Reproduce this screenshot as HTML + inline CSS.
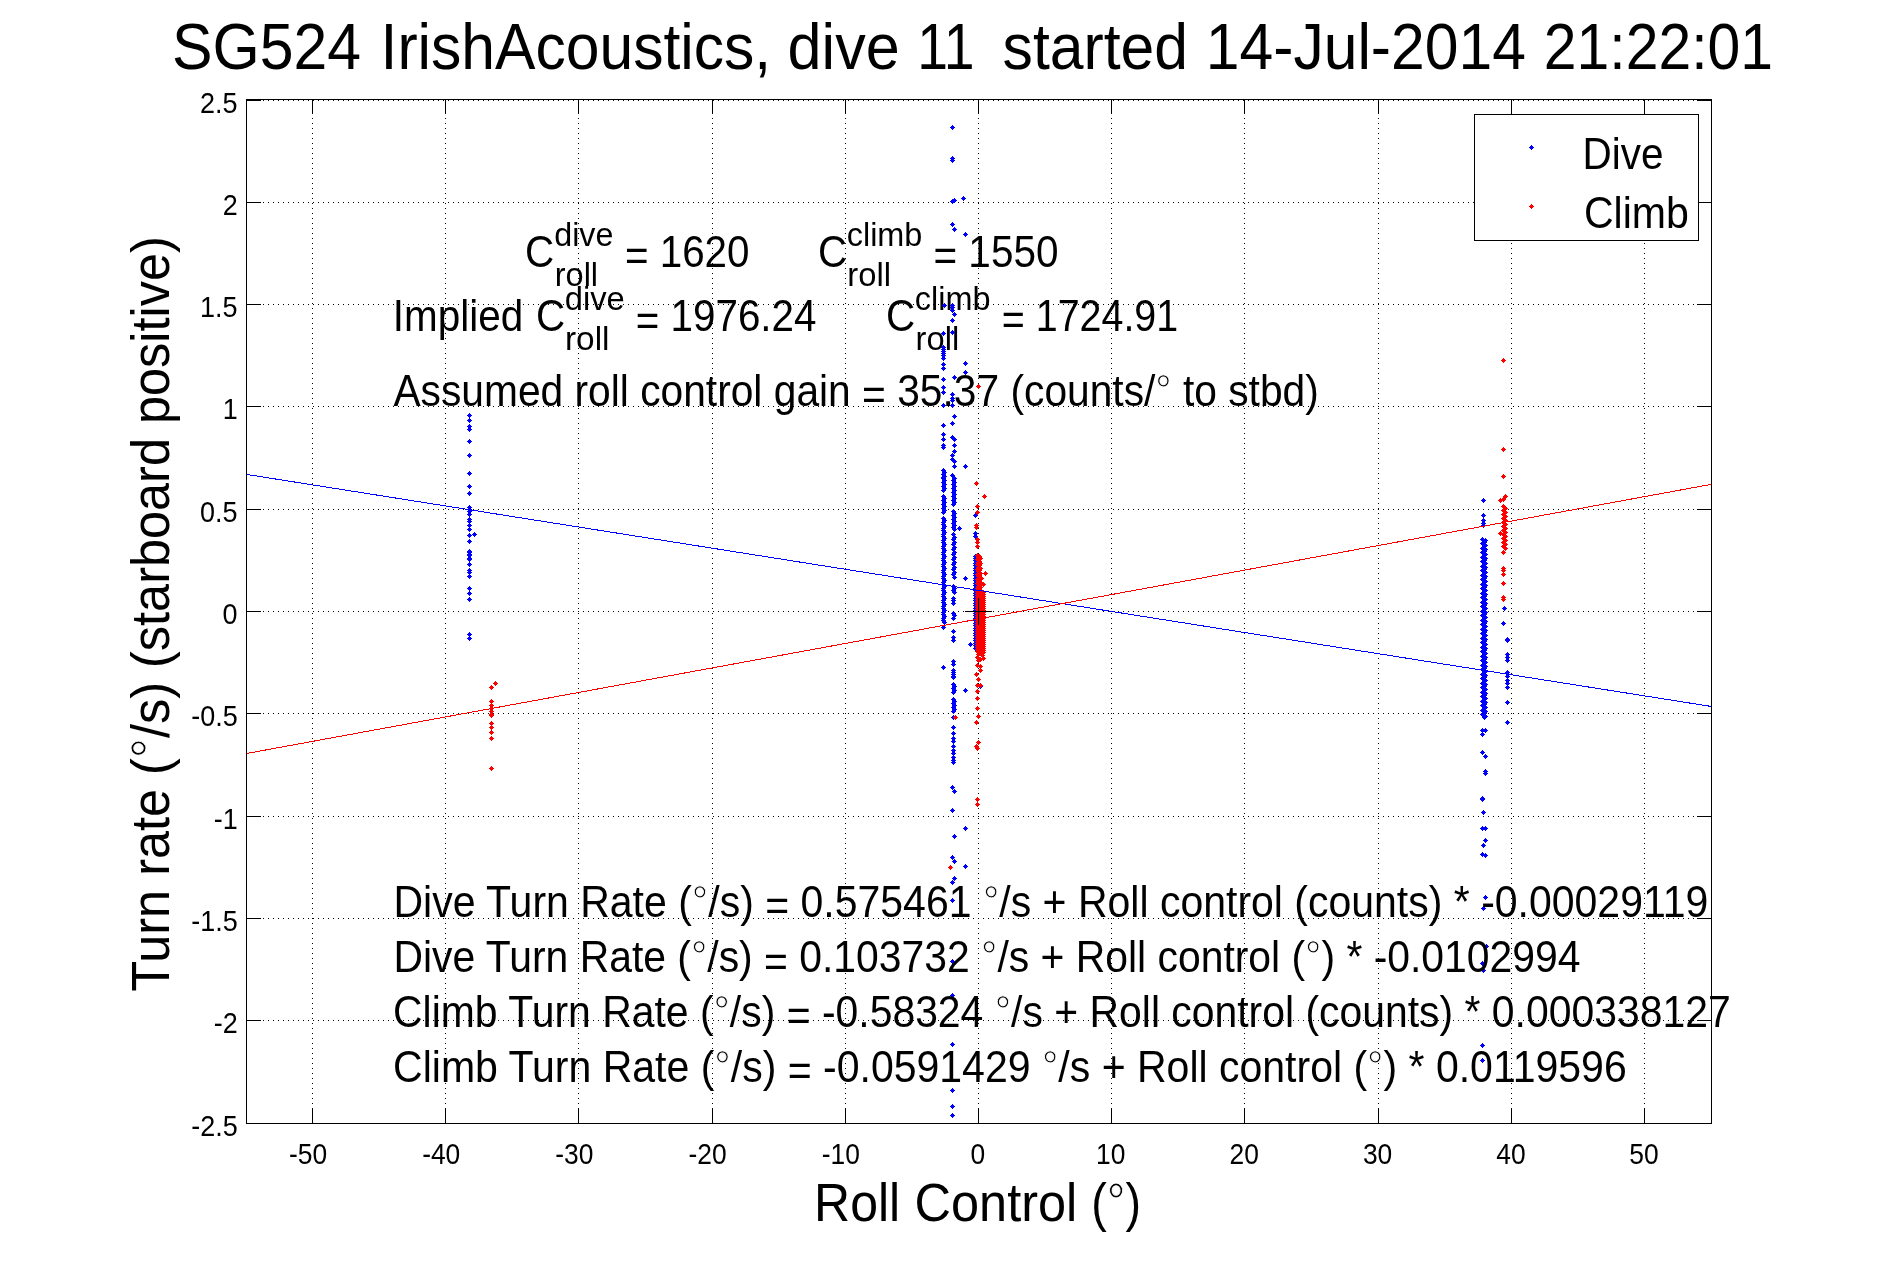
<!DOCTYPE html>
<html><head><meta charset="utf-8"><style>html,body{margin:0;padding:0;background:#fff;overflow:hidden}svg{display:block;will-change:transform}</style></head>
<body><svg width="1891" height="1262" viewBox="0 0 1891 1262">
<rect width="1891" height="1262" fill="#fff"/>
<path fill="#000" d="M312 103h1v1h-1zM312 108h1v1h-1zM312 113h1v1h-1zM312 118h1v1h-1zM312 123h1v1h-1zM312 128h1v1h-1zM312 133h1v1h-1zM312 138h1v1h-1zM312 143h1v1h-1zM312 148h1v1h-1zM312 153h1v1h-1zM312 158h1v1h-1zM312 163h1v1h-1zM312 168h1v1h-1zM312 173h1v1h-1zM312 178h1v1h-1zM312 183h1v1h-1zM312 188h1v1h-1zM312 193h1v1h-1zM312 198h1v1h-1zM312 203h1v1h-1zM312 208h1v1h-1zM312 213h1v1h-1zM312 218h1v1h-1zM312 223h1v1h-1zM312 228h1v1h-1zM312 233h1v1h-1zM312 238h1v1h-1zM312 243h1v1h-1zM312 248h1v1h-1zM312 253h1v1h-1zM312 258h1v1h-1zM312 263h1v1h-1zM312 268h1v1h-1zM312 273h1v1h-1zM312 278h1v1h-1zM312 283h1v1h-1zM312 288h1v1h-1zM312 293h1v1h-1zM312 298h1v1h-1zM312 303h1v1h-1zM312 308h1v1h-1zM312 313h1v1h-1zM312 318h1v1h-1zM312 323h1v1h-1zM312 328h1v1h-1zM312 333h1v1h-1zM312 338h1v1h-1zM312 343h1v1h-1zM312 348h1v1h-1zM312 353h1v1h-1zM312 358h1v1h-1zM312 363h1v1h-1zM312 368h1v1h-1zM312 373h1v1h-1zM312 378h1v1h-1zM312 383h1v1h-1zM312 388h1v1h-1zM312 393h1v1h-1zM312 398h1v1h-1zM312 403h1v1h-1zM312 408h1v1h-1zM312 413h1v1h-1zM312 418h1v1h-1zM312 423h1v1h-1zM312 428h1v1h-1zM312 433h1v1h-1zM312 438h1v1h-1zM312 443h1v1h-1zM312 448h1v1h-1zM312 453h1v1h-1zM312 458h1v1h-1zM312 463h1v1h-1zM312 468h1v1h-1zM312 473h1v1h-1zM312 478h1v1h-1zM312 483h1v1h-1zM312 488h1v1h-1zM312 493h1v1h-1zM312 498h1v1h-1zM312 503h1v1h-1zM312 508h1v1h-1zM312 513h1v1h-1zM312 518h1v1h-1zM312 523h1v1h-1zM312 528h1v1h-1zM312 533h1v1h-1zM312 538h1v1h-1zM312 543h1v1h-1zM312 548h1v1h-1zM312 553h1v1h-1zM312 558h1v1h-1zM312 563h1v1h-1zM312 568h1v1h-1zM312 573h1v1h-1zM312 578h1v1h-1zM312 583h1v1h-1zM312 588h1v1h-1zM312 593h1v1h-1zM312 598h1v1h-1zM312 603h1v1h-1zM312 608h1v1h-1zM312 613h1v1h-1zM312 618h1v1h-1zM312 623h1v1h-1zM312 628h1v1h-1zM312 633h1v1h-1zM312 638h1v1h-1zM312 643h1v1h-1zM312 648h1v1h-1zM312 653h1v1h-1zM312 658h1v1h-1zM312 663h1v1h-1zM312 668h1v1h-1zM312 673h1v1h-1zM312 678h1v1h-1zM312 683h1v1h-1zM312 688h1v1h-1zM312 693h1v1h-1zM312 698h1v1h-1zM312 703h1v1h-1zM312 708h1v1h-1zM312 713h1v1h-1zM312 718h1v1h-1zM312 723h1v1h-1zM312 728h1v1h-1zM312 733h1v1h-1zM312 738h1v1h-1zM312 743h1v1h-1zM312 748h1v1h-1zM312 753h1v1h-1zM312 758h1v1h-1zM312 763h1v1h-1zM312 768h1v1h-1zM312 773h1v1h-1zM312 778h1v1h-1zM312 783h1v1h-1zM312 788h1v1h-1zM312 793h1v1h-1zM312 798h1v1h-1zM312 803h1v1h-1zM312 808h1v1h-1zM312 813h1v1h-1zM312 818h1v1h-1zM312 823h1v1h-1zM312 828h1v1h-1zM312 833h1v1h-1zM312 838h1v1h-1zM312 843h1v1h-1zM312 848h1v1h-1zM312 853h1v1h-1zM312 858h1v1h-1zM312 863h1v1h-1zM312 868h1v1h-1zM312 873h1v1h-1zM312 878h1v1h-1zM312 883h1v1h-1zM312 888h1v1h-1zM312 893h1v1h-1zM312 898h1v1h-1zM312 903h1v1h-1zM312 908h1v1h-1zM312 913h1v1h-1zM312 918h1v1h-1zM312 923h1v1h-1zM312 928h1v1h-1zM312 933h1v1h-1zM312 938h1v1h-1zM312 943h1v1h-1zM312 948h1v1h-1zM312 953h1v1h-1zM312 958h1v1h-1zM312 963h1v1h-1zM312 968h1v1h-1zM312 973h1v1h-1zM312 978h1v1h-1zM312 983h1v1h-1zM312 988h1v1h-1zM312 993h1v1h-1zM312 998h1v1h-1zM312 1003h1v1h-1zM312 1008h1v1h-1zM312 1013h1v1h-1zM312 1018h1v1h-1zM312 1023h1v1h-1zM312 1028h1v1h-1zM312 1033h1v1h-1zM312 1038h1v1h-1zM312 1043h1v1h-1zM312 1048h1v1h-1zM312 1053h1v1h-1zM312 1058h1v1h-1zM312 1063h1v1h-1zM312 1068h1v1h-1zM312 1073h1v1h-1zM312 1078h1v1h-1zM312 1083h1v1h-1zM312 1088h1v1h-1zM312 1093h1v1h-1zM312 1098h1v1h-1zM312 1103h1v1h-1zM312 1108h1v1h-1zM312 1113h1v1h-1zM312 1118h1v1h-1zM445 103h1v1h-1zM445 108h1v1h-1zM445 113h1v1h-1zM445 118h1v1h-1zM445 123h1v1h-1zM445 128h1v1h-1zM445 133h1v1h-1zM445 138h1v1h-1zM445 143h1v1h-1zM445 148h1v1h-1zM445 153h1v1h-1zM445 158h1v1h-1zM445 163h1v1h-1zM445 168h1v1h-1zM445 173h1v1h-1zM445 178h1v1h-1zM445 183h1v1h-1zM445 188h1v1h-1zM445 193h1v1h-1zM445 198h1v1h-1zM445 203h1v1h-1zM445 208h1v1h-1zM445 213h1v1h-1zM445 218h1v1h-1zM445 223h1v1h-1zM445 228h1v1h-1zM445 233h1v1h-1zM445 238h1v1h-1zM445 243h1v1h-1zM445 248h1v1h-1zM445 253h1v1h-1zM445 258h1v1h-1zM445 263h1v1h-1zM445 268h1v1h-1zM445 273h1v1h-1zM445 278h1v1h-1zM445 283h1v1h-1zM445 288h1v1h-1zM445 293h1v1h-1zM445 298h1v1h-1zM445 303h1v1h-1zM445 308h1v1h-1zM445 313h1v1h-1zM445 318h1v1h-1zM445 323h1v1h-1zM445 328h1v1h-1zM445 333h1v1h-1zM445 338h1v1h-1zM445 343h1v1h-1zM445 348h1v1h-1zM445 353h1v1h-1zM445 358h1v1h-1zM445 363h1v1h-1zM445 368h1v1h-1zM445 373h1v1h-1zM445 378h1v1h-1zM445 383h1v1h-1zM445 388h1v1h-1zM445 393h1v1h-1zM445 398h1v1h-1zM445 403h1v1h-1zM445 408h1v1h-1zM445 413h1v1h-1zM445 418h1v1h-1zM445 423h1v1h-1zM445 428h1v1h-1zM445 433h1v1h-1zM445 438h1v1h-1zM445 443h1v1h-1zM445 448h1v1h-1zM445 453h1v1h-1zM445 458h1v1h-1zM445 463h1v1h-1zM445 468h1v1h-1zM445 473h1v1h-1zM445 478h1v1h-1zM445 483h1v1h-1zM445 488h1v1h-1zM445 493h1v1h-1zM445 498h1v1h-1zM445 503h1v1h-1zM445 508h1v1h-1zM445 513h1v1h-1zM445 518h1v1h-1zM445 523h1v1h-1zM445 528h1v1h-1zM445 533h1v1h-1zM445 538h1v1h-1zM445 543h1v1h-1zM445 548h1v1h-1zM445 553h1v1h-1zM445 558h1v1h-1zM445 563h1v1h-1zM445 568h1v1h-1zM445 573h1v1h-1zM445 578h1v1h-1zM445 583h1v1h-1zM445 588h1v1h-1zM445 593h1v1h-1zM445 598h1v1h-1zM445 603h1v1h-1zM445 608h1v1h-1zM445 613h1v1h-1zM445 618h1v1h-1zM445 623h1v1h-1zM445 628h1v1h-1zM445 633h1v1h-1zM445 638h1v1h-1zM445 643h1v1h-1zM445 648h1v1h-1zM445 653h1v1h-1zM445 658h1v1h-1zM445 663h1v1h-1zM445 668h1v1h-1zM445 673h1v1h-1zM445 678h1v1h-1zM445 683h1v1h-1zM445 688h1v1h-1zM445 693h1v1h-1zM445 698h1v1h-1zM445 703h1v1h-1zM445 708h1v1h-1zM445 713h1v1h-1zM445 718h1v1h-1zM445 723h1v1h-1zM445 728h1v1h-1zM445 733h1v1h-1zM445 738h1v1h-1zM445 743h1v1h-1zM445 748h1v1h-1zM445 753h1v1h-1zM445 758h1v1h-1zM445 763h1v1h-1zM445 768h1v1h-1zM445 773h1v1h-1zM445 778h1v1h-1zM445 783h1v1h-1zM445 788h1v1h-1zM445 793h1v1h-1zM445 798h1v1h-1zM445 803h1v1h-1zM445 808h1v1h-1zM445 813h1v1h-1zM445 818h1v1h-1zM445 823h1v1h-1zM445 828h1v1h-1zM445 833h1v1h-1zM445 838h1v1h-1zM445 843h1v1h-1zM445 848h1v1h-1zM445 853h1v1h-1zM445 858h1v1h-1zM445 863h1v1h-1zM445 868h1v1h-1zM445 873h1v1h-1zM445 878h1v1h-1zM445 883h1v1h-1zM445 888h1v1h-1zM445 893h1v1h-1zM445 898h1v1h-1zM445 903h1v1h-1zM445 908h1v1h-1zM445 913h1v1h-1zM445 918h1v1h-1zM445 923h1v1h-1zM445 928h1v1h-1zM445 933h1v1h-1zM445 938h1v1h-1zM445 943h1v1h-1zM445 948h1v1h-1zM445 953h1v1h-1zM445 958h1v1h-1zM445 963h1v1h-1zM445 968h1v1h-1zM445 973h1v1h-1zM445 978h1v1h-1zM445 983h1v1h-1zM445 988h1v1h-1zM445 993h1v1h-1zM445 998h1v1h-1zM445 1003h1v1h-1zM445 1008h1v1h-1zM445 1013h1v1h-1zM445 1018h1v1h-1zM445 1023h1v1h-1zM445 1028h1v1h-1zM445 1033h1v1h-1zM445 1038h1v1h-1zM445 1043h1v1h-1zM445 1048h1v1h-1zM445 1053h1v1h-1zM445 1058h1v1h-1zM445 1063h1v1h-1zM445 1068h1v1h-1zM445 1073h1v1h-1zM445 1078h1v1h-1zM445 1083h1v1h-1zM445 1088h1v1h-1zM445 1093h1v1h-1zM445 1098h1v1h-1zM445 1103h1v1h-1zM445 1108h1v1h-1zM445 1113h1v1h-1zM445 1118h1v1h-1zM578 103h1v1h-1zM578 108h1v1h-1zM578 113h1v1h-1zM578 118h1v1h-1zM578 123h1v1h-1zM578 128h1v1h-1zM578 133h1v1h-1zM578 138h1v1h-1zM578 143h1v1h-1zM578 148h1v1h-1zM578 153h1v1h-1zM578 158h1v1h-1zM578 163h1v1h-1zM578 168h1v1h-1zM578 173h1v1h-1zM578 178h1v1h-1zM578 183h1v1h-1zM578 188h1v1h-1zM578 193h1v1h-1zM578 198h1v1h-1zM578 203h1v1h-1zM578 208h1v1h-1zM578 213h1v1h-1zM578 218h1v1h-1zM578 223h1v1h-1zM578 228h1v1h-1zM578 233h1v1h-1zM578 238h1v1h-1zM578 243h1v1h-1zM578 248h1v1h-1zM578 253h1v1h-1zM578 258h1v1h-1zM578 263h1v1h-1zM578 268h1v1h-1zM578 273h1v1h-1zM578 278h1v1h-1zM578 283h1v1h-1zM578 288h1v1h-1zM578 293h1v1h-1zM578 298h1v1h-1zM578 303h1v1h-1zM578 308h1v1h-1zM578 313h1v1h-1zM578 318h1v1h-1zM578 323h1v1h-1zM578 328h1v1h-1zM578 333h1v1h-1zM578 338h1v1h-1zM578 343h1v1h-1zM578 348h1v1h-1zM578 353h1v1h-1zM578 358h1v1h-1zM578 363h1v1h-1zM578 368h1v1h-1zM578 373h1v1h-1zM578 378h1v1h-1zM578 383h1v1h-1zM578 388h1v1h-1zM578 393h1v1h-1zM578 398h1v1h-1zM578 403h1v1h-1zM578 408h1v1h-1zM578 413h1v1h-1zM578 418h1v1h-1zM578 423h1v1h-1zM578 428h1v1h-1zM578 433h1v1h-1zM578 438h1v1h-1zM578 443h1v1h-1zM578 448h1v1h-1zM578 453h1v1h-1zM578 458h1v1h-1zM578 463h1v1h-1zM578 468h1v1h-1zM578 473h1v1h-1zM578 478h1v1h-1zM578 483h1v1h-1zM578 488h1v1h-1zM578 493h1v1h-1zM578 498h1v1h-1zM578 503h1v1h-1zM578 508h1v1h-1zM578 513h1v1h-1zM578 518h1v1h-1zM578 523h1v1h-1zM578 528h1v1h-1zM578 533h1v1h-1zM578 538h1v1h-1zM578 543h1v1h-1zM578 548h1v1h-1zM578 553h1v1h-1zM578 558h1v1h-1zM578 563h1v1h-1zM578 568h1v1h-1zM578 573h1v1h-1zM578 578h1v1h-1zM578 583h1v1h-1zM578 588h1v1h-1zM578 593h1v1h-1zM578 598h1v1h-1zM578 603h1v1h-1zM578 608h1v1h-1zM578 613h1v1h-1zM578 618h1v1h-1zM578 623h1v1h-1zM578 628h1v1h-1zM578 633h1v1h-1zM578 638h1v1h-1zM578 643h1v1h-1zM578 648h1v1h-1zM578 653h1v1h-1zM578 658h1v1h-1zM578 663h1v1h-1zM578 668h1v1h-1zM578 673h1v1h-1zM578 678h1v1h-1zM578 683h1v1h-1zM578 688h1v1h-1zM578 693h1v1h-1zM578 698h1v1h-1zM578 703h1v1h-1zM578 708h1v1h-1zM578 713h1v1h-1zM578 718h1v1h-1zM578 723h1v1h-1zM578 728h1v1h-1zM578 733h1v1h-1zM578 738h1v1h-1zM578 743h1v1h-1zM578 748h1v1h-1zM578 753h1v1h-1zM578 758h1v1h-1zM578 763h1v1h-1zM578 768h1v1h-1zM578 773h1v1h-1zM578 778h1v1h-1zM578 783h1v1h-1zM578 788h1v1h-1zM578 793h1v1h-1zM578 798h1v1h-1zM578 803h1v1h-1zM578 808h1v1h-1zM578 813h1v1h-1zM578 818h1v1h-1zM578 823h1v1h-1zM578 828h1v1h-1zM578 833h1v1h-1zM578 838h1v1h-1zM578 843h1v1h-1zM578 848h1v1h-1zM578 853h1v1h-1zM578 858h1v1h-1zM578 863h1v1h-1zM578 868h1v1h-1zM578 873h1v1h-1zM578 878h1v1h-1zM578 883h1v1h-1zM578 888h1v1h-1zM578 893h1v1h-1zM578 898h1v1h-1zM578 903h1v1h-1zM578 908h1v1h-1zM578 913h1v1h-1zM578 918h1v1h-1zM578 923h1v1h-1zM578 928h1v1h-1zM578 933h1v1h-1zM578 938h1v1h-1zM578 943h1v1h-1zM578 948h1v1h-1zM578 953h1v1h-1zM578 958h1v1h-1zM578 963h1v1h-1zM578 968h1v1h-1zM578 973h1v1h-1zM578 978h1v1h-1zM578 983h1v1h-1zM578 988h1v1h-1zM578 993h1v1h-1zM578 998h1v1h-1zM578 1003h1v1h-1zM578 1008h1v1h-1zM578 1013h1v1h-1zM578 1018h1v1h-1zM578 1023h1v1h-1zM578 1028h1v1h-1zM578 1033h1v1h-1zM578 1038h1v1h-1zM578 1043h1v1h-1zM578 1048h1v1h-1zM578 1053h1v1h-1zM578 1058h1v1h-1zM578 1063h1v1h-1zM578 1068h1v1h-1zM578 1073h1v1h-1zM578 1078h1v1h-1zM578 1083h1v1h-1zM578 1088h1v1h-1zM578 1093h1v1h-1zM578 1098h1v1h-1zM578 1103h1v1h-1zM578 1108h1v1h-1zM578 1113h1v1h-1zM578 1118h1v1h-1zM712 103h1v1h-1zM712 108h1v1h-1zM712 113h1v1h-1zM712 118h1v1h-1zM712 123h1v1h-1zM712 128h1v1h-1zM712 133h1v1h-1zM712 138h1v1h-1zM712 143h1v1h-1zM712 148h1v1h-1zM712 153h1v1h-1zM712 158h1v1h-1zM712 163h1v1h-1zM712 168h1v1h-1zM712 173h1v1h-1zM712 178h1v1h-1zM712 183h1v1h-1zM712 188h1v1h-1zM712 193h1v1h-1zM712 198h1v1h-1zM712 203h1v1h-1zM712 208h1v1h-1zM712 213h1v1h-1zM712 218h1v1h-1zM712 223h1v1h-1zM712 228h1v1h-1zM712 233h1v1h-1zM712 238h1v1h-1zM712 243h1v1h-1zM712 248h1v1h-1zM712 253h1v1h-1zM712 258h1v1h-1zM712 263h1v1h-1zM712 268h1v1h-1zM712 273h1v1h-1zM712 278h1v1h-1zM712 283h1v1h-1zM712 288h1v1h-1zM712 293h1v1h-1zM712 298h1v1h-1zM712 303h1v1h-1zM712 308h1v1h-1zM712 313h1v1h-1zM712 318h1v1h-1zM712 323h1v1h-1zM712 328h1v1h-1zM712 333h1v1h-1zM712 338h1v1h-1zM712 343h1v1h-1zM712 348h1v1h-1zM712 353h1v1h-1zM712 358h1v1h-1zM712 363h1v1h-1zM712 368h1v1h-1zM712 373h1v1h-1zM712 378h1v1h-1zM712 383h1v1h-1zM712 388h1v1h-1zM712 393h1v1h-1zM712 398h1v1h-1zM712 403h1v1h-1zM712 408h1v1h-1zM712 413h1v1h-1zM712 418h1v1h-1zM712 423h1v1h-1zM712 428h1v1h-1zM712 433h1v1h-1zM712 438h1v1h-1zM712 443h1v1h-1zM712 448h1v1h-1zM712 453h1v1h-1zM712 458h1v1h-1zM712 463h1v1h-1zM712 468h1v1h-1zM712 473h1v1h-1zM712 478h1v1h-1zM712 483h1v1h-1zM712 488h1v1h-1zM712 493h1v1h-1zM712 498h1v1h-1zM712 503h1v1h-1zM712 508h1v1h-1zM712 513h1v1h-1zM712 518h1v1h-1zM712 523h1v1h-1zM712 528h1v1h-1zM712 533h1v1h-1zM712 538h1v1h-1zM712 543h1v1h-1zM712 548h1v1h-1zM712 553h1v1h-1zM712 558h1v1h-1zM712 563h1v1h-1zM712 568h1v1h-1zM712 573h1v1h-1zM712 578h1v1h-1zM712 583h1v1h-1zM712 588h1v1h-1zM712 593h1v1h-1zM712 598h1v1h-1zM712 603h1v1h-1zM712 608h1v1h-1zM712 613h1v1h-1zM712 618h1v1h-1zM712 623h1v1h-1zM712 628h1v1h-1zM712 633h1v1h-1zM712 638h1v1h-1zM712 643h1v1h-1zM712 648h1v1h-1zM712 653h1v1h-1zM712 658h1v1h-1zM712 663h1v1h-1zM712 668h1v1h-1zM712 673h1v1h-1zM712 678h1v1h-1zM712 683h1v1h-1zM712 688h1v1h-1zM712 693h1v1h-1zM712 698h1v1h-1zM712 703h1v1h-1zM712 708h1v1h-1zM712 713h1v1h-1zM712 718h1v1h-1zM712 723h1v1h-1zM712 728h1v1h-1zM712 733h1v1h-1zM712 738h1v1h-1zM712 743h1v1h-1zM712 748h1v1h-1zM712 753h1v1h-1zM712 758h1v1h-1zM712 763h1v1h-1zM712 768h1v1h-1zM712 773h1v1h-1zM712 778h1v1h-1zM712 783h1v1h-1zM712 788h1v1h-1zM712 793h1v1h-1zM712 798h1v1h-1zM712 803h1v1h-1zM712 808h1v1h-1zM712 813h1v1h-1zM712 818h1v1h-1zM712 823h1v1h-1zM712 828h1v1h-1zM712 833h1v1h-1zM712 838h1v1h-1zM712 843h1v1h-1zM712 848h1v1h-1zM712 853h1v1h-1zM712 858h1v1h-1zM712 863h1v1h-1zM712 868h1v1h-1zM712 873h1v1h-1zM712 878h1v1h-1zM712 883h1v1h-1zM712 888h1v1h-1zM712 893h1v1h-1zM712 898h1v1h-1zM712 903h1v1h-1zM712 908h1v1h-1zM712 913h1v1h-1zM712 918h1v1h-1zM712 923h1v1h-1zM712 928h1v1h-1zM712 933h1v1h-1zM712 938h1v1h-1zM712 943h1v1h-1zM712 948h1v1h-1zM712 953h1v1h-1zM712 958h1v1h-1zM712 963h1v1h-1zM712 968h1v1h-1zM712 973h1v1h-1zM712 978h1v1h-1zM712 983h1v1h-1zM712 988h1v1h-1zM712 993h1v1h-1zM712 998h1v1h-1zM712 1003h1v1h-1zM712 1008h1v1h-1zM712 1013h1v1h-1zM712 1018h1v1h-1zM712 1023h1v1h-1zM712 1028h1v1h-1zM712 1033h1v1h-1zM712 1038h1v1h-1zM712 1043h1v1h-1zM712 1048h1v1h-1zM712 1053h1v1h-1zM712 1058h1v1h-1zM712 1063h1v1h-1zM712 1068h1v1h-1zM712 1073h1v1h-1zM712 1078h1v1h-1zM712 1083h1v1h-1zM712 1088h1v1h-1zM712 1093h1v1h-1zM712 1098h1v1h-1zM712 1103h1v1h-1zM712 1108h1v1h-1zM712 1113h1v1h-1zM712 1118h1v1h-1zM845 103h1v1h-1zM845 108h1v1h-1zM845 113h1v1h-1zM845 118h1v1h-1zM845 123h1v1h-1zM845 128h1v1h-1zM845 133h1v1h-1zM845 138h1v1h-1zM845 143h1v1h-1zM845 148h1v1h-1zM845 153h1v1h-1zM845 158h1v1h-1zM845 163h1v1h-1zM845 168h1v1h-1zM845 173h1v1h-1zM845 178h1v1h-1zM845 183h1v1h-1zM845 188h1v1h-1zM845 193h1v1h-1zM845 198h1v1h-1zM845 203h1v1h-1zM845 208h1v1h-1zM845 213h1v1h-1zM845 218h1v1h-1zM845 223h1v1h-1zM845 228h1v1h-1zM845 233h1v1h-1zM845 238h1v1h-1zM845 243h1v1h-1zM845 248h1v1h-1zM845 253h1v1h-1zM845 258h1v1h-1zM845 263h1v1h-1zM845 268h1v1h-1zM845 273h1v1h-1zM845 278h1v1h-1zM845 283h1v1h-1zM845 288h1v1h-1zM845 293h1v1h-1zM845 298h1v1h-1zM845 303h1v1h-1zM845 308h1v1h-1zM845 313h1v1h-1zM845 318h1v1h-1zM845 323h1v1h-1zM845 328h1v1h-1zM845 333h1v1h-1zM845 338h1v1h-1zM845 343h1v1h-1zM845 348h1v1h-1zM845 353h1v1h-1zM845 358h1v1h-1zM845 363h1v1h-1zM845 368h1v1h-1zM845 373h1v1h-1zM845 378h1v1h-1zM845 383h1v1h-1zM845 388h1v1h-1zM845 393h1v1h-1zM845 398h1v1h-1zM845 403h1v1h-1zM845 408h1v1h-1zM845 413h1v1h-1zM845 418h1v1h-1zM845 423h1v1h-1zM845 428h1v1h-1zM845 433h1v1h-1zM845 438h1v1h-1zM845 443h1v1h-1zM845 448h1v1h-1zM845 453h1v1h-1zM845 458h1v1h-1zM845 463h1v1h-1zM845 468h1v1h-1zM845 473h1v1h-1zM845 478h1v1h-1zM845 483h1v1h-1zM845 488h1v1h-1zM845 493h1v1h-1zM845 498h1v1h-1zM845 503h1v1h-1zM845 508h1v1h-1zM845 513h1v1h-1zM845 518h1v1h-1zM845 523h1v1h-1zM845 528h1v1h-1zM845 533h1v1h-1zM845 538h1v1h-1zM845 543h1v1h-1zM845 548h1v1h-1zM845 553h1v1h-1zM845 558h1v1h-1zM845 563h1v1h-1zM845 568h1v1h-1zM845 573h1v1h-1zM845 578h1v1h-1zM845 583h1v1h-1zM845 588h1v1h-1zM845 593h1v1h-1zM845 598h1v1h-1zM845 603h1v1h-1zM845 608h1v1h-1zM845 613h1v1h-1zM845 618h1v1h-1zM845 623h1v1h-1zM845 628h1v1h-1zM845 633h1v1h-1zM845 638h1v1h-1zM845 643h1v1h-1zM845 648h1v1h-1zM845 653h1v1h-1zM845 658h1v1h-1zM845 663h1v1h-1zM845 668h1v1h-1zM845 673h1v1h-1zM845 678h1v1h-1zM845 683h1v1h-1zM845 688h1v1h-1zM845 693h1v1h-1zM845 698h1v1h-1zM845 703h1v1h-1zM845 708h1v1h-1zM845 713h1v1h-1zM845 718h1v1h-1zM845 723h1v1h-1zM845 728h1v1h-1zM845 733h1v1h-1zM845 738h1v1h-1zM845 743h1v1h-1zM845 748h1v1h-1zM845 753h1v1h-1zM845 758h1v1h-1zM845 763h1v1h-1zM845 768h1v1h-1zM845 773h1v1h-1zM845 778h1v1h-1zM845 783h1v1h-1zM845 788h1v1h-1zM845 793h1v1h-1zM845 798h1v1h-1zM845 803h1v1h-1zM845 808h1v1h-1zM845 813h1v1h-1zM845 818h1v1h-1zM845 823h1v1h-1zM845 828h1v1h-1zM845 833h1v1h-1zM845 838h1v1h-1zM845 843h1v1h-1zM845 848h1v1h-1zM845 853h1v1h-1zM845 858h1v1h-1zM845 863h1v1h-1zM845 868h1v1h-1zM845 873h1v1h-1zM845 878h1v1h-1zM845 883h1v1h-1zM845 888h1v1h-1zM845 893h1v1h-1zM845 898h1v1h-1zM845 903h1v1h-1zM845 908h1v1h-1zM845 913h1v1h-1zM845 918h1v1h-1zM845 923h1v1h-1zM845 928h1v1h-1zM845 933h1v1h-1zM845 938h1v1h-1zM845 943h1v1h-1zM845 948h1v1h-1zM845 953h1v1h-1zM845 958h1v1h-1zM845 963h1v1h-1zM845 968h1v1h-1zM845 973h1v1h-1zM845 978h1v1h-1zM845 983h1v1h-1zM845 988h1v1h-1zM845 993h1v1h-1zM845 998h1v1h-1zM845 1003h1v1h-1zM845 1008h1v1h-1zM845 1013h1v1h-1zM845 1018h1v1h-1zM845 1023h1v1h-1zM845 1028h1v1h-1zM845 1033h1v1h-1zM845 1038h1v1h-1zM845 1043h1v1h-1zM845 1048h1v1h-1zM845 1053h1v1h-1zM845 1058h1v1h-1zM845 1063h1v1h-1zM845 1068h1v1h-1zM845 1073h1v1h-1zM845 1078h1v1h-1zM845 1083h1v1h-1zM845 1088h1v1h-1zM845 1093h1v1h-1zM845 1098h1v1h-1zM845 1103h1v1h-1zM845 1108h1v1h-1zM845 1113h1v1h-1zM845 1118h1v1h-1zM978 103h1v1h-1zM978 108h1v1h-1zM978 113h1v1h-1zM978 118h1v1h-1zM978 123h1v1h-1zM978 128h1v1h-1zM978 133h1v1h-1zM978 138h1v1h-1zM978 143h1v1h-1zM978 148h1v1h-1zM978 153h1v1h-1zM978 158h1v1h-1zM978 163h1v1h-1zM978 168h1v1h-1zM978 173h1v1h-1zM978 178h1v1h-1zM978 183h1v1h-1zM978 188h1v1h-1zM978 193h1v1h-1zM978 198h1v1h-1zM978 203h1v1h-1zM978 208h1v1h-1zM978 213h1v1h-1zM978 218h1v1h-1zM978 223h1v1h-1zM978 228h1v1h-1zM978 233h1v1h-1zM978 238h1v1h-1zM978 243h1v1h-1zM978 248h1v1h-1zM978 253h1v1h-1zM978 258h1v1h-1zM978 263h1v1h-1zM978 268h1v1h-1zM978 273h1v1h-1zM978 278h1v1h-1zM978 283h1v1h-1zM978 288h1v1h-1zM978 293h1v1h-1zM978 298h1v1h-1zM978 303h1v1h-1zM978 308h1v1h-1zM978 313h1v1h-1zM978 318h1v1h-1zM978 323h1v1h-1zM978 328h1v1h-1zM978 333h1v1h-1zM978 338h1v1h-1zM978 343h1v1h-1zM978 348h1v1h-1zM978 353h1v1h-1zM978 358h1v1h-1zM978 363h1v1h-1zM978 368h1v1h-1zM978 373h1v1h-1zM978 378h1v1h-1zM978 383h1v1h-1zM978 388h1v1h-1zM978 393h1v1h-1zM978 398h1v1h-1zM978 403h1v1h-1zM978 408h1v1h-1zM978 413h1v1h-1zM978 418h1v1h-1zM978 423h1v1h-1zM978 428h1v1h-1zM978 433h1v1h-1zM978 438h1v1h-1zM978 443h1v1h-1zM978 448h1v1h-1zM978 453h1v1h-1zM978 458h1v1h-1zM978 463h1v1h-1zM978 468h1v1h-1zM978 473h1v1h-1zM978 478h1v1h-1zM978 483h1v1h-1zM978 488h1v1h-1zM978 493h1v1h-1zM978 498h1v1h-1zM978 503h1v1h-1zM978 508h1v1h-1zM978 513h1v1h-1zM978 518h1v1h-1zM978 523h1v1h-1zM978 528h1v1h-1zM978 533h1v1h-1zM978 538h1v1h-1zM978 543h1v1h-1zM978 548h1v1h-1zM978 553h1v1h-1zM978 558h1v1h-1zM978 563h1v1h-1zM978 568h1v1h-1zM978 573h1v1h-1zM978 578h1v1h-1zM978 583h1v1h-1zM978 588h1v1h-1zM978 593h1v1h-1zM978 598h1v1h-1zM978 603h1v1h-1zM978 608h1v1h-1zM978 613h1v1h-1zM978 618h1v1h-1zM978 623h1v1h-1zM978 628h1v1h-1zM978 633h1v1h-1zM978 638h1v1h-1zM978 643h1v1h-1zM978 648h1v1h-1zM978 653h1v1h-1zM978 658h1v1h-1zM978 663h1v1h-1zM978 668h1v1h-1zM978 673h1v1h-1zM978 678h1v1h-1zM978 683h1v1h-1zM978 688h1v1h-1zM978 693h1v1h-1zM978 698h1v1h-1zM978 703h1v1h-1zM978 708h1v1h-1zM978 713h1v1h-1zM978 718h1v1h-1zM978 723h1v1h-1zM978 728h1v1h-1zM978 733h1v1h-1zM978 738h1v1h-1zM978 743h1v1h-1zM978 748h1v1h-1zM978 753h1v1h-1zM978 758h1v1h-1zM978 763h1v1h-1zM978 768h1v1h-1zM978 773h1v1h-1zM978 778h1v1h-1zM978 783h1v1h-1zM978 788h1v1h-1zM978 793h1v1h-1zM978 798h1v1h-1zM978 803h1v1h-1zM978 808h1v1h-1zM978 813h1v1h-1zM978 818h1v1h-1zM978 823h1v1h-1zM978 828h1v1h-1zM978 833h1v1h-1zM978 838h1v1h-1zM978 843h1v1h-1zM978 848h1v1h-1zM978 853h1v1h-1zM978 858h1v1h-1zM978 863h1v1h-1zM978 868h1v1h-1zM978 873h1v1h-1zM978 878h1v1h-1zM978 883h1v1h-1zM978 888h1v1h-1zM978 893h1v1h-1zM978 898h1v1h-1zM978 903h1v1h-1zM978 908h1v1h-1zM978 913h1v1h-1zM978 918h1v1h-1zM978 923h1v1h-1zM978 928h1v1h-1zM978 933h1v1h-1zM978 938h1v1h-1zM978 943h1v1h-1zM978 948h1v1h-1zM978 953h1v1h-1zM978 958h1v1h-1zM978 963h1v1h-1zM978 968h1v1h-1zM978 973h1v1h-1zM978 978h1v1h-1zM978 983h1v1h-1zM978 988h1v1h-1zM978 993h1v1h-1zM978 998h1v1h-1zM978 1003h1v1h-1zM978 1008h1v1h-1zM978 1013h1v1h-1zM978 1018h1v1h-1zM978 1023h1v1h-1zM978 1028h1v1h-1zM978 1033h1v1h-1zM978 1038h1v1h-1zM978 1043h1v1h-1zM978 1048h1v1h-1zM978 1053h1v1h-1zM978 1058h1v1h-1zM978 1063h1v1h-1zM978 1068h1v1h-1zM978 1073h1v1h-1zM978 1078h1v1h-1zM978 1083h1v1h-1zM978 1088h1v1h-1zM978 1093h1v1h-1zM978 1098h1v1h-1zM978 1103h1v1h-1zM978 1108h1v1h-1zM978 1113h1v1h-1zM978 1118h1v1h-1zM1111 103h1v1h-1zM1111 108h1v1h-1zM1111 113h1v1h-1zM1111 118h1v1h-1zM1111 123h1v1h-1zM1111 128h1v1h-1zM1111 133h1v1h-1zM1111 138h1v1h-1zM1111 143h1v1h-1zM1111 148h1v1h-1zM1111 153h1v1h-1zM1111 158h1v1h-1zM1111 163h1v1h-1zM1111 168h1v1h-1zM1111 173h1v1h-1zM1111 178h1v1h-1zM1111 183h1v1h-1zM1111 188h1v1h-1zM1111 193h1v1h-1zM1111 198h1v1h-1zM1111 203h1v1h-1zM1111 208h1v1h-1zM1111 213h1v1h-1zM1111 218h1v1h-1zM1111 223h1v1h-1zM1111 228h1v1h-1zM1111 233h1v1h-1zM1111 238h1v1h-1zM1111 243h1v1h-1zM1111 248h1v1h-1zM1111 253h1v1h-1zM1111 258h1v1h-1zM1111 263h1v1h-1zM1111 268h1v1h-1zM1111 273h1v1h-1zM1111 278h1v1h-1zM1111 283h1v1h-1zM1111 288h1v1h-1zM1111 293h1v1h-1zM1111 298h1v1h-1zM1111 303h1v1h-1zM1111 308h1v1h-1zM1111 313h1v1h-1zM1111 318h1v1h-1zM1111 323h1v1h-1zM1111 328h1v1h-1zM1111 333h1v1h-1zM1111 338h1v1h-1zM1111 343h1v1h-1zM1111 348h1v1h-1zM1111 353h1v1h-1zM1111 358h1v1h-1zM1111 363h1v1h-1zM1111 368h1v1h-1zM1111 373h1v1h-1zM1111 378h1v1h-1zM1111 383h1v1h-1zM1111 388h1v1h-1zM1111 393h1v1h-1zM1111 398h1v1h-1zM1111 403h1v1h-1zM1111 408h1v1h-1zM1111 413h1v1h-1zM1111 418h1v1h-1zM1111 423h1v1h-1zM1111 428h1v1h-1zM1111 433h1v1h-1zM1111 438h1v1h-1zM1111 443h1v1h-1zM1111 448h1v1h-1zM1111 453h1v1h-1zM1111 458h1v1h-1zM1111 463h1v1h-1zM1111 468h1v1h-1zM1111 473h1v1h-1zM1111 478h1v1h-1zM1111 483h1v1h-1zM1111 488h1v1h-1zM1111 493h1v1h-1zM1111 498h1v1h-1zM1111 503h1v1h-1zM1111 508h1v1h-1zM1111 513h1v1h-1zM1111 518h1v1h-1zM1111 523h1v1h-1zM1111 528h1v1h-1zM1111 533h1v1h-1zM1111 538h1v1h-1zM1111 543h1v1h-1zM1111 548h1v1h-1zM1111 553h1v1h-1zM1111 558h1v1h-1zM1111 563h1v1h-1zM1111 568h1v1h-1zM1111 573h1v1h-1zM1111 578h1v1h-1zM1111 583h1v1h-1zM1111 588h1v1h-1zM1111 593h1v1h-1zM1111 598h1v1h-1zM1111 603h1v1h-1zM1111 608h1v1h-1zM1111 613h1v1h-1zM1111 618h1v1h-1zM1111 623h1v1h-1zM1111 628h1v1h-1zM1111 633h1v1h-1zM1111 638h1v1h-1zM1111 643h1v1h-1zM1111 648h1v1h-1zM1111 653h1v1h-1zM1111 658h1v1h-1zM1111 663h1v1h-1zM1111 668h1v1h-1zM1111 673h1v1h-1zM1111 678h1v1h-1zM1111 683h1v1h-1zM1111 688h1v1h-1zM1111 693h1v1h-1zM1111 698h1v1h-1zM1111 703h1v1h-1zM1111 708h1v1h-1zM1111 713h1v1h-1zM1111 718h1v1h-1zM1111 723h1v1h-1zM1111 728h1v1h-1zM1111 733h1v1h-1zM1111 738h1v1h-1zM1111 743h1v1h-1zM1111 748h1v1h-1zM1111 753h1v1h-1zM1111 758h1v1h-1zM1111 763h1v1h-1zM1111 768h1v1h-1zM1111 773h1v1h-1zM1111 778h1v1h-1zM1111 783h1v1h-1zM1111 788h1v1h-1zM1111 793h1v1h-1zM1111 798h1v1h-1zM1111 803h1v1h-1zM1111 808h1v1h-1zM1111 813h1v1h-1zM1111 818h1v1h-1zM1111 823h1v1h-1zM1111 828h1v1h-1zM1111 833h1v1h-1zM1111 838h1v1h-1zM1111 843h1v1h-1zM1111 848h1v1h-1zM1111 853h1v1h-1zM1111 858h1v1h-1zM1111 863h1v1h-1zM1111 868h1v1h-1zM1111 873h1v1h-1zM1111 878h1v1h-1zM1111 883h1v1h-1zM1111 888h1v1h-1zM1111 893h1v1h-1zM1111 898h1v1h-1zM1111 903h1v1h-1zM1111 908h1v1h-1zM1111 913h1v1h-1zM1111 918h1v1h-1zM1111 923h1v1h-1zM1111 928h1v1h-1zM1111 933h1v1h-1zM1111 938h1v1h-1zM1111 943h1v1h-1zM1111 948h1v1h-1zM1111 953h1v1h-1zM1111 958h1v1h-1zM1111 963h1v1h-1zM1111 968h1v1h-1zM1111 973h1v1h-1zM1111 978h1v1h-1zM1111 983h1v1h-1zM1111 988h1v1h-1zM1111 993h1v1h-1zM1111 998h1v1h-1zM1111 1003h1v1h-1zM1111 1008h1v1h-1zM1111 1013h1v1h-1zM1111 1018h1v1h-1zM1111 1023h1v1h-1zM1111 1028h1v1h-1zM1111 1033h1v1h-1zM1111 1038h1v1h-1zM1111 1043h1v1h-1zM1111 1048h1v1h-1zM1111 1053h1v1h-1zM1111 1058h1v1h-1zM1111 1063h1v1h-1zM1111 1068h1v1h-1zM1111 1073h1v1h-1zM1111 1078h1v1h-1zM1111 1083h1v1h-1zM1111 1088h1v1h-1zM1111 1093h1v1h-1zM1111 1098h1v1h-1zM1111 1103h1v1h-1zM1111 1108h1v1h-1zM1111 1113h1v1h-1zM1111 1118h1v1h-1zM1244 103h1v1h-1zM1244 108h1v1h-1zM1244 113h1v1h-1zM1244 118h1v1h-1zM1244 123h1v1h-1zM1244 128h1v1h-1zM1244 133h1v1h-1zM1244 138h1v1h-1zM1244 143h1v1h-1zM1244 148h1v1h-1zM1244 153h1v1h-1zM1244 158h1v1h-1zM1244 163h1v1h-1zM1244 168h1v1h-1zM1244 173h1v1h-1zM1244 178h1v1h-1zM1244 183h1v1h-1zM1244 188h1v1h-1zM1244 193h1v1h-1zM1244 198h1v1h-1zM1244 203h1v1h-1zM1244 208h1v1h-1zM1244 213h1v1h-1zM1244 218h1v1h-1zM1244 223h1v1h-1zM1244 228h1v1h-1zM1244 233h1v1h-1zM1244 238h1v1h-1zM1244 243h1v1h-1zM1244 248h1v1h-1zM1244 253h1v1h-1zM1244 258h1v1h-1zM1244 263h1v1h-1zM1244 268h1v1h-1zM1244 273h1v1h-1zM1244 278h1v1h-1zM1244 283h1v1h-1zM1244 288h1v1h-1zM1244 293h1v1h-1zM1244 298h1v1h-1zM1244 303h1v1h-1zM1244 308h1v1h-1zM1244 313h1v1h-1zM1244 318h1v1h-1zM1244 323h1v1h-1zM1244 328h1v1h-1zM1244 333h1v1h-1zM1244 338h1v1h-1zM1244 343h1v1h-1zM1244 348h1v1h-1zM1244 353h1v1h-1zM1244 358h1v1h-1zM1244 363h1v1h-1zM1244 368h1v1h-1zM1244 373h1v1h-1zM1244 378h1v1h-1zM1244 383h1v1h-1zM1244 388h1v1h-1zM1244 393h1v1h-1zM1244 398h1v1h-1zM1244 403h1v1h-1zM1244 408h1v1h-1zM1244 413h1v1h-1zM1244 418h1v1h-1zM1244 423h1v1h-1zM1244 428h1v1h-1zM1244 433h1v1h-1zM1244 438h1v1h-1zM1244 443h1v1h-1zM1244 448h1v1h-1zM1244 453h1v1h-1zM1244 458h1v1h-1zM1244 463h1v1h-1zM1244 468h1v1h-1zM1244 473h1v1h-1zM1244 478h1v1h-1zM1244 483h1v1h-1zM1244 488h1v1h-1zM1244 493h1v1h-1zM1244 498h1v1h-1zM1244 503h1v1h-1zM1244 508h1v1h-1zM1244 513h1v1h-1zM1244 518h1v1h-1zM1244 523h1v1h-1zM1244 528h1v1h-1zM1244 533h1v1h-1zM1244 538h1v1h-1zM1244 543h1v1h-1zM1244 548h1v1h-1zM1244 553h1v1h-1zM1244 558h1v1h-1zM1244 563h1v1h-1zM1244 568h1v1h-1zM1244 573h1v1h-1zM1244 578h1v1h-1zM1244 583h1v1h-1zM1244 588h1v1h-1zM1244 593h1v1h-1zM1244 598h1v1h-1zM1244 603h1v1h-1zM1244 608h1v1h-1zM1244 613h1v1h-1zM1244 618h1v1h-1zM1244 623h1v1h-1zM1244 628h1v1h-1zM1244 633h1v1h-1zM1244 638h1v1h-1zM1244 643h1v1h-1zM1244 648h1v1h-1zM1244 653h1v1h-1zM1244 658h1v1h-1zM1244 663h1v1h-1zM1244 668h1v1h-1zM1244 673h1v1h-1zM1244 678h1v1h-1zM1244 683h1v1h-1zM1244 688h1v1h-1zM1244 693h1v1h-1zM1244 698h1v1h-1zM1244 703h1v1h-1zM1244 708h1v1h-1zM1244 713h1v1h-1zM1244 718h1v1h-1zM1244 723h1v1h-1zM1244 728h1v1h-1zM1244 733h1v1h-1zM1244 738h1v1h-1zM1244 743h1v1h-1zM1244 748h1v1h-1zM1244 753h1v1h-1zM1244 758h1v1h-1zM1244 763h1v1h-1zM1244 768h1v1h-1zM1244 773h1v1h-1zM1244 778h1v1h-1zM1244 783h1v1h-1zM1244 788h1v1h-1zM1244 793h1v1h-1zM1244 798h1v1h-1zM1244 803h1v1h-1zM1244 808h1v1h-1zM1244 813h1v1h-1zM1244 818h1v1h-1zM1244 823h1v1h-1zM1244 828h1v1h-1zM1244 833h1v1h-1zM1244 838h1v1h-1zM1244 843h1v1h-1zM1244 848h1v1h-1zM1244 853h1v1h-1zM1244 858h1v1h-1zM1244 863h1v1h-1zM1244 868h1v1h-1zM1244 873h1v1h-1zM1244 878h1v1h-1zM1244 883h1v1h-1zM1244 888h1v1h-1zM1244 893h1v1h-1zM1244 898h1v1h-1zM1244 903h1v1h-1zM1244 908h1v1h-1zM1244 913h1v1h-1zM1244 918h1v1h-1zM1244 923h1v1h-1zM1244 928h1v1h-1zM1244 933h1v1h-1zM1244 938h1v1h-1zM1244 943h1v1h-1zM1244 948h1v1h-1zM1244 953h1v1h-1zM1244 958h1v1h-1zM1244 963h1v1h-1zM1244 968h1v1h-1zM1244 973h1v1h-1zM1244 978h1v1h-1zM1244 983h1v1h-1zM1244 988h1v1h-1zM1244 993h1v1h-1zM1244 998h1v1h-1zM1244 1003h1v1h-1zM1244 1008h1v1h-1zM1244 1013h1v1h-1zM1244 1018h1v1h-1zM1244 1023h1v1h-1zM1244 1028h1v1h-1zM1244 1033h1v1h-1zM1244 1038h1v1h-1zM1244 1043h1v1h-1zM1244 1048h1v1h-1zM1244 1053h1v1h-1zM1244 1058h1v1h-1zM1244 1063h1v1h-1zM1244 1068h1v1h-1zM1244 1073h1v1h-1zM1244 1078h1v1h-1zM1244 1083h1v1h-1zM1244 1088h1v1h-1zM1244 1093h1v1h-1zM1244 1098h1v1h-1zM1244 1103h1v1h-1zM1244 1108h1v1h-1zM1244 1113h1v1h-1zM1244 1118h1v1h-1zM1378 103h1v1h-1zM1378 108h1v1h-1zM1378 113h1v1h-1zM1378 118h1v1h-1zM1378 123h1v1h-1zM1378 128h1v1h-1zM1378 133h1v1h-1zM1378 138h1v1h-1zM1378 143h1v1h-1zM1378 148h1v1h-1zM1378 153h1v1h-1zM1378 158h1v1h-1zM1378 163h1v1h-1zM1378 168h1v1h-1zM1378 173h1v1h-1zM1378 178h1v1h-1zM1378 183h1v1h-1zM1378 188h1v1h-1zM1378 193h1v1h-1zM1378 198h1v1h-1zM1378 203h1v1h-1zM1378 208h1v1h-1zM1378 213h1v1h-1zM1378 218h1v1h-1zM1378 223h1v1h-1zM1378 228h1v1h-1zM1378 233h1v1h-1zM1378 238h1v1h-1zM1378 243h1v1h-1zM1378 248h1v1h-1zM1378 253h1v1h-1zM1378 258h1v1h-1zM1378 263h1v1h-1zM1378 268h1v1h-1zM1378 273h1v1h-1zM1378 278h1v1h-1zM1378 283h1v1h-1zM1378 288h1v1h-1zM1378 293h1v1h-1zM1378 298h1v1h-1zM1378 303h1v1h-1zM1378 308h1v1h-1zM1378 313h1v1h-1zM1378 318h1v1h-1zM1378 323h1v1h-1zM1378 328h1v1h-1zM1378 333h1v1h-1zM1378 338h1v1h-1zM1378 343h1v1h-1zM1378 348h1v1h-1zM1378 353h1v1h-1zM1378 358h1v1h-1zM1378 363h1v1h-1zM1378 368h1v1h-1zM1378 373h1v1h-1zM1378 378h1v1h-1zM1378 383h1v1h-1zM1378 388h1v1h-1zM1378 393h1v1h-1zM1378 398h1v1h-1zM1378 403h1v1h-1zM1378 408h1v1h-1zM1378 413h1v1h-1zM1378 418h1v1h-1zM1378 423h1v1h-1zM1378 428h1v1h-1zM1378 433h1v1h-1zM1378 438h1v1h-1zM1378 443h1v1h-1zM1378 448h1v1h-1zM1378 453h1v1h-1zM1378 458h1v1h-1zM1378 463h1v1h-1zM1378 468h1v1h-1zM1378 473h1v1h-1zM1378 478h1v1h-1zM1378 483h1v1h-1zM1378 488h1v1h-1zM1378 493h1v1h-1zM1378 498h1v1h-1zM1378 503h1v1h-1zM1378 508h1v1h-1zM1378 513h1v1h-1zM1378 518h1v1h-1zM1378 523h1v1h-1zM1378 528h1v1h-1zM1378 533h1v1h-1zM1378 538h1v1h-1zM1378 543h1v1h-1zM1378 548h1v1h-1zM1378 553h1v1h-1zM1378 558h1v1h-1zM1378 563h1v1h-1zM1378 568h1v1h-1zM1378 573h1v1h-1zM1378 578h1v1h-1zM1378 583h1v1h-1zM1378 588h1v1h-1zM1378 593h1v1h-1zM1378 598h1v1h-1zM1378 603h1v1h-1zM1378 608h1v1h-1zM1378 613h1v1h-1zM1378 618h1v1h-1zM1378 623h1v1h-1zM1378 628h1v1h-1zM1378 633h1v1h-1zM1378 638h1v1h-1zM1378 643h1v1h-1zM1378 648h1v1h-1zM1378 653h1v1h-1zM1378 658h1v1h-1zM1378 663h1v1h-1zM1378 668h1v1h-1zM1378 673h1v1h-1zM1378 678h1v1h-1zM1378 683h1v1h-1zM1378 688h1v1h-1zM1378 693h1v1h-1zM1378 698h1v1h-1zM1378 703h1v1h-1zM1378 708h1v1h-1zM1378 713h1v1h-1zM1378 718h1v1h-1zM1378 723h1v1h-1zM1378 728h1v1h-1zM1378 733h1v1h-1zM1378 738h1v1h-1zM1378 743h1v1h-1zM1378 748h1v1h-1zM1378 753h1v1h-1zM1378 758h1v1h-1zM1378 763h1v1h-1zM1378 768h1v1h-1zM1378 773h1v1h-1zM1378 778h1v1h-1zM1378 783h1v1h-1zM1378 788h1v1h-1zM1378 793h1v1h-1zM1378 798h1v1h-1zM1378 803h1v1h-1zM1378 808h1v1h-1zM1378 813h1v1h-1zM1378 818h1v1h-1zM1378 823h1v1h-1zM1378 828h1v1h-1zM1378 833h1v1h-1zM1378 838h1v1h-1zM1378 843h1v1h-1zM1378 848h1v1h-1zM1378 853h1v1h-1zM1378 858h1v1h-1zM1378 863h1v1h-1zM1378 868h1v1h-1zM1378 873h1v1h-1zM1378 878h1v1h-1zM1378 883h1v1h-1zM1378 888h1v1h-1zM1378 893h1v1h-1zM1378 898h1v1h-1zM1378 903h1v1h-1zM1378 908h1v1h-1zM1378 913h1v1h-1zM1378 918h1v1h-1zM1378 923h1v1h-1zM1378 928h1v1h-1zM1378 933h1v1h-1zM1378 938h1v1h-1zM1378 943h1v1h-1zM1378 948h1v1h-1zM1378 953h1v1h-1zM1378 958h1v1h-1zM1378 963h1v1h-1zM1378 968h1v1h-1zM1378 973h1v1h-1zM1378 978h1v1h-1zM1378 983h1v1h-1zM1378 988h1v1h-1zM1378 993h1v1h-1zM1378 998h1v1h-1zM1378 1003h1v1h-1zM1378 1008h1v1h-1zM1378 1013h1v1h-1zM1378 1018h1v1h-1zM1378 1023h1v1h-1zM1378 1028h1v1h-1zM1378 1033h1v1h-1zM1378 1038h1v1h-1zM1378 1043h1v1h-1zM1378 1048h1v1h-1zM1378 1053h1v1h-1zM1378 1058h1v1h-1zM1378 1063h1v1h-1zM1378 1068h1v1h-1zM1378 1073h1v1h-1zM1378 1078h1v1h-1zM1378 1083h1v1h-1zM1378 1088h1v1h-1zM1378 1093h1v1h-1zM1378 1098h1v1h-1zM1378 1103h1v1h-1zM1378 1108h1v1h-1zM1378 1113h1v1h-1zM1378 1118h1v1h-1zM1511 103h1v1h-1zM1511 108h1v1h-1zM1511 113h1v1h-1zM1511 118h1v1h-1zM1511 123h1v1h-1zM1511 128h1v1h-1zM1511 133h1v1h-1zM1511 138h1v1h-1zM1511 143h1v1h-1zM1511 148h1v1h-1zM1511 153h1v1h-1zM1511 158h1v1h-1zM1511 163h1v1h-1zM1511 168h1v1h-1zM1511 173h1v1h-1zM1511 178h1v1h-1zM1511 183h1v1h-1zM1511 188h1v1h-1zM1511 193h1v1h-1zM1511 198h1v1h-1zM1511 203h1v1h-1zM1511 208h1v1h-1zM1511 213h1v1h-1zM1511 218h1v1h-1zM1511 223h1v1h-1zM1511 228h1v1h-1zM1511 233h1v1h-1zM1511 238h1v1h-1zM1511 243h1v1h-1zM1511 248h1v1h-1zM1511 253h1v1h-1zM1511 258h1v1h-1zM1511 263h1v1h-1zM1511 268h1v1h-1zM1511 273h1v1h-1zM1511 278h1v1h-1zM1511 283h1v1h-1zM1511 288h1v1h-1zM1511 293h1v1h-1zM1511 298h1v1h-1zM1511 303h1v1h-1zM1511 308h1v1h-1zM1511 313h1v1h-1zM1511 318h1v1h-1zM1511 323h1v1h-1zM1511 328h1v1h-1zM1511 333h1v1h-1zM1511 338h1v1h-1zM1511 343h1v1h-1zM1511 348h1v1h-1zM1511 353h1v1h-1zM1511 358h1v1h-1zM1511 363h1v1h-1zM1511 368h1v1h-1zM1511 373h1v1h-1zM1511 378h1v1h-1zM1511 383h1v1h-1zM1511 388h1v1h-1zM1511 393h1v1h-1zM1511 398h1v1h-1zM1511 403h1v1h-1zM1511 408h1v1h-1zM1511 413h1v1h-1zM1511 418h1v1h-1zM1511 423h1v1h-1zM1511 428h1v1h-1zM1511 433h1v1h-1zM1511 438h1v1h-1zM1511 443h1v1h-1zM1511 448h1v1h-1zM1511 453h1v1h-1zM1511 458h1v1h-1zM1511 463h1v1h-1zM1511 468h1v1h-1zM1511 473h1v1h-1zM1511 478h1v1h-1zM1511 483h1v1h-1zM1511 488h1v1h-1zM1511 493h1v1h-1zM1511 498h1v1h-1zM1511 503h1v1h-1zM1511 508h1v1h-1zM1511 513h1v1h-1zM1511 518h1v1h-1zM1511 523h1v1h-1zM1511 528h1v1h-1zM1511 533h1v1h-1zM1511 538h1v1h-1zM1511 543h1v1h-1zM1511 548h1v1h-1zM1511 553h1v1h-1zM1511 558h1v1h-1zM1511 563h1v1h-1zM1511 568h1v1h-1zM1511 573h1v1h-1zM1511 578h1v1h-1zM1511 583h1v1h-1zM1511 588h1v1h-1zM1511 593h1v1h-1zM1511 598h1v1h-1zM1511 603h1v1h-1zM1511 608h1v1h-1zM1511 613h1v1h-1zM1511 618h1v1h-1zM1511 623h1v1h-1zM1511 628h1v1h-1zM1511 633h1v1h-1zM1511 638h1v1h-1zM1511 643h1v1h-1zM1511 648h1v1h-1zM1511 653h1v1h-1zM1511 658h1v1h-1zM1511 663h1v1h-1zM1511 668h1v1h-1zM1511 673h1v1h-1zM1511 678h1v1h-1zM1511 683h1v1h-1zM1511 688h1v1h-1zM1511 693h1v1h-1zM1511 698h1v1h-1zM1511 703h1v1h-1zM1511 708h1v1h-1zM1511 713h1v1h-1zM1511 718h1v1h-1zM1511 723h1v1h-1zM1511 728h1v1h-1zM1511 733h1v1h-1zM1511 738h1v1h-1zM1511 743h1v1h-1zM1511 748h1v1h-1zM1511 753h1v1h-1zM1511 758h1v1h-1zM1511 763h1v1h-1zM1511 768h1v1h-1zM1511 773h1v1h-1zM1511 778h1v1h-1zM1511 783h1v1h-1zM1511 788h1v1h-1zM1511 793h1v1h-1zM1511 798h1v1h-1zM1511 803h1v1h-1zM1511 808h1v1h-1zM1511 813h1v1h-1zM1511 818h1v1h-1zM1511 823h1v1h-1zM1511 828h1v1h-1zM1511 833h1v1h-1zM1511 838h1v1h-1zM1511 843h1v1h-1zM1511 848h1v1h-1zM1511 853h1v1h-1zM1511 858h1v1h-1zM1511 863h1v1h-1zM1511 868h1v1h-1zM1511 873h1v1h-1zM1511 878h1v1h-1zM1511 883h1v1h-1zM1511 888h1v1h-1zM1511 893h1v1h-1zM1511 898h1v1h-1zM1511 903h1v1h-1zM1511 908h1v1h-1zM1511 913h1v1h-1zM1511 918h1v1h-1zM1511 923h1v1h-1zM1511 928h1v1h-1zM1511 933h1v1h-1zM1511 938h1v1h-1zM1511 943h1v1h-1zM1511 948h1v1h-1zM1511 953h1v1h-1zM1511 958h1v1h-1zM1511 963h1v1h-1zM1511 968h1v1h-1zM1511 973h1v1h-1zM1511 978h1v1h-1zM1511 983h1v1h-1zM1511 988h1v1h-1zM1511 993h1v1h-1zM1511 998h1v1h-1zM1511 1003h1v1h-1zM1511 1008h1v1h-1zM1511 1013h1v1h-1zM1511 1018h1v1h-1zM1511 1023h1v1h-1zM1511 1028h1v1h-1zM1511 1033h1v1h-1zM1511 1038h1v1h-1zM1511 1043h1v1h-1zM1511 1048h1v1h-1zM1511 1053h1v1h-1zM1511 1058h1v1h-1zM1511 1063h1v1h-1zM1511 1068h1v1h-1zM1511 1073h1v1h-1zM1511 1078h1v1h-1zM1511 1083h1v1h-1zM1511 1088h1v1h-1zM1511 1093h1v1h-1zM1511 1098h1v1h-1zM1511 1103h1v1h-1zM1511 1108h1v1h-1zM1511 1113h1v1h-1zM1511 1118h1v1h-1zM1644 103h1v1h-1zM1644 108h1v1h-1zM1644 113h1v1h-1zM1644 118h1v1h-1zM1644 123h1v1h-1zM1644 128h1v1h-1zM1644 133h1v1h-1zM1644 138h1v1h-1zM1644 143h1v1h-1zM1644 148h1v1h-1zM1644 153h1v1h-1zM1644 158h1v1h-1zM1644 163h1v1h-1zM1644 168h1v1h-1zM1644 173h1v1h-1zM1644 178h1v1h-1zM1644 183h1v1h-1zM1644 188h1v1h-1zM1644 193h1v1h-1zM1644 198h1v1h-1zM1644 203h1v1h-1zM1644 208h1v1h-1zM1644 213h1v1h-1zM1644 218h1v1h-1zM1644 223h1v1h-1zM1644 228h1v1h-1zM1644 233h1v1h-1zM1644 238h1v1h-1zM1644 243h1v1h-1zM1644 248h1v1h-1zM1644 253h1v1h-1zM1644 258h1v1h-1zM1644 263h1v1h-1zM1644 268h1v1h-1zM1644 273h1v1h-1zM1644 278h1v1h-1zM1644 283h1v1h-1zM1644 288h1v1h-1zM1644 293h1v1h-1zM1644 298h1v1h-1zM1644 303h1v1h-1zM1644 308h1v1h-1zM1644 313h1v1h-1zM1644 318h1v1h-1zM1644 323h1v1h-1zM1644 328h1v1h-1zM1644 333h1v1h-1zM1644 338h1v1h-1zM1644 343h1v1h-1zM1644 348h1v1h-1zM1644 353h1v1h-1zM1644 358h1v1h-1zM1644 363h1v1h-1zM1644 368h1v1h-1zM1644 373h1v1h-1zM1644 378h1v1h-1zM1644 383h1v1h-1zM1644 388h1v1h-1zM1644 393h1v1h-1zM1644 398h1v1h-1zM1644 403h1v1h-1zM1644 408h1v1h-1zM1644 413h1v1h-1zM1644 418h1v1h-1zM1644 423h1v1h-1zM1644 428h1v1h-1zM1644 433h1v1h-1zM1644 438h1v1h-1zM1644 443h1v1h-1zM1644 448h1v1h-1zM1644 453h1v1h-1zM1644 458h1v1h-1zM1644 463h1v1h-1zM1644 468h1v1h-1zM1644 473h1v1h-1zM1644 478h1v1h-1zM1644 483h1v1h-1zM1644 488h1v1h-1zM1644 493h1v1h-1zM1644 498h1v1h-1zM1644 503h1v1h-1zM1644 508h1v1h-1zM1644 513h1v1h-1zM1644 518h1v1h-1zM1644 523h1v1h-1zM1644 528h1v1h-1zM1644 533h1v1h-1zM1644 538h1v1h-1zM1644 543h1v1h-1zM1644 548h1v1h-1zM1644 553h1v1h-1zM1644 558h1v1h-1zM1644 563h1v1h-1zM1644 568h1v1h-1zM1644 573h1v1h-1zM1644 578h1v1h-1zM1644 583h1v1h-1zM1644 588h1v1h-1zM1644 593h1v1h-1zM1644 598h1v1h-1zM1644 603h1v1h-1zM1644 608h1v1h-1zM1644 613h1v1h-1zM1644 618h1v1h-1zM1644 623h1v1h-1zM1644 628h1v1h-1zM1644 633h1v1h-1zM1644 638h1v1h-1zM1644 643h1v1h-1zM1644 648h1v1h-1zM1644 653h1v1h-1zM1644 658h1v1h-1zM1644 663h1v1h-1zM1644 668h1v1h-1zM1644 673h1v1h-1zM1644 678h1v1h-1zM1644 683h1v1h-1zM1644 688h1v1h-1zM1644 693h1v1h-1zM1644 698h1v1h-1zM1644 703h1v1h-1zM1644 708h1v1h-1zM1644 713h1v1h-1zM1644 718h1v1h-1zM1644 723h1v1h-1zM1644 728h1v1h-1zM1644 733h1v1h-1zM1644 738h1v1h-1zM1644 743h1v1h-1zM1644 748h1v1h-1zM1644 753h1v1h-1zM1644 758h1v1h-1zM1644 763h1v1h-1zM1644 768h1v1h-1zM1644 773h1v1h-1zM1644 778h1v1h-1zM1644 783h1v1h-1zM1644 788h1v1h-1zM1644 793h1v1h-1zM1644 798h1v1h-1zM1644 803h1v1h-1zM1644 808h1v1h-1zM1644 813h1v1h-1zM1644 818h1v1h-1zM1644 823h1v1h-1zM1644 828h1v1h-1zM1644 833h1v1h-1zM1644 838h1v1h-1zM1644 843h1v1h-1zM1644 848h1v1h-1zM1644 853h1v1h-1zM1644 858h1v1h-1zM1644 863h1v1h-1zM1644 868h1v1h-1zM1644 873h1v1h-1zM1644 878h1v1h-1zM1644 883h1v1h-1zM1644 888h1v1h-1zM1644 893h1v1h-1zM1644 898h1v1h-1zM1644 903h1v1h-1zM1644 908h1v1h-1zM1644 913h1v1h-1zM1644 918h1v1h-1zM1644 923h1v1h-1zM1644 928h1v1h-1zM1644 933h1v1h-1zM1644 938h1v1h-1zM1644 943h1v1h-1zM1644 948h1v1h-1zM1644 953h1v1h-1zM1644 958h1v1h-1zM1644 963h1v1h-1zM1644 968h1v1h-1zM1644 973h1v1h-1zM1644 978h1v1h-1zM1644 983h1v1h-1zM1644 988h1v1h-1zM1644 993h1v1h-1zM1644 998h1v1h-1zM1644 1003h1v1h-1zM1644 1008h1v1h-1zM1644 1013h1v1h-1zM1644 1018h1v1h-1zM1644 1023h1v1h-1zM1644 1028h1v1h-1zM1644 1033h1v1h-1zM1644 1038h1v1h-1zM1644 1043h1v1h-1zM1644 1048h1v1h-1zM1644 1053h1v1h-1zM1644 1058h1v1h-1zM1644 1063h1v1h-1zM1644 1068h1v1h-1zM1644 1073h1v1h-1zM1644 1078h1v1h-1zM1644 1083h1v1h-1zM1644 1088h1v1h-1zM1644 1093h1v1h-1zM1644 1098h1v1h-1zM1644 1103h1v1h-1zM1644 1108h1v1h-1zM1644 1113h1v1h-1zM1644 1118h1v1h-1zM248 100h1v1h-1zM253 100h1v1h-1zM258 100h1v1h-1zM263 100h1v1h-1zM268 100h1v1h-1zM273 100h1v1h-1zM278 100h1v1h-1zM283 100h1v1h-1zM288 100h1v1h-1zM293 100h1v1h-1zM298 100h1v1h-1zM303 100h1v1h-1zM308 100h1v1h-1zM313 100h1v1h-1zM318 100h1v1h-1zM323 100h1v1h-1zM328 100h1v1h-1zM333 100h1v1h-1zM338 100h1v1h-1zM343 100h1v1h-1zM348 100h1v1h-1zM353 100h1v1h-1zM358 100h1v1h-1zM363 100h1v1h-1zM368 100h1v1h-1zM373 100h1v1h-1zM378 100h1v1h-1zM383 100h1v1h-1zM388 100h1v1h-1zM393 100h1v1h-1zM398 100h1v1h-1zM403 100h1v1h-1zM408 100h1v1h-1zM413 100h1v1h-1zM418 100h1v1h-1zM423 100h1v1h-1zM428 100h1v1h-1zM433 100h1v1h-1zM438 100h1v1h-1zM443 100h1v1h-1zM448 100h1v1h-1zM453 100h1v1h-1zM458 100h1v1h-1zM463 100h1v1h-1zM468 100h1v1h-1zM473 100h1v1h-1zM478 100h1v1h-1zM483 100h1v1h-1zM488 100h1v1h-1zM493 100h1v1h-1zM498 100h1v1h-1zM503 100h1v1h-1zM508 100h1v1h-1zM513 100h1v1h-1zM518 100h1v1h-1zM523 100h1v1h-1zM528 100h1v1h-1zM533 100h1v1h-1zM538 100h1v1h-1zM543 100h1v1h-1zM548 100h1v1h-1zM553 100h1v1h-1zM558 100h1v1h-1zM563 100h1v1h-1zM568 100h1v1h-1zM573 100h1v1h-1zM578 100h1v1h-1zM583 100h1v1h-1zM588 100h1v1h-1zM593 100h1v1h-1zM598 100h1v1h-1zM603 100h1v1h-1zM608 100h1v1h-1zM613 100h1v1h-1zM618 100h1v1h-1zM623 100h1v1h-1zM628 100h1v1h-1zM633 100h1v1h-1zM638 100h1v1h-1zM643 100h1v1h-1zM648 100h1v1h-1zM653 100h1v1h-1zM658 100h1v1h-1zM663 100h1v1h-1zM668 100h1v1h-1zM673 100h1v1h-1zM678 100h1v1h-1zM683 100h1v1h-1zM688 100h1v1h-1zM693 100h1v1h-1zM698 100h1v1h-1zM703 100h1v1h-1zM708 100h1v1h-1zM713 100h1v1h-1zM718 100h1v1h-1zM723 100h1v1h-1zM728 100h1v1h-1zM733 100h1v1h-1zM738 100h1v1h-1zM743 100h1v1h-1zM748 100h1v1h-1zM753 100h1v1h-1zM758 100h1v1h-1zM763 100h1v1h-1zM768 100h1v1h-1zM773 100h1v1h-1zM778 100h1v1h-1zM783 100h1v1h-1zM788 100h1v1h-1zM793 100h1v1h-1zM798 100h1v1h-1zM803 100h1v1h-1zM808 100h1v1h-1zM813 100h1v1h-1zM818 100h1v1h-1zM823 100h1v1h-1zM828 100h1v1h-1zM833 100h1v1h-1zM838 100h1v1h-1zM843 100h1v1h-1zM848 100h1v1h-1zM853 100h1v1h-1zM858 100h1v1h-1zM863 100h1v1h-1zM868 100h1v1h-1zM873 100h1v1h-1zM878 100h1v1h-1zM883 100h1v1h-1zM888 100h1v1h-1zM893 100h1v1h-1zM898 100h1v1h-1zM903 100h1v1h-1zM908 100h1v1h-1zM913 100h1v1h-1zM918 100h1v1h-1zM923 100h1v1h-1zM928 100h1v1h-1zM933 100h1v1h-1zM938 100h1v1h-1zM943 100h1v1h-1zM948 100h1v1h-1zM953 100h1v1h-1zM958 100h1v1h-1zM963 100h1v1h-1zM968 100h1v1h-1zM973 100h1v1h-1zM978 100h1v1h-1zM983 100h1v1h-1zM988 100h1v1h-1zM993 100h1v1h-1zM998 100h1v1h-1zM1003 100h1v1h-1zM1008 100h1v1h-1zM1013 100h1v1h-1zM1018 100h1v1h-1zM1023 100h1v1h-1zM1028 100h1v1h-1zM1033 100h1v1h-1zM1038 100h1v1h-1zM1043 100h1v1h-1zM1048 100h1v1h-1zM1053 100h1v1h-1zM1058 100h1v1h-1zM1063 100h1v1h-1zM1068 100h1v1h-1zM1073 100h1v1h-1zM1078 100h1v1h-1zM1083 100h1v1h-1zM1088 100h1v1h-1zM1093 100h1v1h-1zM1098 100h1v1h-1zM1103 100h1v1h-1zM1108 100h1v1h-1zM1113 100h1v1h-1zM1118 100h1v1h-1zM1123 100h1v1h-1zM1128 100h1v1h-1zM1133 100h1v1h-1zM1138 100h1v1h-1zM1143 100h1v1h-1zM1148 100h1v1h-1zM1153 100h1v1h-1zM1158 100h1v1h-1zM1163 100h1v1h-1zM1168 100h1v1h-1zM1173 100h1v1h-1zM1178 100h1v1h-1zM1183 100h1v1h-1zM1188 100h1v1h-1zM1193 100h1v1h-1zM1198 100h1v1h-1zM1203 100h1v1h-1zM1208 100h1v1h-1zM1213 100h1v1h-1zM1218 100h1v1h-1zM1223 100h1v1h-1zM1228 100h1v1h-1zM1233 100h1v1h-1zM1238 100h1v1h-1zM1243 100h1v1h-1zM1248 100h1v1h-1zM1253 100h1v1h-1zM1258 100h1v1h-1zM1263 100h1v1h-1zM1268 100h1v1h-1zM1273 100h1v1h-1zM1278 100h1v1h-1zM1283 100h1v1h-1zM1288 100h1v1h-1zM1293 100h1v1h-1zM1298 100h1v1h-1zM1303 100h1v1h-1zM1308 100h1v1h-1zM1313 100h1v1h-1zM1318 100h1v1h-1zM1323 100h1v1h-1zM1328 100h1v1h-1zM1333 100h1v1h-1zM1338 100h1v1h-1zM1343 100h1v1h-1zM1348 100h1v1h-1zM1353 100h1v1h-1zM1358 100h1v1h-1zM1363 100h1v1h-1zM1368 100h1v1h-1zM1373 100h1v1h-1zM1378 100h1v1h-1zM1383 100h1v1h-1zM1388 100h1v1h-1zM1393 100h1v1h-1zM1398 100h1v1h-1zM1403 100h1v1h-1zM1408 100h1v1h-1zM1413 100h1v1h-1zM1418 100h1v1h-1zM1423 100h1v1h-1zM1428 100h1v1h-1zM1433 100h1v1h-1zM1438 100h1v1h-1zM1443 100h1v1h-1zM1448 100h1v1h-1zM1453 100h1v1h-1zM1458 100h1v1h-1zM1463 100h1v1h-1zM1468 100h1v1h-1zM1473 100h1v1h-1zM1478 100h1v1h-1zM1483 100h1v1h-1zM1488 100h1v1h-1zM1493 100h1v1h-1zM1498 100h1v1h-1zM1503 100h1v1h-1zM1508 100h1v1h-1zM1513 100h1v1h-1zM1518 100h1v1h-1zM1523 100h1v1h-1zM1528 100h1v1h-1zM1533 100h1v1h-1zM1538 100h1v1h-1zM1543 100h1v1h-1zM1548 100h1v1h-1zM1553 100h1v1h-1zM1558 100h1v1h-1zM1563 100h1v1h-1zM1568 100h1v1h-1zM1573 100h1v1h-1zM1578 100h1v1h-1zM1583 100h1v1h-1zM1588 100h1v1h-1zM1593 100h1v1h-1zM1598 100h1v1h-1zM1603 100h1v1h-1zM1608 100h1v1h-1zM1613 100h1v1h-1zM1618 100h1v1h-1zM1623 100h1v1h-1zM1628 100h1v1h-1zM1633 100h1v1h-1zM1638 100h1v1h-1zM1643 100h1v1h-1zM1648 100h1v1h-1zM1653 100h1v1h-1zM1658 100h1v1h-1zM1663 100h1v1h-1zM1668 100h1v1h-1zM1673 100h1v1h-1zM1678 100h1v1h-1zM1683 100h1v1h-1zM1688 100h1v1h-1zM1693 100h1v1h-1zM1698 100h1v1h-1zM1703 100h1v1h-1zM1708 100h1v1h-1zM248 202h1v1h-1zM253 202h1v1h-1zM258 202h1v1h-1zM263 202h1v1h-1zM268 202h1v1h-1zM273 202h1v1h-1zM278 202h1v1h-1zM283 202h1v1h-1zM288 202h1v1h-1zM293 202h1v1h-1zM298 202h1v1h-1zM303 202h1v1h-1zM308 202h1v1h-1zM313 202h1v1h-1zM318 202h1v1h-1zM323 202h1v1h-1zM328 202h1v1h-1zM333 202h1v1h-1zM338 202h1v1h-1zM343 202h1v1h-1zM348 202h1v1h-1zM353 202h1v1h-1zM358 202h1v1h-1zM363 202h1v1h-1zM368 202h1v1h-1zM373 202h1v1h-1zM378 202h1v1h-1zM383 202h1v1h-1zM388 202h1v1h-1zM393 202h1v1h-1zM398 202h1v1h-1zM403 202h1v1h-1zM408 202h1v1h-1zM413 202h1v1h-1zM418 202h1v1h-1zM423 202h1v1h-1zM428 202h1v1h-1zM433 202h1v1h-1zM438 202h1v1h-1zM443 202h1v1h-1zM448 202h1v1h-1zM453 202h1v1h-1zM458 202h1v1h-1zM463 202h1v1h-1zM468 202h1v1h-1zM473 202h1v1h-1zM478 202h1v1h-1zM483 202h1v1h-1zM488 202h1v1h-1zM493 202h1v1h-1zM498 202h1v1h-1zM503 202h1v1h-1zM508 202h1v1h-1zM513 202h1v1h-1zM518 202h1v1h-1zM523 202h1v1h-1zM528 202h1v1h-1zM533 202h1v1h-1zM538 202h1v1h-1zM543 202h1v1h-1zM548 202h1v1h-1zM553 202h1v1h-1zM558 202h1v1h-1zM563 202h1v1h-1zM568 202h1v1h-1zM573 202h1v1h-1zM578 202h1v1h-1zM583 202h1v1h-1zM588 202h1v1h-1zM593 202h1v1h-1zM598 202h1v1h-1zM603 202h1v1h-1zM608 202h1v1h-1zM613 202h1v1h-1zM618 202h1v1h-1zM623 202h1v1h-1zM628 202h1v1h-1zM633 202h1v1h-1zM638 202h1v1h-1zM643 202h1v1h-1zM648 202h1v1h-1zM653 202h1v1h-1zM658 202h1v1h-1zM663 202h1v1h-1zM668 202h1v1h-1zM673 202h1v1h-1zM678 202h1v1h-1zM683 202h1v1h-1zM688 202h1v1h-1zM693 202h1v1h-1zM698 202h1v1h-1zM703 202h1v1h-1zM708 202h1v1h-1zM713 202h1v1h-1zM718 202h1v1h-1zM723 202h1v1h-1zM728 202h1v1h-1zM733 202h1v1h-1zM738 202h1v1h-1zM743 202h1v1h-1zM748 202h1v1h-1zM753 202h1v1h-1zM758 202h1v1h-1zM763 202h1v1h-1zM768 202h1v1h-1zM773 202h1v1h-1zM778 202h1v1h-1zM783 202h1v1h-1zM788 202h1v1h-1zM793 202h1v1h-1zM798 202h1v1h-1zM803 202h1v1h-1zM808 202h1v1h-1zM813 202h1v1h-1zM818 202h1v1h-1zM823 202h1v1h-1zM828 202h1v1h-1zM833 202h1v1h-1zM838 202h1v1h-1zM843 202h1v1h-1zM848 202h1v1h-1zM853 202h1v1h-1zM858 202h1v1h-1zM863 202h1v1h-1zM868 202h1v1h-1zM873 202h1v1h-1zM878 202h1v1h-1zM883 202h1v1h-1zM888 202h1v1h-1zM893 202h1v1h-1zM898 202h1v1h-1zM903 202h1v1h-1zM908 202h1v1h-1zM913 202h1v1h-1zM918 202h1v1h-1zM923 202h1v1h-1zM928 202h1v1h-1zM933 202h1v1h-1zM938 202h1v1h-1zM943 202h1v1h-1zM948 202h1v1h-1zM953 202h1v1h-1zM958 202h1v1h-1zM963 202h1v1h-1zM968 202h1v1h-1zM973 202h1v1h-1zM978 202h1v1h-1zM983 202h1v1h-1zM988 202h1v1h-1zM993 202h1v1h-1zM998 202h1v1h-1zM1003 202h1v1h-1zM1008 202h1v1h-1zM1013 202h1v1h-1zM1018 202h1v1h-1zM1023 202h1v1h-1zM1028 202h1v1h-1zM1033 202h1v1h-1zM1038 202h1v1h-1zM1043 202h1v1h-1zM1048 202h1v1h-1zM1053 202h1v1h-1zM1058 202h1v1h-1zM1063 202h1v1h-1zM1068 202h1v1h-1zM1073 202h1v1h-1zM1078 202h1v1h-1zM1083 202h1v1h-1zM1088 202h1v1h-1zM1093 202h1v1h-1zM1098 202h1v1h-1zM1103 202h1v1h-1zM1108 202h1v1h-1zM1113 202h1v1h-1zM1118 202h1v1h-1zM1123 202h1v1h-1zM1128 202h1v1h-1zM1133 202h1v1h-1zM1138 202h1v1h-1zM1143 202h1v1h-1zM1148 202h1v1h-1zM1153 202h1v1h-1zM1158 202h1v1h-1zM1163 202h1v1h-1zM1168 202h1v1h-1zM1173 202h1v1h-1zM1178 202h1v1h-1zM1183 202h1v1h-1zM1188 202h1v1h-1zM1193 202h1v1h-1zM1198 202h1v1h-1zM1203 202h1v1h-1zM1208 202h1v1h-1zM1213 202h1v1h-1zM1218 202h1v1h-1zM1223 202h1v1h-1zM1228 202h1v1h-1zM1233 202h1v1h-1zM1238 202h1v1h-1zM1243 202h1v1h-1zM1248 202h1v1h-1zM1253 202h1v1h-1zM1258 202h1v1h-1zM1263 202h1v1h-1zM1268 202h1v1h-1zM1273 202h1v1h-1zM1278 202h1v1h-1zM1283 202h1v1h-1zM1288 202h1v1h-1zM1293 202h1v1h-1zM1298 202h1v1h-1zM1303 202h1v1h-1zM1308 202h1v1h-1zM1313 202h1v1h-1zM1318 202h1v1h-1zM1323 202h1v1h-1zM1328 202h1v1h-1zM1333 202h1v1h-1zM1338 202h1v1h-1zM1343 202h1v1h-1zM1348 202h1v1h-1zM1353 202h1v1h-1zM1358 202h1v1h-1zM1363 202h1v1h-1zM1368 202h1v1h-1zM1373 202h1v1h-1zM1378 202h1v1h-1zM1383 202h1v1h-1zM1388 202h1v1h-1zM1393 202h1v1h-1zM1398 202h1v1h-1zM1403 202h1v1h-1zM1408 202h1v1h-1zM1413 202h1v1h-1zM1418 202h1v1h-1zM1423 202h1v1h-1zM1428 202h1v1h-1zM1433 202h1v1h-1zM1438 202h1v1h-1zM1443 202h1v1h-1zM1448 202h1v1h-1zM1453 202h1v1h-1zM1458 202h1v1h-1zM1463 202h1v1h-1zM1468 202h1v1h-1zM1473 202h1v1h-1zM1478 202h1v1h-1zM1483 202h1v1h-1zM1488 202h1v1h-1zM1493 202h1v1h-1zM1498 202h1v1h-1zM1503 202h1v1h-1zM1508 202h1v1h-1zM1513 202h1v1h-1zM1518 202h1v1h-1zM1523 202h1v1h-1zM1528 202h1v1h-1zM1533 202h1v1h-1zM1538 202h1v1h-1zM1543 202h1v1h-1zM1548 202h1v1h-1zM1553 202h1v1h-1zM1558 202h1v1h-1zM1563 202h1v1h-1zM1568 202h1v1h-1zM1573 202h1v1h-1zM1578 202h1v1h-1zM1583 202h1v1h-1zM1588 202h1v1h-1zM1593 202h1v1h-1zM1598 202h1v1h-1zM1603 202h1v1h-1zM1608 202h1v1h-1zM1613 202h1v1h-1zM1618 202h1v1h-1zM1623 202h1v1h-1zM1628 202h1v1h-1zM1633 202h1v1h-1zM1638 202h1v1h-1zM1643 202h1v1h-1zM1648 202h1v1h-1zM1653 202h1v1h-1zM1658 202h1v1h-1zM1663 202h1v1h-1zM1668 202h1v1h-1zM1673 202h1v1h-1zM1678 202h1v1h-1zM1683 202h1v1h-1zM1688 202h1v1h-1zM1693 202h1v1h-1zM1698 202h1v1h-1zM1703 202h1v1h-1zM1708 202h1v1h-1zM248 304h1v1h-1zM253 304h1v1h-1zM258 304h1v1h-1zM263 304h1v1h-1zM268 304h1v1h-1zM273 304h1v1h-1zM278 304h1v1h-1zM283 304h1v1h-1zM288 304h1v1h-1zM293 304h1v1h-1zM298 304h1v1h-1zM303 304h1v1h-1zM308 304h1v1h-1zM313 304h1v1h-1zM318 304h1v1h-1zM323 304h1v1h-1zM328 304h1v1h-1zM333 304h1v1h-1zM338 304h1v1h-1zM343 304h1v1h-1zM348 304h1v1h-1zM353 304h1v1h-1zM358 304h1v1h-1zM363 304h1v1h-1zM368 304h1v1h-1zM373 304h1v1h-1zM378 304h1v1h-1zM383 304h1v1h-1zM388 304h1v1h-1zM393 304h1v1h-1zM398 304h1v1h-1zM403 304h1v1h-1zM408 304h1v1h-1zM413 304h1v1h-1zM418 304h1v1h-1zM423 304h1v1h-1zM428 304h1v1h-1zM433 304h1v1h-1zM438 304h1v1h-1zM443 304h1v1h-1zM448 304h1v1h-1zM453 304h1v1h-1zM458 304h1v1h-1zM463 304h1v1h-1zM468 304h1v1h-1zM473 304h1v1h-1zM478 304h1v1h-1zM483 304h1v1h-1zM488 304h1v1h-1zM493 304h1v1h-1zM498 304h1v1h-1zM503 304h1v1h-1zM508 304h1v1h-1zM513 304h1v1h-1zM518 304h1v1h-1zM523 304h1v1h-1zM528 304h1v1h-1zM533 304h1v1h-1zM538 304h1v1h-1zM543 304h1v1h-1zM548 304h1v1h-1zM553 304h1v1h-1zM558 304h1v1h-1zM563 304h1v1h-1zM568 304h1v1h-1zM573 304h1v1h-1zM578 304h1v1h-1zM583 304h1v1h-1zM588 304h1v1h-1zM593 304h1v1h-1zM598 304h1v1h-1zM603 304h1v1h-1zM608 304h1v1h-1zM613 304h1v1h-1zM618 304h1v1h-1zM623 304h1v1h-1zM628 304h1v1h-1zM633 304h1v1h-1zM638 304h1v1h-1zM643 304h1v1h-1zM648 304h1v1h-1zM653 304h1v1h-1zM658 304h1v1h-1zM663 304h1v1h-1zM668 304h1v1h-1zM673 304h1v1h-1zM678 304h1v1h-1zM683 304h1v1h-1zM688 304h1v1h-1zM693 304h1v1h-1zM698 304h1v1h-1zM703 304h1v1h-1zM708 304h1v1h-1zM713 304h1v1h-1zM718 304h1v1h-1zM723 304h1v1h-1zM728 304h1v1h-1zM733 304h1v1h-1zM738 304h1v1h-1zM743 304h1v1h-1zM748 304h1v1h-1zM753 304h1v1h-1zM758 304h1v1h-1zM763 304h1v1h-1zM768 304h1v1h-1zM773 304h1v1h-1zM778 304h1v1h-1zM783 304h1v1h-1zM788 304h1v1h-1zM793 304h1v1h-1zM798 304h1v1h-1zM803 304h1v1h-1zM808 304h1v1h-1zM813 304h1v1h-1zM818 304h1v1h-1zM823 304h1v1h-1zM828 304h1v1h-1zM833 304h1v1h-1zM838 304h1v1h-1zM843 304h1v1h-1zM848 304h1v1h-1zM853 304h1v1h-1zM858 304h1v1h-1zM863 304h1v1h-1zM868 304h1v1h-1zM873 304h1v1h-1zM878 304h1v1h-1zM883 304h1v1h-1zM888 304h1v1h-1zM893 304h1v1h-1zM898 304h1v1h-1zM903 304h1v1h-1zM908 304h1v1h-1zM913 304h1v1h-1zM918 304h1v1h-1zM923 304h1v1h-1zM928 304h1v1h-1zM933 304h1v1h-1zM938 304h1v1h-1zM943 304h1v1h-1zM948 304h1v1h-1zM953 304h1v1h-1zM958 304h1v1h-1zM963 304h1v1h-1zM968 304h1v1h-1zM973 304h1v1h-1zM978 304h1v1h-1zM983 304h1v1h-1zM988 304h1v1h-1zM993 304h1v1h-1zM998 304h1v1h-1zM1003 304h1v1h-1zM1008 304h1v1h-1zM1013 304h1v1h-1zM1018 304h1v1h-1zM1023 304h1v1h-1zM1028 304h1v1h-1zM1033 304h1v1h-1zM1038 304h1v1h-1zM1043 304h1v1h-1zM1048 304h1v1h-1zM1053 304h1v1h-1zM1058 304h1v1h-1zM1063 304h1v1h-1zM1068 304h1v1h-1zM1073 304h1v1h-1zM1078 304h1v1h-1zM1083 304h1v1h-1zM1088 304h1v1h-1zM1093 304h1v1h-1zM1098 304h1v1h-1zM1103 304h1v1h-1zM1108 304h1v1h-1zM1113 304h1v1h-1zM1118 304h1v1h-1zM1123 304h1v1h-1zM1128 304h1v1h-1zM1133 304h1v1h-1zM1138 304h1v1h-1zM1143 304h1v1h-1zM1148 304h1v1h-1zM1153 304h1v1h-1zM1158 304h1v1h-1zM1163 304h1v1h-1zM1168 304h1v1h-1zM1173 304h1v1h-1zM1178 304h1v1h-1zM1183 304h1v1h-1zM1188 304h1v1h-1zM1193 304h1v1h-1zM1198 304h1v1h-1zM1203 304h1v1h-1zM1208 304h1v1h-1zM1213 304h1v1h-1zM1218 304h1v1h-1zM1223 304h1v1h-1zM1228 304h1v1h-1zM1233 304h1v1h-1zM1238 304h1v1h-1zM1243 304h1v1h-1zM1248 304h1v1h-1zM1253 304h1v1h-1zM1258 304h1v1h-1zM1263 304h1v1h-1zM1268 304h1v1h-1zM1273 304h1v1h-1zM1278 304h1v1h-1zM1283 304h1v1h-1zM1288 304h1v1h-1zM1293 304h1v1h-1zM1298 304h1v1h-1zM1303 304h1v1h-1zM1308 304h1v1h-1zM1313 304h1v1h-1zM1318 304h1v1h-1zM1323 304h1v1h-1zM1328 304h1v1h-1zM1333 304h1v1h-1zM1338 304h1v1h-1zM1343 304h1v1h-1zM1348 304h1v1h-1zM1353 304h1v1h-1zM1358 304h1v1h-1zM1363 304h1v1h-1zM1368 304h1v1h-1zM1373 304h1v1h-1zM1378 304h1v1h-1zM1383 304h1v1h-1zM1388 304h1v1h-1zM1393 304h1v1h-1zM1398 304h1v1h-1zM1403 304h1v1h-1zM1408 304h1v1h-1zM1413 304h1v1h-1zM1418 304h1v1h-1zM1423 304h1v1h-1zM1428 304h1v1h-1zM1433 304h1v1h-1zM1438 304h1v1h-1zM1443 304h1v1h-1zM1448 304h1v1h-1zM1453 304h1v1h-1zM1458 304h1v1h-1zM1463 304h1v1h-1zM1468 304h1v1h-1zM1473 304h1v1h-1zM1478 304h1v1h-1zM1483 304h1v1h-1zM1488 304h1v1h-1zM1493 304h1v1h-1zM1498 304h1v1h-1zM1503 304h1v1h-1zM1508 304h1v1h-1zM1513 304h1v1h-1zM1518 304h1v1h-1zM1523 304h1v1h-1zM1528 304h1v1h-1zM1533 304h1v1h-1zM1538 304h1v1h-1zM1543 304h1v1h-1zM1548 304h1v1h-1zM1553 304h1v1h-1zM1558 304h1v1h-1zM1563 304h1v1h-1zM1568 304h1v1h-1zM1573 304h1v1h-1zM1578 304h1v1h-1zM1583 304h1v1h-1zM1588 304h1v1h-1zM1593 304h1v1h-1zM1598 304h1v1h-1zM1603 304h1v1h-1zM1608 304h1v1h-1zM1613 304h1v1h-1zM1618 304h1v1h-1zM1623 304h1v1h-1zM1628 304h1v1h-1zM1633 304h1v1h-1zM1638 304h1v1h-1zM1643 304h1v1h-1zM1648 304h1v1h-1zM1653 304h1v1h-1zM1658 304h1v1h-1zM1663 304h1v1h-1zM1668 304h1v1h-1zM1673 304h1v1h-1zM1678 304h1v1h-1zM1683 304h1v1h-1zM1688 304h1v1h-1zM1693 304h1v1h-1zM1698 304h1v1h-1zM1703 304h1v1h-1zM1708 304h1v1h-1zM248 406h1v1h-1zM253 406h1v1h-1zM258 406h1v1h-1zM263 406h1v1h-1zM268 406h1v1h-1zM273 406h1v1h-1zM278 406h1v1h-1zM283 406h1v1h-1zM288 406h1v1h-1zM293 406h1v1h-1zM298 406h1v1h-1zM303 406h1v1h-1zM308 406h1v1h-1zM313 406h1v1h-1zM318 406h1v1h-1zM323 406h1v1h-1zM328 406h1v1h-1zM333 406h1v1h-1zM338 406h1v1h-1zM343 406h1v1h-1zM348 406h1v1h-1zM353 406h1v1h-1zM358 406h1v1h-1zM363 406h1v1h-1zM368 406h1v1h-1zM373 406h1v1h-1zM378 406h1v1h-1zM383 406h1v1h-1zM388 406h1v1h-1zM393 406h1v1h-1zM398 406h1v1h-1zM403 406h1v1h-1zM408 406h1v1h-1zM413 406h1v1h-1zM418 406h1v1h-1zM423 406h1v1h-1zM428 406h1v1h-1zM433 406h1v1h-1zM438 406h1v1h-1zM443 406h1v1h-1zM448 406h1v1h-1zM453 406h1v1h-1zM458 406h1v1h-1zM463 406h1v1h-1zM468 406h1v1h-1zM473 406h1v1h-1zM478 406h1v1h-1zM483 406h1v1h-1zM488 406h1v1h-1zM493 406h1v1h-1zM498 406h1v1h-1zM503 406h1v1h-1zM508 406h1v1h-1zM513 406h1v1h-1zM518 406h1v1h-1zM523 406h1v1h-1zM528 406h1v1h-1zM533 406h1v1h-1zM538 406h1v1h-1zM543 406h1v1h-1zM548 406h1v1h-1zM553 406h1v1h-1zM558 406h1v1h-1zM563 406h1v1h-1zM568 406h1v1h-1zM573 406h1v1h-1zM578 406h1v1h-1zM583 406h1v1h-1zM588 406h1v1h-1zM593 406h1v1h-1zM598 406h1v1h-1zM603 406h1v1h-1zM608 406h1v1h-1zM613 406h1v1h-1zM618 406h1v1h-1zM623 406h1v1h-1zM628 406h1v1h-1zM633 406h1v1h-1zM638 406h1v1h-1zM643 406h1v1h-1zM648 406h1v1h-1zM653 406h1v1h-1zM658 406h1v1h-1zM663 406h1v1h-1zM668 406h1v1h-1zM673 406h1v1h-1zM678 406h1v1h-1zM683 406h1v1h-1zM688 406h1v1h-1zM693 406h1v1h-1zM698 406h1v1h-1zM703 406h1v1h-1zM708 406h1v1h-1zM713 406h1v1h-1zM718 406h1v1h-1zM723 406h1v1h-1zM728 406h1v1h-1zM733 406h1v1h-1zM738 406h1v1h-1zM743 406h1v1h-1zM748 406h1v1h-1zM753 406h1v1h-1zM758 406h1v1h-1zM763 406h1v1h-1zM768 406h1v1h-1zM773 406h1v1h-1zM778 406h1v1h-1zM783 406h1v1h-1zM788 406h1v1h-1zM793 406h1v1h-1zM798 406h1v1h-1zM803 406h1v1h-1zM808 406h1v1h-1zM813 406h1v1h-1zM818 406h1v1h-1zM823 406h1v1h-1zM828 406h1v1h-1zM833 406h1v1h-1zM838 406h1v1h-1zM843 406h1v1h-1zM848 406h1v1h-1zM853 406h1v1h-1zM858 406h1v1h-1zM863 406h1v1h-1zM868 406h1v1h-1zM873 406h1v1h-1zM878 406h1v1h-1zM883 406h1v1h-1zM888 406h1v1h-1zM893 406h1v1h-1zM898 406h1v1h-1zM903 406h1v1h-1zM908 406h1v1h-1zM913 406h1v1h-1zM918 406h1v1h-1zM923 406h1v1h-1zM928 406h1v1h-1zM933 406h1v1h-1zM938 406h1v1h-1zM943 406h1v1h-1zM948 406h1v1h-1zM953 406h1v1h-1zM958 406h1v1h-1zM963 406h1v1h-1zM968 406h1v1h-1zM973 406h1v1h-1zM978 406h1v1h-1zM983 406h1v1h-1zM988 406h1v1h-1zM993 406h1v1h-1zM998 406h1v1h-1zM1003 406h1v1h-1zM1008 406h1v1h-1zM1013 406h1v1h-1zM1018 406h1v1h-1zM1023 406h1v1h-1zM1028 406h1v1h-1zM1033 406h1v1h-1zM1038 406h1v1h-1zM1043 406h1v1h-1zM1048 406h1v1h-1zM1053 406h1v1h-1zM1058 406h1v1h-1zM1063 406h1v1h-1zM1068 406h1v1h-1zM1073 406h1v1h-1zM1078 406h1v1h-1zM1083 406h1v1h-1zM1088 406h1v1h-1zM1093 406h1v1h-1zM1098 406h1v1h-1zM1103 406h1v1h-1zM1108 406h1v1h-1zM1113 406h1v1h-1zM1118 406h1v1h-1zM1123 406h1v1h-1zM1128 406h1v1h-1zM1133 406h1v1h-1zM1138 406h1v1h-1zM1143 406h1v1h-1zM1148 406h1v1h-1zM1153 406h1v1h-1zM1158 406h1v1h-1zM1163 406h1v1h-1zM1168 406h1v1h-1zM1173 406h1v1h-1zM1178 406h1v1h-1zM1183 406h1v1h-1zM1188 406h1v1h-1zM1193 406h1v1h-1zM1198 406h1v1h-1zM1203 406h1v1h-1zM1208 406h1v1h-1zM1213 406h1v1h-1zM1218 406h1v1h-1zM1223 406h1v1h-1zM1228 406h1v1h-1zM1233 406h1v1h-1zM1238 406h1v1h-1zM1243 406h1v1h-1zM1248 406h1v1h-1zM1253 406h1v1h-1zM1258 406h1v1h-1zM1263 406h1v1h-1zM1268 406h1v1h-1zM1273 406h1v1h-1zM1278 406h1v1h-1zM1283 406h1v1h-1zM1288 406h1v1h-1zM1293 406h1v1h-1zM1298 406h1v1h-1zM1303 406h1v1h-1zM1308 406h1v1h-1zM1313 406h1v1h-1zM1318 406h1v1h-1zM1323 406h1v1h-1zM1328 406h1v1h-1zM1333 406h1v1h-1zM1338 406h1v1h-1zM1343 406h1v1h-1zM1348 406h1v1h-1zM1353 406h1v1h-1zM1358 406h1v1h-1zM1363 406h1v1h-1zM1368 406h1v1h-1zM1373 406h1v1h-1zM1378 406h1v1h-1zM1383 406h1v1h-1zM1388 406h1v1h-1zM1393 406h1v1h-1zM1398 406h1v1h-1zM1403 406h1v1h-1zM1408 406h1v1h-1zM1413 406h1v1h-1zM1418 406h1v1h-1zM1423 406h1v1h-1zM1428 406h1v1h-1zM1433 406h1v1h-1zM1438 406h1v1h-1zM1443 406h1v1h-1zM1448 406h1v1h-1zM1453 406h1v1h-1zM1458 406h1v1h-1zM1463 406h1v1h-1zM1468 406h1v1h-1zM1473 406h1v1h-1zM1478 406h1v1h-1zM1483 406h1v1h-1zM1488 406h1v1h-1zM1493 406h1v1h-1zM1498 406h1v1h-1zM1503 406h1v1h-1zM1508 406h1v1h-1zM1513 406h1v1h-1zM1518 406h1v1h-1zM1523 406h1v1h-1zM1528 406h1v1h-1zM1533 406h1v1h-1zM1538 406h1v1h-1zM1543 406h1v1h-1zM1548 406h1v1h-1zM1553 406h1v1h-1zM1558 406h1v1h-1zM1563 406h1v1h-1zM1568 406h1v1h-1zM1573 406h1v1h-1zM1578 406h1v1h-1zM1583 406h1v1h-1zM1588 406h1v1h-1zM1593 406h1v1h-1zM1598 406h1v1h-1zM1603 406h1v1h-1zM1608 406h1v1h-1zM1613 406h1v1h-1zM1618 406h1v1h-1zM1623 406h1v1h-1zM1628 406h1v1h-1zM1633 406h1v1h-1zM1638 406h1v1h-1zM1643 406h1v1h-1zM1648 406h1v1h-1zM1653 406h1v1h-1zM1658 406h1v1h-1zM1663 406h1v1h-1zM1668 406h1v1h-1zM1673 406h1v1h-1zM1678 406h1v1h-1zM1683 406h1v1h-1zM1688 406h1v1h-1zM1693 406h1v1h-1zM1698 406h1v1h-1zM1703 406h1v1h-1zM1708 406h1v1h-1zM248 509h1v1h-1zM253 509h1v1h-1zM258 509h1v1h-1zM263 509h1v1h-1zM268 509h1v1h-1zM273 509h1v1h-1zM278 509h1v1h-1zM283 509h1v1h-1zM288 509h1v1h-1zM293 509h1v1h-1zM298 509h1v1h-1zM303 509h1v1h-1zM308 509h1v1h-1zM313 509h1v1h-1zM318 509h1v1h-1zM323 509h1v1h-1zM328 509h1v1h-1zM333 509h1v1h-1zM338 509h1v1h-1zM343 509h1v1h-1zM348 509h1v1h-1zM353 509h1v1h-1zM358 509h1v1h-1zM363 509h1v1h-1zM368 509h1v1h-1zM373 509h1v1h-1zM378 509h1v1h-1zM383 509h1v1h-1zM388 509h1v1h-1zM393 509h1v1h-1zM398 509h1v1h-1zM403 509h1v1h-1zM408 509h1v1h-1zM413 509h1v1h-1zM418 509h1v1h-1zM423 509h1v1h-1zM428 509h1v1h-1zM433 509h1v1h-1zM438 509h1v1h-1zM443 509h1v1h-1zM448 509h1v1h-1zM453 509h1v1h-1zM458 509h1v1h-1zM463 509h1v1h-1zM468 509h1v1h-1zM473 509h1v1h-1zM478 509h1v1h-1zM483 509h1v1h-1zM488 509h1v1h-1zM493 509h1v1h-1zM498 509h1v1h-1zM503 509h1v1h-1zM508 509h1v1h-1zM513 509h1v1h-1zM518 509h1v1h-1zM523 509h1v1h-1zM528 509h1v1h-1zM533 509h1v1h-1zM538 509h1v1h-1zM543 509h1v1h-1zM548 509h1v1h-1zM553 509h1v1h-1zM558 509h1v1h-1zM563 509h1v1h-1zM568 509h1v1h-1zM573 509h1v1h-1zM578 509h1v1h-1zM583 509h1v1h-1zM588 509h1v1h-1zM593 509h1v1h-1zM598 509h1v1h-1zM603 509h1v1h-1zM608 509h1v1h-1zM613 509h1v1h-1zM618 509h1v1h-1zM623 509h1v1h-1zM628 509h1v1h-1zM633 509h1v1h-1zM638 509h1v1h-1zM643 509h1v1h-1zM648 509h1v1h-1zM653 509h1v1h-1zM658 509h1v1h-1zM663 509h1v1h-1zM668 509h1v1h-1zM673 509h1v1h-1zM678 509h1v1h-1zM683 509h1v1h-1zM688 509h1v1h-1zM693 509h1v1h-1zM698 509h1v1h-1zM703 509h1v1h-1zM708 509h1v1h-1zM713 509h1v1h-1zM718 509h1v1h-1zM723 509h1v1h-1zM728 509h1v1h-1zM733 509h1v1h-1zM738 509h1v1h-1zM743 509h1v1h-1zM748 509h1v1h-1zM753 509h1v1h-1zM758 509h1v1h-1zM763 509h1v1h-1zM768 509h1v1h-1zM773 509h1v1h-1zM778 509h1v1h-1zM783 509h1v1h-1zM788 509h1v1h-1zM793 509h1v1h-1zM798 509h1v1h-1zM803 509h1v1h-1zM808 509h1v1h-1zM813 509h1v1h-1zM818 509h1v1h-1zM823 509h1v1h-1zM828 509h1v1h-1zM833 509h1v1h-1zM838 509h1v1h-1zM843 509h1v1h-1zM848 509h1v1h-1zM853 509h1v1h-1zM858 509h1v1h-1zM863 509h1v1h-1zM868 509h1v1h-1zM873 509h1v1h-1zM878 509h1v1h-1zM883 509h1v1h-1zM888 509h1v1h-1zM893 509h1v1h-1zM898 509h1v1h-1zM903 509h1v1h-1zM908 509h1v1h-1zM913 509h1v1h-1zM918 509h1v1h-1zM923 509h1v1h-1zM928 509h1v1h-1zM933 509h1v1h-1zM938 509h1v1h-1zM943 509h1v1h-1zM948 509h1v1h-1zM953 509h1v1h-1zM958 509h1v1h-1zM963 509h1v1h-1zM968 509h1v1h-1zM973 509h1v1h-1zM978 509h1v1h-1zM983 509h1v1h-1zM988 509h1v1h-1zM993 509h1v1h-1zM998 509h1v1h-1zM1003 509h1v1h-1zM1008 509h1v1h-1zM1013 509h1v1h-1zM1018 509h1v1h-1zM1023 509h1v1h-1zM1028 509h1v1h-1zM1033 509h1v1h-1zM1038 509h1v1h-1zM1043 509h1v1h-1zM1048 509h1v1h-1zM1053 509h1v1h-1zM1058 509h1v1h-1zM1063 509h1v1h-1zM1068 509h1v1h-1zM1073 509h1v1h-1zM1078 509h1v1h-1zM1083 509h1v1h-1zM1088 509h1v1h-1zM1093 509h1v1h-1zM1098 509h1v1h-1zM1103 509h1v1h-1zM1108 509h1v1h-1zM1113 509h1v1h-1zM1118 509h1v1h-1zM1123 509h1v1h-1zM1128 509h1v1h-1zM1133 509h1v1h-1zM1138 509h1v1h-1zM1143 509h1v1h-1zM1148 509h1v1h-1zM1153 509h1v1h-1zM1158 509h1v1h-1zM1163 509h1v1h-1zM1168 509h1v1h-1zM1173 509h1v1h-1zM1178 509h1v1h-1zM1183 509h1v1h-1zM1188 509h1v1h-1zM1193 509h1v1h-1zM1198 509h1v1h-1zM1203 509h1v1h-1zM1208 509h1v1h-1zM1213 509h1v1h-1zM1218 509h1v1h-1zM1223 509h1v1h-1zM1228 509h1v1h-1zM1233 509h1v1h-1zM1238 509h1v1h-1zM1243 509h1v1h-1zM1248 509h1v1h-1zM1253 509h1v1h-1zM1258 509h1v1h-1zM1263 509h1v1h-1zM1268 509h1v1h-1zM1273 509h1v1h-1zM1278 509h1v1h-1zM1283 509h1v1h-1zM1288 509h1v1h-1zM1293 509h1v1h-1zM1298 509h1v1h-1zM1303 509h1v1h-1zM1308 509h1v1h-1zM1313 509h1v1h-1zM1318 509h1v1h-1zM1323 509h1v1h-1zM1328 509h1v1h-1zM1333 509h1v1h-1zM1338 509h1v1h-1zM1343 509h1v1h-1zM1348 509h1v1h-1zM1353 509h1v1h-1zM1358 509h1v1h-1zM1363 509h1v1h-1zM1368 509h1v1h-1zM1373 509h1v1h-1zM1378 509h1v1h-1zM1383 509h1v1h-1zM1388 509h1v1h-1zM1393 509h1v1h-1zM1398 509h1v1h-1zM1403 509h1v1h-1zM1408 509h1v1h-1zM1413 509h1v1h-1zM1418 509h1v1h-1zM1423 509h1v1h-1zM1428 509h1v1h-1zM1433 509h1v1h-1zM1438 509h1v1h-1zM1443 509h1v1h-1zM1448 509h1v1h-1zM1453 509h1v1h-1zM1458 509h1v1h-1zM1463 509h1v1h-1zM1468 509h1v1h-1zM1473 509h1v1h-1zM1478 509h1v1h-1zM1483 509h1v1h-1zM1488 509h1v1h-1zM1493 509h1v1h-1zM1498 509h1v1h-1zM1503 509h1v1h-1zM1508 509h1v1h-1zM1513 509h1v1h-1zM1518 509h1v1h-1zM1523 509h1v1h-1zM1528 509h1v1h-1zM1533 509h1v1h-1zM1538 509h1v1h-1zM1543 509h1v1h-1zM1548 509h1v1h-1zM1553 509h1v1h-1zM1558 509h1v1h-1zM1563 509h1v1h-1zM1568 509h1v1h-1zM1573 509h1v1h-1zM1578 509h1v1h-1zM1583 509h1v1h-1zM1588 509h1v1h-1zM1593 509h1v1h-1zM1598 509h1v1h-1zM1603 509h1v1h-1zM1608 509h1v1h-1zM1613 509h1v1h-1zM1618 509h1v1h-1zM1623 509h1v1h-1zM1628 509h1v1h-1zM1633 509h1v1h-1zM1638 509h1v1h-1zM1643 509h1v1h-1zM1648 509h1v1h-1zM1653 509h1v1h-1zM1658 509h1v1h-1zM1663 509h1v1h-1zM1668 509h1v1h-1zM1673 509h1v1h-1zM1678 509h1v1h-1zM1683 509h1v1h-1zM1688 509h1v1h-1zM1693 509h1v1h-1zM1698 509h1v1h-1zM1703 509h1v1h-1zM1708 509h1v1h-1zM248 611h1v1h-1zM253 611h1v1h-1zM258 611h1v1h-1zM263 611h1v1h-1zM268 611h1v1h-1zM273 611h1v1h-1zM278 611h1v1h-1zM283 611h1v1h-1zM288 611h1v1h-1zM293 611h1v1h-1zM298 611h1v1h-1zM303 611h1v1h-1zM308 611h1v1h-1zM313 611h1v1h-1zM318 611h1v1h-1zM323 611h1v1h-1zM328 611h1v1h-1zM333 611h1v1h-1zM338 611h1v1h-1zM343 611h1v1h-1zM348 611h1v1h-1zM353 611h1v1h-1zM358 611h1v1h-1zM363 611h1v1h-1zM368 611h1v1h-1zM373 611h1v1h-1zM378 611h1v1h-1zM383 611h1v1h-1zM388 611h1v1h-1zM393 611h1v1h-1zM398 611h1v1h-1zM403 611h1v1h-1zM408 611h1v1h-1zM413 611h1v1h-1zM418 611h1v1h-1zM423 611h1v1h-1zM428 611h1v1h-1zM433 611h1v1h-1zM438 611h1v1h-1zM443 611h1v1h-1zM448 611h1v1h-1zM453 611h1v1h-1zM458 611h1v1h-1zM463 611h1v1h-1zM468 611h1v1h-1zM473 611h1v1h-1zM478 611h1v1h-1zM483 611h1v1h-1zM488 611h1v1h-1zM493 611h1v1h-1zM498 611h1v1h-1zM503 611h1v1h-1zM508 611h1v1h-1zM513 611h1v1h-1zM518 611h1v1h-1zM523 611h1v1h-1zM528 611h1v1h-1zM533 611h1v1h-1zM538 611h1v1h-1zM543 611h1v1h-1zM548 611h1v1h-1zM553 611h1v1h-1zM558 611h1v1h-1zM563 611h1v1h-1zM568 611h1v1h-1zM573 611h1v1h-1zM578 611h1v1h-1zM583 611h1v1h-1zM588 611h1v1h-1zM593 611h1v1h-1zM598 611h1v1h-1zM603 611h1v1h-1zM608 611h1v1h-1zM613 611h1v1h-1zM618 611h1v1h-1zM623 611h1v1h-1zM628 611h1v1h-1zM633 611h1v1h-1zM638 611h1v1h-1zM643 611h1v1h-1zM648 611h1v1h-1zM653 611h1v1h-1zM658 611h1v1h-1zM663 611h1v1h-1zM668 611h1v1h-1zM673 611h1v1h-1zM678 611h1v1h-1zM683 611h1v1h-1zM688 611h1v1h-1zM693 611h1v1h-1zM698 611h1v1h-1zM703 611h1v1h-1zM708 611h1v1h-1zM713 611h1v1h-1zM718 611h1v1h-1zM723 611h1v1h-1zM728 611h1v1h-1zM733 611h1v1h-1zM738 611h1v1h-1zM743 611h1v1h-1zM748 611h1v1h-1zM753 611h1v1h-1zM758 611h1v1h-1zM763 611h1v1h-1zM768 611h1v1h-1zM773 611h1v1h-1zM778 611h1v1h-1zM783 611h1v1h-1zM788 611h1v1h-1zM793 611h1v1h-1zM798 611h1v1h-1zM803 611h1v1h-1zM808 611h1v1h-1zM813 611h1v1h-1zM818 611h1v1h-1zM823 611h1v1h-1zM828 611h1v1h-1zM833 611h1v1h-1zM838 611h1v1h-1zM843 611h1v1h-1zM848 611h1v1h-1zM853 611h1v1h-1zM858 611h1v1h-1zM863 611h1v1h-1zM868 611h1v1h-1zM873 611h1v1h-1zM878 611h1v1h-1zM883 611h1v1h-1zM888 611h1v1h-1zM893 611h1v1h-1zM898 611h1v1h-1zM903 611h1v1h-1zM908 611h1v1h-1zM913 611h1v1h-1zM918 611h1v1h-1zM923 611h1v1h-1zM928 611h1v1h-1zM933 611h1v1h-1zM938 611h1v1h-1zM943 611h1v1h-1zM948 611h1v1h-1zM953 611h1v1h-1zM958 611h1v1h-1zM963 611h1v1h-1zM968 611h1v1h-1zM973 611h1v1h-1zM978 611h1v1h-1zM983 611h1v1h-1zM988 611h1v1h-1zM993 611h1v1h-1zM998 611h1v1h-1zM1003 611h1v1h-1zM1008 611h1v1h-1zM1013 611h1v1h-1zM1018 611h1v1h-1zM1023 611h1v1h-1zM1028 611h1v1h-1zM1033 611h1v1h-1zM1038 611h1v1h-1zM1043 611h1v1h-1zM1048 611h1v1h-1zM1053 611h1v1h-1zM1058 611h1v1h-1zM1063 611h1v1h-1zM1068 611h1v1h-1zM1073 611h1v1h-1zM1078 611h1v1h-1zM1083 611h1v1h-1zM1088 611h1v1h-1zM1093 611h1v1h-1zM1098 611h1v1h-1zM1103 611h1v1h-1zM1108 611h1v1h-1zM1113 611h1v1h-1zM1118 611h1v1h-1zM1123 611h1v1h-1zM1128 611h1v1h-1zM1133 611h1v1h-1zM1138 611h1v1h-1zM1143 611h1v1h-1zM1148 611h1v1h-1zM1153 611h1v1h-1zM1158 611h1v1h-1zM1163 611h1v1h-1zM1168 611h1v1h-1zM1173 611h1v1h-1zM1178 611h1v1h-1zM1183 611h1v1h-1zM1188 611h1v1h-1zM1193 611h1v1h-1zM1198 611h1v1h-1zM1203 611h1v1h-1zM1208 611h1v1h-1zM1213 611h1v1h-1zM1218 611h1v1h-1zM1223 611h1v1h-1zM1228 611h1v1h-1zM1233 611h1v1h-1zM1238 611h1v1h-1zM1243 611h1v1h-1zM1248 611h1v1h-1zM1253 611h1v1h-1zM1258 611h1v1h-1zM1263 611h1v1h-1zM1268 611h1v1h-1zM1273 611h1v1h-1zM1278 611h1v1h-1zM1283 611h1v1h-1zM1288 611h1v1h-1zM1293 611h1v1h-1zM1298 611h1v1h-1zM1303 611h1v1h-1zM1308 611h1v1h-1zM1313 611h1v1h-1zM1318 611h1v1h-1zM1323 611h1v1h-1zM1328 611h1v1h-1zM1333 611h1v1h-1zM1338 611h1v1h-1zM1343 611h1v1h-1zM1348 611h1v1h-1zM1353 611h1v1h-1zM1358 611h1v1h-1zM1363 611h1v1h-1zM1368 611h1v1h-1zM1373 611h1v1h-1zM1378 611h1v1h-1zM1383 611h1v1h-1zM1388 611h1v1h-1zM1393 611h1v1h-1zM1398 611h1v1h-1zM1403 611h1v1h-1zM1408 611h1v1h-1zM1413 611h1v1h-1zM1418 611h1v1h-1zM1423 611h1v1h-1zM1428 611h1v1h-1zM1433 611h1v1h-1zM1438 611h1v1h-1zM1443 611h1v1h-1zM1448 611h1v1h-1zM1453 611h1v1h-1zM1458 611h1v1h-1zM1463 611h1v1h-1zM1468 611h1v1h-1zM1473 611h1v1h-1zM1478 611h1v1h-1zM1483 611h1v1h-1zM1488 611h1v1h-1zM1493 611h1v1h-1zM1498 611h1v1h-1zM1503 611h1v1h-1zM1508 611h1v1h-1zM1513 611h1v1h-1zM1518 611h1v1h-1zM1523 611h1v1h-1zM1528 611h1v1h-1zM1533 611h1v1h-1zM1538 611h1v1h-1zM1543 611h1v1h-1zM1548 611h1v1h-1zM1553 611h1v1h-1zM1558 611h1v1h-1zM1563 611h1v1h-1zM1568 611h1v1h-1zM1573 611h1v1h-1zM1578 611h1v1h-1zM1583 611h1v1h-1zM1588 611h1v1h-1zM1593 611h1v1h-1zM1598 611h1v1h-1zM1603 611h1v1h-1zM1608 611h1v1h-1zM1613 611h1v1h-1zM1618 611h1v1h-1zM1623 611h1v1h-1zM1628 611h1v1h-1zM1633 611h1v1h-1zM1638 611h1v1h-1zM1643 611h1v1h-1zM1648 611h1v1h-1zM1653 611h1v1h-1zM1658 611h1v1h-1zM1663 611h1v1h-1zM1668 611h1v1h-1zM1673 611h1v1h-1zM1678 611h1v1h-1zM1683 611h1v1h-1zM1688 611h1v1h-1zM1693 611h1v1h-1zM1698 611h1v1h-1zM1703 611h1v1h-1zM1708 611h1v1h-1zM248 713h1v1h-1zM253 713h1v1h-1zM258 713h1v1h-1zM263 713h1v1h-1zM268 713h1v1h-1zM273 713h1v1h-1zM278 713h1v1h-1zM283 713h1v1h-1zM288 713h1v1h-1zM293 713h1v1h-1zM298 713h1v1h-1zM303 713h1v1h-1zM308 713h1v1h-1zM313 713h1v1h-1zM318 713h1v1h-1zM323 713h1v1h-1zM328 713h1v1h-1zM333 713h1v1h-1zM338 713h1v1h-1zM343 713h1v1h-1zM348 713h1v1h-1zM353 713h1v1h-1zM358 713h1v1h-1zM363 713h1v1h-1zM368 713h1v1h-1zM373 713h1v1h-1zM378 713h1v1h-1zM383 713h1v1h-1zM388 713h1v1h-1zM393 713h1v1h-1zM398 713h1v1h-1zM403 713h1v1h-1zM408 713h1v1h-1zM413 713h1v1h-1zM418 713h1v1h-1zM423 713h1v1h-1zM428 713h1v1h-1zM433 713h1v1h-1zM438 713h1v1h-1zM443 713h1v1h-1zM448 713h1v1h-1zM453 713h1v1h-1zM458 713h1v1h-1zM463 713h1v1h-1zM468 713h1v1h-1zM473 713h1v1h-1zM478 713h1v1h-1zM483 713h1v1h-1zM488 713h1v1h-1zM493 713h1v1h-1zM498 713h1v1h-1zM503 713h1v1h-1zM508 713h1v1h-1zM513 713h1v1h-1zM518 713h1v1h-1zM523 713h1v1h-1zM528 713h1v1h-1zM533 713h1v1h-1zM538 713h1v1h-1zM543 713h1v1h-1zM548 713h1v1h-1zM553 713h1v1h-1zM558 713h1v1h-1zM563 713h1v1h-1zM568 713h1v1h-1zM573 713h1v1h-1zM578 713h1v1h-1zM583 713h1v1h-1zM588 713h1v1h-1zM593 713h1v1h-1zM598 713h1v1h-1zM603 713h1v1h-1zM608 713h1v1h-1zM613 713h1v1h-1zM618 713h1v1h-1zM623 713h1v1h-1zM628 713h1v1h-1zM633 713h1v1h-1zM638 713h1v1h-1zM643 713h1v1h-1zM648 713h1v1h-1zM653 713h1v1h-1zM658 713h1v1h-1zM663 713h1v1h-1zM668 713h1v1h-1zM673 713h1v1h-1zM678 713h1v1h-1zM683 713h1v1h-1zM688 713h1v1h-1zM693 713h1v1h-1zM698 713h1v1h-1zM703 713h1v1h-1zM708 713h1v1h-1zM713 713h1v1h-1zM718 713h1v1h-1zM723 713h1v1h-1zM728 713h1v1h-1zM733 713h1v1h-1zM738 713h1v1h-1zM743 713h1v1h-1zM748 713h1v1h-1zM753 713h1v1h-1zM758 713h1v1h-1zM763 713h1v1h-1zM768 713h1v1h-1zM773 713h1v1h-1zM778 713h1v1h-1zM783 713h1v1h-1zM788 713h1v1h-1zM793 713h1v1h-1zM798 713h1v1h-1zM803 713h1v1h-1zM808 713h1v1h-1zM813 713h1v1h-1zM818 713h1v1h-1zM823 713h1v1h-1zM828 713h1v1h-1zM833 713h1v1h-1zM838 713h1v1h-1zM843 713h1v1h-1zM848 713h1v1h-1zM853 713h1v1h-1zM858 713h1v1h-1zM863 713h1v1h-1zM868 713h1v1h-1zM873 713h1v1h-1zM878 713h1v1h-1zM883 713h1v1h-1zM888 713h1v1h-1zM893 713h1v1h-1zM898 713h1v1h-1zM903 713h1v1h-1zM908 713h1v1h-1zM913 713h1v1h-1zM918 713h1v1h-1zM923 713h1v1h-1zM928 713h1v1h-1zM933 713h1v1h-1zM938 713h1v1h-1zM943 713h1v1h-1zM948 713h1v1h-1zM953 713h1v1h-1zM958 713h1v1h-1zM963 713h1v1h-1zM968 713h1v1h-1zM973 713h1v1h-1zM978 713h1v1h-1zM983 713h1v1h-1zM988 713h1v1h-1zM993 713h1v1h-1zM998 713h1v1h-1zM1003 713h1v1h-1zM1008 713h1v1h-1zM1013 713h1v1h-1zM1018 713h1v1h-1zM1023 713h1v1h-1zM1028 713h1v1h-1zM1033 713h1v1h-1zM1038 713h1v1h-1zM1043 713h1v1h-1zM1048 713h1v1h-1zM1053 713h1v1h-1zM1058 713h1v1h-1zM1063 713h1v1h-1zM1068 713h1v1h-1zM1073 713h1v1h-1zM1078 713h1v1h-1zM1083 713h1v1h-1zM1088 713h1v1h-1zM1093 713h1v1h-1zM1098 713h1v1h-1zM1103 713h1v1h-1zM1108 713h1v1h-1zM1113 713h1v1h-1zM1118 713h1v1h-1zM1123 713h1v1h-1zM1128 713h1v1h-1zM1133 713h1v1h-1zM1138 713h1v1h-1zM1143 713h1v1h-1zM1148 713h1v1h-1zM1153 713h1v1h-1zM1158 713h1v1h-1zM1163 713h1v1h-1zM1168 713h1v1h-1zM1173 713h1v1h-1zM1178 713h1v1h-1zM1183 713h1v1h-1zM1188 713h1v1h-1zM1193 713h1v1h-1zM1198 713h1v1h-1zM1203 713h1v1h-1zM1208 713h1v1h-1zM1213 713h1v1h-1zM1218 713h1v1h-1zM1223 713h1v1h-1zM1228 713h1v1h-1zM1233 713h1v1h-1zM1238 713h1v1h-1zM1243 713h1v1h-1zM1248 713h1v1h-1zM1253 713h1v1h-1zM1258 713h1v1h-1zM1263 713h1v1h-1zM1268 713h1v1h-1zM1273 713h1v1h-1zM1278 713h1v1h-1zM1283 713h1v1h-1zM1288 713h1v1h-1zM1293 713h1v1h-1zM1298 713h1v1h-1zM1303 713h1v1h-1zM1308 713h1v1h-1zM1313 713h1v1h-1zM1318 713h1v1h-1zM1323 713h1v1h-1zM1328 713h1v1h-1zM1333 713h1v1h-1zM1338 713h1v1h-1zM1343 713h1v1h-1zM1348 713h1v1h-1zM1353 713h1v1h-1zM1358 713h1v1h-1zM1363 713h1v1h-1zM1368 713h1v1h-1zM1373 713h1v1h-1zM1378 713h1v1h-1zM1383 713h1v1h-1zM1388 713h1v1h-1zM1393 713h1v1h-1zM1398 713h1v1h-1zM1403 713h1v1h-1zM1408 713h1v1h-1zM1413 713h1v1h-1zM1418 713h1v1h-1zM1423 713h1v1h-1zM1428 713h1v1h-1zM1433 713h1v1h-1zM1438 713h1v1h-1zM1443 713h1v1h-1zM1448 713h1v1h-1zM1453 713h1v1h-1zM1458 713h1v1h-1zM1463 713h1v1h-1zM1468 713h1v1h-1zM1473 713h1v1h-1zM1478 713h1v1h-1zM1483 713h1v1h-1zM1488 713h1v1h-1zM1493 713h1v1h-1zM1498 713h1v1h-1zM1503 713h1v1h-1zM1508 713h1v1h-1zM1513 713h1v1h-1zM1518 713h1v1h-1zM1523 713h1v1h-1zM1528 713h1v1h-1zM1533 713h1v1h-1zM1538 713h1v1h-1zM1543 713h1v1h-1zM1548 713h1v1h-1zM1553 713h1v1h-1zM1558 713h1v1h-1zM1563 713h1v1h-1zM1568 713h1v1h-1zM1573 713h1v1h-1zM1578 713h1v1h-1zM1583 713h1v1h-1zM1588 713h1v1h-1zM1593 713h1v1h-1zM1598 713h1v1h-1zM1603 713h1v1h-1zM1608 713h1v1h-1zM1613 713h1v1h-1zM1618 713h1v1h-1zM1623 713h1v1h-1zM1628 713h1v1h-1zM1633 713h1v1h-1zM1638 713h1v1h-1zM1643 713h1v1h-1zM1648 713h1v1h-1zM1653 713h1v1h-1zM1658 713h1v1h-1zM1663 713h1v1h-1zM1668 713h1v1h-1zM1673 713h1v1h-1zM1678 713h1v1h-1zM1683 713h1v1h-1zM1688 713h1v1h-1zM1693 713h1v1h-1zM1698 713h1v1h-1zM1703 713h1v1h-1zM1708 713h1v1h-1zM248 816h1v1h-1zM253 816h1v1h-1zM258 816h1v1h-1zM263 816h1v1h-1zM268 816h1v1h-1zM273 816h1v1h-1zM278 816h1v1h-1zM283 816h1v1h-1zM288 816h1v1h-1zM293 816h1v1h-1zM298 816h1v1h-1zM303 816h1v1h-1zM308 816h1v1h-1zM313 816h1v1h-1zM318 816h1v1h-1zM323 816h1v1h-1zM328 816h1v1h-1zM333 816h1v1h-1zM338 816h1v1h-1zM343 816h1v1h-1zM348 816h1v1h-1zM353 816h1v1h-1zM358 816h1v1h-1zM363 816h1v1h-1zM368 816h1v1h-1zM373 816h1v1h-1zM378 816h1v1h-1zM383 816h1v1h-1zM388 816h1v1h-1zM393 816h1v1h-1zM398 816h1v1h-1zM403 816h1v1h-1zM408 816h1v1h-1zM413 816h1v1h-1zM418 816h1v1h-1zM423 816h1v1h-1zM428 816h1v1h-1zM433 816h1v1h-1zM438 816h1v1h-1zM443 816h1v1h-1zM448 816h1v1h-1zM453 816h1v1h-1zM458 816h1v1h-1zM463 816h1v1h-1zM468 816h1v1h-1zM473 816h1v1h-1zM478 816h1v1h-1zM483 816h1v1h-1zM488 816h1v1h-1zM493 816h1v1h-1zM498 816h1v1h-1zM503 816h1v1h-1zM508 816h1v1h-1zM513 816h1v1h-1zM518 816h1v1h-1zM523 816h1v1h-1zM528 816h1v1h-1zM533 816h1v1h-1zM538 816h1v1h-1zM543 816h1v1h-1zM548 816h1v1h-1zM553 816h1v1h-1zM558 816h1v1h-1zM563 816h1v1h-1zM568 816h1v1h-1zM573 816h1v1h-1zM578 816h1v1h-1zM583 816h1v1h-1zM588 816h1v1h-1zM593 816h1v1h-1zM598 816h1v1h-1zM603 816h1v1h-1zM608 816h1v1h-1zM613 816h1v1h-1zM618 816h1v1h-1zM623 816h1v1h-1zM628 816h1v1h-1zM633 816h1v1h-1zM638 816h1v1h-1zM643 816h1v1h-1zM648 816h1v1h-1zM653 816h1v1h-1zM658 816h1v1h-1zM663 816h1v1h-1zM668 816h1v1h-1zM673 816h1v1h-1zM678 816h1v1h-1zM683 816h1v1h-1zM688 816h1v1h-1zM693 816h1v1h-1zM698 816h1v1h-1zM703 816h1v1h-1zM708 816h1v1h-1zM713 816h1v1h-1zM718 816h1v1h-1zM723 816h1v1h-1zM728 816h1v1h-1zM733 816h1v1h-1zM738 816h1v1h-1zM743 816h1v1h-1zM748 816h1v1h-1zM753 816h1v1h-1zM758 816h1v1h-1zM763 816h1v1h-1zM768 816h1v1h-1zM773 816h1v1h-1zM778 816h1v1h-1zM783 816h1v1h-1zM788 816h1v1h-1zM793 816h1v1h-1zM798 816h1v1h-1zM803 816h1v1h-1zM808 816h1v1h-1zM813 816h1v1h-1zM818 816h1v1h-1zM823 816h1v1h-1zM828 816h1v1h-1zM833 816h1v1h-1zM838 816h1v1h-1zM843 816h1v1h-1zM848 816h1v1h-1zM853 816h1v1h-1zM858 816h1v1h-1zM863 816h1v1h-1zM868 816h1v1h-1zM873 816h1v1h-1zM878 816h1v1h-1zM883 816h1v1h-1zM888 816h1v1h-1zM893 816h1v1h-1zM898 816h1v1h-1zM903 816h1v1h-1zM908 816h1v1h-1zM913 816h1v1h-1zM918 816h1v1h-1zM923 816h1v1h-1zM928 816h1v1h-1zM933 816h1v1h-1zM938 816h1v1h-1zM943 816h1v1h-1zM948 816h1v1h-1zM953 816h1v1h-1zM958 816h1v1h-1zM963 816h1v1h-1zM968 816h1v1h-1zM973 816h1v1h-1zM978 816h1v1h-1zM983 816h1v1h-1zM988 816h1v1h-1zM993 816h1v1h-1zM998 816h1v1h-1zM1003 816h1v1h-1zM1008 816h1v1h-1zM1013 816h1v1h-1zM1018 816h1v1h-1zM1023 816h1v1h-1zM1028 816h1v1h-1zM1033 816h1v1h-1zM1038 816h1v1h-1zM1043 816h1v1h-1zM1048 816h1v1h-1zM1053 816h1v1h-1zM1058 816h1v1h-1zM1063 816h1v1h-1zM1068 816h1v1h-1zM1073 816h1v1h-1zM1078 816h1v1h-1zM1083 816h1v1h-1zM1088 816h1v1h-1zM1093 816h1v1h-1zM1098 816h1v1h-1zM1103 816h1v1h-1zM1108 816h1v1h-1zM1113 816h1v1h-1zM1118 816h1v1h-1zM1123 816h1v1h-1zM1128 816h1v1h-1zM1133 816h1v1h-1zM1138 816h1v1h-1zM1143 816h1v1h-1zM1148 816h1v1h-1zM1153 816h1v1h-1zM1158 816h1v1h-1zM1163 816h1v1h-1zM1168 816h1v1h-1zM1173 816h1v1h-1zM1178 816h1v1h-1zM1183 816h1v1h-1zM1188 816h1v1h-1zM1193 816h1v1h-1zM1198 816h1v1h-1zM1203 816h1v1h-1zM1208 816h1v1h-1zM1213 816h1v1h-1zM1218 816h1v1h-1zM1223 816h1v1h-1zM1228 816h1v1h-1zM1233 816h1v1h-1zM1238 816h1v1h-1zM1243 816h1v1h-1zM1248 816h1v1h-1zM1253 816h1v1h-1zM1258 816h1v1h-1zM1263 816h1v1h-1zM1268 816h1v1h-1zM1273 816h1v1h-1zM1278 816h1v1h-1zM1283 816h1v1h-1zM1288 816h1v1h-1zM1293 816h1v1h-1zM1298 816h1v1h-1zM1303 816h1v1h-1zM1308 816h1v1h-1zM1313 816h1v1h-1zM1318 816h1v1h-1zM1323 816h1v1h-1zM1328 816h1v1h-1zM1333 816h1v1h-1zM1338 816h1v1h-1zM1343 816h1v1h-1zM1348 816h1v1h-1zM1353 816h1v1h-1zM1358 816h1v1h-1zM1363 816h1v1h-1zM1368 816h1v1h-1zM1373 816h1v1h-1zM1378 816h1v1h-1zM1383 816h1v1h-1zM1388 816h1v1h-1zM1393 816h1v1h-1zM1398 816h1v1h-1zM1403 816h1v1h-1zM1408 816h1v1h-1zM1413 816h1v1h-1zM1418 816h1v1h-1zM1423 816h1v1h-1zM1428 816h1v1h-1zM1433 816h1v1h-1zM1438 816h1v1h-1zM1443 816h1v1h-1zM1448 816h1v1h-1zM1453 816h1v1h-1zM1458 816h1v1h-1zM1463 816h1v1h-1zM1468 816h1v1h-1zM1473 816h1v1h-1zM1478 816h1v1h-1zM1483 816h1v1h-1zM1488 816h1v1h-1zM1493 816h1v1h-1zM1498 816h1v1h-1zM1503 816h1v1h-1zM1508 816h1v1h-1zM1513 816h1v1h-1zM1518 816h1v1h-1zM1523 816h1v1h-1zM1528 816h1v1h-1zM1533 816h1v1h-1zM1538 816h1v1h-1zM1543 816h1v1h-1zM1548 816h1v1h-1zM1553 816h1v1h-1zM1558 816h1v1h-1zM1563 816h1v1h-1zM1568 816h1v1h-1zM1573 816h1v1h-1zM1578 816h1v1h-1zM1583 816h1v1h-1zM1588 816h1v1h-1zM1593 816h1v1h-1zM1598 816h1v1h-1zM1603 816h1v1h-1zM1608 816h1v1h-1zM1613 816h1v1h-1zM1618 816h1v1h-1zM1623 816h1v1h-1zM1628 816h1v1h-1zM1633 816h1v1h-1zM1638 816h1v1h-1zM1643 816h1v1h-1zM1648 816h1v1h-1zM1653 816h1v1h-1zM1658 816h1v1h-1zM1663 816h1v1h-1zM1668 816h1v1h-1zM1673 816h1v1h-1zM1678 816h1v1h-1zM1683 816h1v1h-1zM1688 816h1v1h-1zM1693 816h1v1h-1zM1698 816h1v1h-1zM1703 816h1v1h-1zM1708 816h1v1h-1zM248 918h1v1h-1zM253 918h1v1h-1zM258 918h1v1h-1zM263 918h1v1h-1zM268 918h1v1h-1zM273 918h1v1h-1zM278 918h1v1h-1zM283 918h1v1h-1zM288 918h1v1h-1zM293 918h1v1h-1zM298 918h1v1h-1zM303 918h1v1h-1zM308 918h1v1h-1zM313 918h1v1h-1zM318 918h1v1h-1zM323 918h1v1h-1zM328 918h1v1h-1zM333 918h1v1h-1zM338 918h1v1h-1zM343 918h1v1h-1zM348 918h1v1h-1zM353 918h1v1h-1zM358 918h1v1h-1zM363 918h1v1h-1zM368 918h1v1h-1zM373 918h1v1h-1zM378 918h1v1h-1zM383 918h1v1h-1zM388 918h1v1h-1zM393 918h1v1h-1zM398 918h1v1h-1zM403 918h1v1h-1zM408 918h1v1h-1zM413 918h1v1h-1zM418 918h1v1h-1zM423 918h1v1h-1zM428 918h1v1h-1zM433 918h1v1h-1zM438 918h1v1h-1zM443 918h1v1h-1zM448 918h1v1h-1zM453 918h1v1h-1zM458 918h1v1h-1zM463 918h1v1h-1zM468 918h1v1h-1zM473 918h1v1h-1zM478 918h1v1h-1zM483 918h1v1h-1zM488 918h1v1h-1zM493 918h1v1h-1zM498 918h1v1h-1zM503 918h1v1h-1zM508 918h1v1h-1zM513 918h1v1h-1zM518 918h1v1h-1zM523 918h1v1h-1zM528 918h1v1h-1zM533 918h1v1h-1zM538 918h1v1h-1zM543 918h1v1h-1zM548 918h1v1h-1zM553 918h1v1h-1zM558 918h1v1h-1zM563 918h1v1h-1zM568 918h1v1h-1zM573 918h1v1h-1zM578 918h1v1h-1zM583 918h1v1h-1zM588 918h1v1h-1zM593 918h1v1h-1zM598 918h1v1h-1zM603 918h1v1h-1zM608 918h1v1h-1zM613 918h1v1h-1zM618 918h1v1h-1zM623 918h1v1h-1zM628 918h1v1h-1zM633 918h1v1h-1zM638 918h1v1h-1zM643 918h1v1h-1zM648 918h1v1h-1zM653 918h1v1h-1zM658 918h1v1h-1zM663 918h1v1h-1zM668 918h1v1h-1zM673 918h1v1h-1zM678 918h1v1h-1zM683 918h1v1h-1zM688 918h1v1h-1zM693 918h1v1h-1zM698 918h1v1h-1zM703 918h1v1h-1zM708 918h1v1h-1zM713 918h1v1h-1zM718 918h1v1h-1zM723 918h1v1h-1zM728 918h1v1h-1zM733 918h1v1h-1zM738 918h1v1h-1zM743 918h1v1h-1zM748 918h1v1h-1zM753 918h1v1h-1zM758 918h1v1h-1zM763 918h1v1h-1zM768 918h1v1h-1zM773 918h1v1h-1zM778 918h1v1h-1zM783 918h1v1h-1zM788 918h1v1h-1zM793 918h1v1h-1zM798 918h1v1h-1zM803 918h1v1h-1zM808 918h1v1h-1zM813 918h1v1h-1zM818 918h1v1h-1zM823 918h1v1h-1zM828 918h1v1h-1zM833 918h1v1h-1zM838 918h1v1h-1zM843 918h1v1h-1zM848 918h1v1h-1zM853 918h1v1h-1zM858 918h1v1h-1zM863 918h1v1h-1zM868 918h1v1h-1zM873 918h1v1h-1zM878 918h1v1h-1zM883 918h1v1h-1zM888 918h1v1h-1zM893 918h1v1h-1zM898 918h1v1h-1zM903 918h1v1h-1zM908 918h1v1h-1zM913 918h1v1h-1zM918 918h1v1h-1zM923 918h1v1h-1zM928 918h1v1h-1zM933 918h1v1h-1zM938 918h1v1h-1zM943 918h1v1h-1zM948 918h1v1h-1zM953 918h1v1h-1zM958 918h1v1h-1zM963 918h1v1h-1zM968 918h1v1h-1zM973 918h1v1h-1zM978 918h1v1h-1zM983 918h1v1h-1zM988 918h1v1h-1zM993 918h1v1h-1zM998 918h1v1h-1zM1003 918h1v1h-1zM1008 918h1v1h-1zM1013 918h1v1h-1zM1018 918h1v1h-1zM1023 918h1v1h-1zM1028 918h1v1h-1zM1033 918h1v1h-1zM1038 918h1v1h-1zM1043 918h1v1h-1zM1048 918h1v1h-1zM1053 918h1v1h-1zM1058 918h1v1h-1zM1063 918h1v1h-1zM1068 918h1v1h-1zM1073 918h1v1h-1zM1078 918h1v1h-1zM1083 918h1v1h-1zM1088 918h1v1h-1zM1093 918h1v1h-1zM1098 918h1v1h-1zM1103 918h1v1h-1zM1108 918h1v1h-1zM1113 918h1v1h-1zM1118 918h1v1h-1zM1123 918h1v1h-1zM1128 918h1v1h-1zM1133 918h1v1h-1zM1138 918h1v1h-1zM1143 918h1v1h-1zM1148 918h1v1h-1zM1153 918h1v1h-1zM1158 918h1v1h-1zM1163 918h1v1h-1zM1168 918h1v1h-1zM1173 918h1v1h-1zM1178 918h1v1h-1zM1183 918h1v1h-1zM1188 918h1v1h-1zM1193 918h1v1h-1zM1198 918h1v1h-1zM1203 918h1v1h-1zM1208 918h1v1h-1zM1213 918h1v1h-1zM1218 918h1v1h-1zM1223 918h1v1h-1zM1228 918h1v1h-1zM1233 918h1v1h-1zM1238 918h1v1h-1zM1243 918h1v1h-1zM1248 918h1v1h-1zM1253 918h1v1h-1zM1258 918h1v1h-1zM1263 918h1v1h-1zM1268 918h1v1h-1zM1273 918h1v1h-1zM1278 918h1v1h-1zM1283 918h1v1h-1zM1288 918h1v1h-1zM1293 918h1v1h-1zM1298 918h1v1h-1zM1303 918h1v1h-1zM1308 918h1v1h-1zM1313 918h1v1h-1zM1318 918h1v1h-1zM1323 918h1v1h-1zM1328 918h1v1h-1zM1333 918h1v1h-1zM1338 918h1v1h-1zM1343 918h1v1h-1zM1348 918h1v1h-1zM1353 918h1v1h-1zM1358 918h1v1h-1zM1363 918h1v1h-1zM1368 918h1v1h-1zM1373 918h1v1h-1zM1378 918h1v1h-1zM1383 918h1v1h-1zM1388 918h1v1h-1zM1393 918h1v1h-1zM1398 918h1v1h-1zM1403 918h1v1h-1zM1408 918h1v1h-1zM1413 918h1v1h-1zM1418 918h1v1h-1zM1423 918h1v1h-1zM1428 918h1v1h-1zM1433 918h1v1h-1zM1438 918h1v1h-1zM1443 918h1v1h-1zM1448 918h1v1h-1zM1453 918h1v1h-1zM1458 918h1v1h-1zM1463 918h1v1h-1zM1468 918h1v1h-1zM1473 918h1v1h-1zM1478 918h1v1h-1zM1483 918h1v1h-1zM1488 918h1v1h-1zM1493 918h1v1h-1zM1498 918h1v1h-1zM1503 918h1v1h-1zM1508 918h1v1h-1zM1513 918h1v1h-1zM1518 918h1v1h-1zM1523 918h1v1h-1zM1528 918h1v1h-1zM1533 918h1v1h-1zM1538 918h1v1h-1zM1543 918h1v1h-1zM1548 918h1v1h-1zM1553 918h1v1h-1zM1558 918h1v1h-1zM1563 918h1v1h-1zM1568 918h1v1h-1zM1573 918h1v1h-1zM1578 918h1v1h-1zM1583 918h1v1h-1zM1588 918h1v1h-1zM1593 918h1v1h-1zM1598 918h1v1h-1zM1603 918h1v1h-1zM1608 918h1v1h-1zM1613 918h1v1h-1zM1618 918h1v1h-1zM1623 918h1v1h-1zM1628 918h1v1h-1zM1633 918h1v1h-1zM1638 918h1v1h-1zM1643 918h1v1h-1zM1648 918h1v1h-1zM1653 918h1v1h-1zM1658 918h1v1h-1zM1663 918h1v1h-1zM1668 918h1v1h-1zM1673 918h1v1h-1zM1678 918h1v1h-1zM1683 918h1v1h-1zM1688 918h1v1h-1zM1693 918h1v1h-1zM1698 918h1v1h-1zM1703 918h1v1h-1zM1708 918h1v1h-1zM248 1020h1v1h-1zM253 1020h1v1h-1zM258 1020h1v1h-1zM263 1020h1v1h-1zM268 1020h1v1h-1zM273 1020h1v1h-1zM278 1020h1v1h-1zM283 1020h1v1h-1zM288 1020h1v1h-1zM293 1020h1v1h-1zM298 1020h1v1h-1zM303 1020h1v1h-1zM308 1020h1v1h-1zM313 1020h1v1h-1zM318 1020h1v1h-1zM323 1020h1v1h-1zM328 1020h1v1h-1zM333 1020h1v1h-1zM338 1020h1v1h-1zM343 1020h1v1h-1zM348 1020h1v1h-1zM353 1020h1v1h-1zM358 1020h1v1h-1zM363 1020h1v1h-1zM368 1020h1v1h-1zM373 1020h1v1h-1zM378 1020h1v1h-1zM383 1020h1v1h-1zM388 1020h1v1h-1zM393 1020h1v1h-1zM398 1020h1v1h-1zM403 1020h1v1h-1zM408 1020h1v1h-1zM413 1020h1v1h-1zM418 1020h1v1h-1zM423 1020h1v1h-1zM428 1020h1v1h-1zM433 1020h1v1h-1zM438 1020h1v1h-1zM443 1020h1v1h-1zM448 1020h1v1h-1zM453 1020h1v1h-1zM458 1020h1v1h-1zM463 1020h1v1h-1zM468 1020h1v1h-1zM473 1020h1v1h-1zM478 1020h1v1h-1zM483 1020h1v1h-1zM488 1020h1v1h-1zM493 1020h1v1h-1zM498 1020h1v1h-1zM503 1020h1v1h-1zM508 1020h1v1h-1zM513 1020h1v1h-1zM518 1020h1v1h-1zM523 1020h1v1h-1zM528 1020h1v1h-1zM533 1020h1v1h-1zM538 1020h1v1h-1zM543 1020h1v1h-1zM548 1020h1v1h-1zM553 1020h1v1h-1zM558 1020h1v1h-1zM563 1020h1v1h-1zM568 1020h1v1h-1zM573 1020h1v1h-1zM578 1020h1v1h-1zM583 1020h1v1h-1zM588 1020h1v1h-1zM593 1020h1v1h-1zM598 1020h1v1h-1zM603 1020h1v1h-1zM608 1020h1v1h-1zM613 1020h1v1h-1zM618 1020h1v1h-1zM623 1020h1v1h-1zM628 1020h1v1h-1zM633 1020h1v1h-1zM638 1020h1v1h-1zM643 1020h1v1h-1zM648 1020h1v1h-1zM653 1020h1v1h-1zM658 1020h1v1h-1zM663 1020h1v1h-1zM668 1020h1v1h-1zM673 1020h1v1h-1zM678 1020h1v1h-1zM683 1020h1v1h-1zM688 1020h1v1h-1zM693 1020h1v1h-1zM698 1020h1v1h-1zM703 1020h1v1h-1zM708 1020h1v1h-1zM713 1020h1v1h-1zM718 1020h1v1h-1zM723 1020h1v1h-1zM728 1020h1v1h-1zM733 1020h1v1h-1zM738 1020h1v1h-1zM743 1020h1v1h-1zM748 1020h1v1h-1zM753 1020h1v1h-1zM758 1020h1v1h-1zM763 1020h1v1h-1zM768 1020h1v1h-1zM773 1020h1v1h-1zM778 1020h1v1h-1zM783 1020h1v1h-1zM788 1020h1v1h-1zM793 1020h1v1h-1zM798 1020h1v1h-1zM803 1020h1v1h-1zM808 1020h1v1h-1zM813 1020h1v1h-1zM818 1020h1v1h-1zM823 1020h1v1h-1zM828 1020h1v1h-1zM833 1020h1v1h-1zM838 1020h1v1h-1zM843 1020h1v1h-1zM848 1020h1v1h-1zM853 1020h1v1h-1zM858 1020h1v1h-1zM863 1020h1v1h-1zM868 1020h1v1h-1zM873 1020h1v1h-1zM878 1020h1v1h-1zM883 1020h1v1h-1zM888 1020h1v1h-1zM893 1020h1v1h-1zM898 1020h1v1h-1zM903 1020h1v1h-1zM908 1020h1v1h-1zM913 1020h1v1h-1zM918 1020h1v1h-1zM923 1020h1v1h-1zM928 1020h1v1h-1zM933 1020h1v1h-1zM938 1020h1v1h-1zM943 1020h1v1h-1zM948 1020h1v1h-1zM953 1020h1v1h-1zM958 1020h1v1h-1zM963 1020h1v1h-1zM968 1020h1v1h-1zM973 1020h1v1h-1zM978 1020h1v1h-1zM983 1020h1v1h-1zM988 1020h1v1h-1zM993 1020h1v1h-1zM998 1020h1v1h-1zM1003 1020h1v1h-1zM1008 1020h1v1h-1zM1013 1020h1v1h-1zM1018 1020h1v1h-1zM1023 1020h1v1h-1zM1028 1020h1v1h-1zM1033 1020h1v1h-1zM1038 1020h1v1h-1zM1043 1020h1v1h-1zM1048 1020h1v1h-1zM1053 1020h1v1h-1zM1058 1020h1v1h-1zM1063 1020h1v1h-1zM1068 1020h1v1h-1zM1073 1020h1v1h-1zM1078 1020h1v1h-1zM1083 1020h1v1h-1zM1088 1020h1v1h-1zM1093 1020h1v1h-1zM1098 1020h1v1h-1zM1103 1020h1v1h-1zM1108 1020h1v1h-1zM1113 1020h1v1h-1zM1118 1020h1v1h-1zM1123 1020h1v1h-1zM1128 1020h1v1h-1zM1133 1020h1v1h-1zM1138 1020h1v1h-1zM1143 1020h1v1h-1zM1148 1020h1v1h-1zM1153 1020h1v1h-1zM1158 1020h1v1h-1zM1163 1020h1v1h-1zM1168 1020h1v1h-1zM1173 1020h1v1h-1zM1178 1020h1v1h-1zM1183 1020h1v1h-1zM1188 1020h1v1h-1zM1193 1020h1v1h-1zM1198 1020h1v1h-1zM1203 1020h1v1h-1zM1208 1020h1v1h-1zM1213 1020h1v1h-1zM1218 1020h1v1h-1zM1223 1020h1v1h-1zM1228 1020h1v1h-1zM1233 1020h1v1h-1zM1238 1020h1v1h-1zM1243 1020h1v1h-1zM1248 1020h1v1h-1zM1253 1020h1v1h-1zM1258 1020h1v1h-1zM1263 1020h1v1h-1zM1268 1020h1v1h-1zM1273 1020h1v1h-1zM1278 1020h1v1h-1zM1283 1020h1v1h-1zM1288 1020h1v1h-1zM1293 1020h1v1h-1zM1298 1020h1v1h-1zM1303 1020h1v1h-1zM1308 1020h1v1h-1zM1313 1020h1v1h-1zM1318 1020h1v1h-1zM1323 1020h1v1h-1zM1328 1020h1v1h-1zM1333 1020h1v1h-1zM1338 1020h1v1h-1zM1343 1020h1v1h-1zM1348 1020h1v1h-1zM1353 1020h1v1h-1zM1358 1020h1v1h-1zM1363 1020h1v1h-1zM1368 1020h1v1h-1zM1373 1020h1v1h-1zM1378 1020h1v1h-1zM1383 1020h1v1h-1zM1388 1020h1v1h-1zM1393 1020h1v1h-1zM1398 1020h1v1h-1zM1403 1020h1v1h-1zM1408 1020h1v1h-1zM1413 1020h1v1h-1zM1418 1020h1v1h-1zM1423 1020h1v1h-1zM1428 1020h1v1h-1zM1433 1020h1v1h-1zM1438 1020h1v1h-1zM1443 1020h1v1h-1zM1448 1020h1v1h-1zM1453 1020h1v1h-1zM1458 1020h1v1h-1zM1463 1020h1v1h-1zM1468 1020h1v1h-1zM1473 1020h1v1h-1zM1478 1020h1v1h-1zM1483 1020h1v1h-1zM1488 1020h1v1h-1zM1493 1020h1v1h-1zM1498 1020h1v1h-1zM1503 1020h1v1h-1zM1508 1020h1v1h-1zM1513 1020h1v1h-1zM1518 1020h1v1h-1zM1523 1020h1v1h-1zM1528 1020h1v1h-1zM1533 1020h1v1h-1zM1538 1020h1v1h-1zM1543 1020h1v1h-1zM1548 1020h1v1h-1zM1553 1020h1v1h-1zM1558 1020h1v1h-1zM1563 1020h1v1h-1zM1568 1020h1v1h-1zM1573 1020h1v1h-1zM1578 1020h1v1h-1zM1583 1020h1v1h-1zM1588 1020h1v1h-1zM1593 1020h1v1h-1zM1598 1020h1v1h-1zM1603 1020h1v1h-1zM1608 1020h1v1h-1zM1613 1020h1v1h-1zM1618 1020h1v1h-1zM1623 1020h1v1h-1zM1628 1020h1v1h-1zM1633 1020h1v1h-1zM1638 1020h1v1h-1zM1643 1020h1v1h-1zM1648 1020h1v1h-1zM1653 1020h1v1h-1zM1658 1020h1v1h-1zM1663 1020h1v1h-1zM1668 1020h1v1h-1zM1673 1020h1v1h-1zM1678 1020h1v1h-1zM1683 1020h1v1h-1zM1688 1020h1v1h-1zM1693 1020h1v1h-1zM1698 1020h1v1h-1zM1703 1020h1v1h-1zM1708 1020h1v1h-1zM248 1123h1v1h-1zM253 1123h1v1h-1zM258 1123h1v1h-1zM263 1123h1v1h-1zM268 1123h1v1h-1zM273 1123h1v1h-1zM278 1123h1v1h-1zM283 1123h1v1h-1zM288 1123h1v1h-1zM293 1123h1v1h-1zM298 1123h1v1h-1zM303 1123h1v1h-1zM308 1123h1v1h-1zM313 1123h1v1h-1zM318 1123h1v1h-1zM323 1123h1v1h-1zM328 1123h1v1h-1zM333 1123h1v1h-1zM338 1123h1v1h-1zM343 1123h1v1h-1zM348 1123h1v1h-1zM353 1123h1v1h-1zM358 1123h1v1h-1zM363 1123h1v1h-1zM368 1123h1v1h-1zM373 1123h1v1h-1zM378 1123h1v1h-1zM383 1123h1v1h-1zM388 1123h1v1h-1zM393 1123h1v1h-1zM398 1123h1v1h-1zM403 1123h1v1h-1zM408 1123h1v1h-1zM413 1123h1v1h-1zM418 1123h1v1h-1zM423 1123h1v1h-1zM428 1123h1v1h-1zM433 1123h1v1h-1zM438 1123h1v1h-1zM443 1123h1v1h-1zM448 1123h1v1h-1zM453 1123h1v1h-1zM458 1123h1v1h-1zM463 1123h1v1h-1zM468 1123h1v1h-1zM473 1123h1v1h-1zM478 1123h1v1h-1zM483 1123h1v1h-1zM488 1123h1v1h-1zM493 1123h1v1h-1zM498 1123h1v1h-1zM503 1123h1v1h-1zM508 1123h1v1h-1zM513 1123h1v1h-1zM518 1123h1v1h-1zM523 1123h1v1h-1zM528 1123h1v1h-1zM533 1123h1v1h-1zM538 1123h1v1h-1zM543 1123h1v1h-1zM548 1123h1v1h-1zM553 1123h1v1h-1zM558 1123h1v1h-1zM563 1123h1v1h-1zM568 1123h1v1h-1zM573 1123h1v1h-1zM578 1123h1v1h-1zM583 1123h1v1h-1zM588 1123h1v1h-1zM593 1123h1v1h-1zM598 1123h1v1h-1zM603 1123h1v1h-1zM608 1123h1v1h-1zM613 1123h1v1h-1zM618 1123h1v1h-1zM623 1123h1v1h-1zM628 1123h1v1h-1zM633 1123h1v1h-1zM638 1123h1v1h-1zM643 1123h1v1h-1zM648 1123h1v1h-1zM653 1123h1v1h-1zM658 1123h1v1h-1zM663 1123h1v1h-1zM668 1123h1v1h-1zM673 1123h1v1h-1zM678 1123h1v1h-1zM683 1123h1v1h-1zM688 1123h1v1h-1zM693 1123h1v1h-1zM698 1123h1v1h-1zM703 1123h1v1h-1zM708 1123h1v1h-1zM713 1123h1v1h-1zM718 1123h1v1h-1zM723 1123h1v1h-1zM728 1123h1v1h-1zM733 1123h1v1h-1zM738 1123h1v1h-1zM743 1123h1v1h-1zM748 1123h1v1h-1zM753 1123h1v1h-1zM758 1123h1v1h-1zM763 1123h1v1h-1zM768 1123h1v1h-1zM773 1123h1v1h-1zM778 1123h1v1h-1zM783 1123h1v1h-1zM788 1123h1v1h-1zM793 1123h1v1h-1zM798 1123h1v1h-1zM803 1123h1v1h-1zM808 1123h1v1h-1zM813 1123h1v1h-1zM818 1123h1v1h-1zM823 1123h1v1h-1zM828 1123h1v1h-1zM833 1123h1v1h-1zM838 1123h1v1h-1zM843 1123h1v1h-1zM848 1123h1v1h-1zM853 1123h1v1h-1zM858 1123h1v1h-1zM863 1123h1v1h-1zM868 1123h1v1h-1zM873 1123h1v1h-1zM878 1123h1v1h-1zM883 1123h1v1h-1zM888 1123h1v1h-1zM893 1123h1v1h-1zM898 1123h1v1h-1zM903 1123h1v1h-1zM908 1123h1v1h-1zM913 1123h1v1h-1zM918 1123h1v1h-1zM923 1123h1v1h-1zM928 1123h1v1h-1zM933 1123h1v1h-1zM938 1123h1v1h-1zM943 1123h1v1h-1zM948 1123h1v1h-1zM953 1123h1v1h-1zM958 1123h1v1h-1zM963 1123h1v1h-1zM968 1123h1v1h-1zM973 1123h1v1h-1zM978 1123h1v1h-1zM983 1123h1v1h-1zM988 1123h1v1h-1zM993 1123h1v1h-1zM998 1123h1v1h-1zM1003 1123h1v1h-1zM1008 1123h1v1h-1zM1013 1123h1v1h-1zM1018 1123h1v1h-1zM1023 1123h1v1h-1zM1028 1123h1v1h-1zM1033 1123h1v1h-1zM1038 1123h1v1h-1zM1043 1123h1v1h-1zM1048 1123h1v1h-1zM1053 1123h1v1h-1zM1058 1123h1v1h-1zM1063 1123h1v1h-1zM1068 1123h1v1h-1zM1073 1123h1v1h-1zM1078 1123h1v1h-1zM1083 1123h1v1h-1zM1088 1123h1v1h-1zM1093 1123h1v1h-1zM1098 1123h1v1h-1zM1103 1123h1v1h-1zM1108 1123h1v1h-1zM1113 1123h1v1h-1zM1118 1123h1v1h-1zM1123 1123h1v1h-1zM1128 1123h1v1h-1zM1133 1123h1v1h-1zM1138 1123h1v1h-1zM1143 1123h1v1h-1zM1148 1123h1v1h-1zM1153 1123h1v1h-1zM1158 1123h1v1h-1zM1163 1123h1v1h-1zM1168 1123h1v1h-1zM1173 1123h1v1h-1zM1178 1123h1v1h-1zM1183 1123h1v1h-1zM1188 1123h1v1h-1zM1193 1123h1v1h-1zM1198 1123h1v1h-1zM1203 1123h1v1h-1zM1208 1123h1v1h-1zM1213 1123h1v1h-1zM1218 1123h1v1h-1zM1223 1123h1v1h-1zM1228 1123h1v1h-1zM1233 1123h1v1h-1zM1238 1123h1v1h-1zM1243 1123h1v1h-1zM1248 1123h1v1h-1zM1253 1123h1v1h-1zM1258 1123h1v1h-1zM1263 1123h1v1h-1zM1268 1123h1v1h-1zM1273 1123h1v1h-1zM1278 1123h1v1h-1zM1283 1123h1v1h-1zM1288 1123h1v1h-1zM1293 1123h1v1h-1zM1298 1123h1v1h-1zM1303 1123h1v1h-1zM1308 1123h1v1h-1zM1313 1123h1v1h-1zM1318 1123h1v1h-1zM1323 1123h1v1h-1zM1328 1123h1v1h-1zM1333 1123h1v1h-1zM1338 1123h1v1h-1zM1343 1123h1v1h-1zM1348 1123h1v1h-1zM1353 1123h1v1h-1zM1358 1123h1v1h-1zM1363 1123h1v1h-1zM1368 1123h1v1h-1zM1373 1123h1v1h-1zM1378 1123h1v1h-1zM1383 1123h1v1h-1zM1388 1123h1v1h-1zM1393 1123h1v1h-1zM1398 1123h1v1h-1zM1403 1123h1v1h-1zM1408 1123h1v1h-1zM1413 1123h1v1h-1zM1418 1123h1v1h-1zM1423 1123h1v1h-1zM1428 1123h1v1h-1zM1433 1123h1v1h-1zM1438 1123h1v1h-1zM1443 1123h1v1h-1zM1448 1123h1v1h-1zM1453 1123h1v1h-1zM1458 1123h1v1h-1zM1463 1123h1v1h-1zM1468 1123h1v1h-1zM1473 1123h1v1h-1zM1478 1123h1v1h-1zM1483 1123h1v1h-1zM1488 1123h1v1h-1zM1493 1123h1v1h-1zM1498 1123h1v1h-1zM1503 1123h1v1h-1zM1508 1123h1v1h-1zM1513 1123h1v1h-1zM1518 1123h1v1h-1zM1523 1123h1v1h-1zM1528 1123h1v1h-1zM1533 1123h1v1h-1zM1538 1123h1v1h-1zM1543 1123h1v1h-1zM1548 1123h1v1h-1zM1553 1123h1v1h-1zM1558 1123h1v1h-1zM1563 1123h1v1h-1zM1568 1123h1v1h-1zM1573 1123h1v1h-1zM1578 1123h1v1h-1zM1583 1123h1v1h-1zM1588 1123h1v1h-1zM1593 1123h1v1h-1zM1598 1123h1v1h-1zM1603 1123h1v1h-1zM1608 1123h1v1h-1zM1613 1123h1v1h-1zM1618 1123h1v1h-1zM1623 1123h1v1h-1zM1628 1123h1v1h-1zM1633 1123h1v1h-1zM1638 1123h1v1h-1zM1643 1123h1v1h-1zM1648 1123h1v1h-1zM1653 1123h1v1h-1zM1658 1123h1v1h-1zM1663 1123h1v1h-1zM1668 1123h1v1h-1zM1673 1123h1v1h-1zM1678 1123h1v1h-1zM1683 1123h1v1h-1zM1688 1123h1v1h-1zM1693 1123h1v1h-1zM1698 1123h1v1h-1zM1703 1123h1v1h-1zM1708 1123h1v1h-1z"/><g font-family="Liberation Sans" fill="#000"><text transform="translate(171.96,69.00) scale(0.9342,1)" font-size="65" >SG524</text><text transform="translate(380.55,69.00) scale(0.9324,1)" font-size="65" >IrishAcoustics,</text><text transform="translate(787.55,69.00) scale(0.9407,1)" font-size="65" >dive</text><text transform="translate(917.17,69.00) scale(0.8521,1)" font-size="65" >11</text><text transform="translate(1002.58,69.00) scale(0.9335,1)" font-size="65" >started</text><text transform="translate(1205.85,69.00) scale(0.9323,1)" font-size="65" >14-Jul-2014</text><text transform="translate(1543.86,69.00) scale(0.9060,1)" font-size="65" >21:22:01</text><text transform="translate(288.97,1164.00) scale(0.9100,1)" font-size="29" >-50</text><text transform="translate(422.15,1164.00) scale(0.9100,1)" font-size="29" >-40</text><text transform="translate(555.33,1164.00) scale(0.9100,1)" font-size="29" >-30</text><text transform="translate(688.51,1164.00) scale(0.9100,1)" font-size="29" >-20</text><text transform="translate(821.69,1164.00) scale(0.9100,1)" font-size="29" >-10</text><text transform="translate(970.61,1164.00) scale(0.9100,1)" font-size="29" >0</text><text transform="translate(1096.01,1164.00) scale(0.9100,1)" font-size="29" >10</text><text transform="translate(1229.58,1164.00) scale(0.9100,1)" font-size="29" >20</text><text transform="translate(1362.89,1164.00) scale(0.9100,1)" font-size="29" >30</text><text transform="translate(1496.34,1164.00) scale(0.9100,1)" font-size="29" >40</text><text transform="translate(1629.25,1164.00) scale(0.9100,1)" font-size="29" >50</text><text transform="translate(200.09,113.00) scale(0.9300,1)" font-size="29" >2.5</text><text transform="translate(222.75,215.00) scale(0.9300,1)" font-size="29" >2</text><text transform="translate(200.09,317.00) scale(0.9300,1)" font-size="29" >1.5</text><text transform="translate(222.75,419.00) scale(0.9300,1)" font-size="29" >1</text><text transform="translate(200.09,522.00) scale(0.9300,1)" font-size="29" >0.5</text><text transform="translate(222.48,624.00) scale(0.9300,1)" font-size="29" >0</text><text transform="translate(191.19,726.00) scale(0.9300,1)" font-size="29" >-0.5</text><text transform="translate(213.85,829.00) scale(0.9300,1)" font-size="29" >-1</text><text transform="translate(191.19,931.00) scale(0.9300,1)" font-size="29" >-1.5</text><text transform="translate(213.85,1033.00) scale(0.9300,1)" font-size="29" >-2</text><text transform="translate(191.19,1136.00) scale(0.9300,1)" font-size="29" >-2.5</text><text transform="translate(814.10,1221.00) scale(0.9174,1)" font-size="54.5" >Roll</text><text transform="translate(914.58,1221.00) scale(0.9263,1)" font-size="54.5" >Control</text><text transform="translate(1091.30,1221.00) scale(0.8569,1)" font-size="54.5" >(<tspan stroke="#fff" stroke-width="0.9">°</tspan>)</text><text transform="translate(169,991.71) rotate(-90) scale(0.9257,1)" font-size="54.5">Turn rate (<tspan stroke="#fff" stroke-width="0.9">°</tspan>/s) (starboard positive)</text><text transform="translate(524.98,266.50) scale(0.9200,1)" font-size="44" >C</text><text transform="translate(554.21,245.50) scale(0.9784,1)" font-size="33" >dive</text><text transform="translate(554.73,285.50) scale(0.9848,1)" font-size="33" >roll</text><text transform="translate(624.98,267.00) scale(0.9167,1)" font-size="44" ><tspan dy="4">=</tspan><tspan dy="-4"> 1620</tspan></text><text transform="translate(817.98,266.50) scale(0.9200,1)" font-size="44" >C</text><text transform="translate(846.70,245.50) scale(0.9832,1)" font-size="33" >climb</text><text transform="translate(847.30,285.50) scale(0.9949,1)" font-size="33" >roll</text><text transform="translate(933.48,267.00) scale(0.9205,1)" font-size="44" ><tspan dy="4">=</tspan><tspan dy="-4"> 1550</tspan></text><text transform="translate(392.86,331.00) scale(0.9200,1)" font-size="44" >Implied</text><text transform="translate(535.98,331.00) scale(0.9200,1)" font-size="44" >C</text><text transform="translate(564.69,310.00) scale(0.9922,1)" font-size="33" >dive</text><text transform="translate(564.96,350.00) scale(1.0126,1)" font-size="33" >roll</text><text transform="translate(635.78,331.00) scale(0.9174,1)" font-size="44" ><tspan dy="4">=</tspan><tspan dy="-4"> 1976.24</tspan></text><text transform="translate(885.98,331.00) scale(0.9200,1)" font-size="44" >C</text><text transform="translate(914.80,310.00) scale(0.9832,1)" font-size="33" >climb</text><text transform="translate(915.61,350.00) scale(0.9899,1)" font-size="33" >roll</text><text transform="translate(1001.83,331.00) scale(0.8956,1)" font-size="44" ><tspan dy="4">=</tspan><tspan dy="-4"> 1724.91</tspan></text><text transform="translate(393.40,405.50) scale(0.9261,1)" font-size="44" >Assumed roll control gain <tspan dy="4">=</tspan><tspan dy="-4"> 35.37 (counts/<tspan stroke="#fff" stroke-width="0.9">°</tspan> to stbd)</tspan></text></g><path fill="#0000ff" d="M469 413h1v1h1v1h1v1h-1v1h-1v1h-1v-1h-1v-1h-1v-1h1v-1h1zM469 418h1v1h1v1h1v1h-1v1h-1v1h-1v-1h-1v-1h-1v-1h1v-1h1zM469 424h1v1h1v1h1v1h-1v1h-1v1h-1v-1h-1v-1h-1v-1h1v-1h1zM469 427h1v1h1v1h1v1h-1v1h-1v1h-1v-1h-1v-1h-1v-1h1v-1h1zM469 439h1v1h1v1h1v1h-1v1h-1v1h-1v-1h-1v-1h-1v-1h1v-1h1zM469 453h1v1h1v1h1v1h-1v1h-1v1h-1v-1h-1v-1h-1v-1h1v-1h1zM469 471h1v1h1v1h1v1h-1v1h-1v1h-1v-1h-1v-1h-1v-1h1v-1h1zM469 484h1v1h1v1h1v1h-1v1h-1v1h-1v-1h-1v-1h-1v-1h1v-1h1zM469 491h1v1h1v1h1v1h-1v1h-1v1h-1v-1h-1v-1h-1v-1h1v-1h1zM469 505h1v1h1v1h1v1h-1v1h-1v1h-1v-1h-1v-1h-1v-1h1v-1h1zM469 507h1v1h1v1h1v1h-1v1h-1v1h-1v-1h-1v-1h-1v-1h1v-1h1zM469 509h1v1h1v1h1v1h-1v1h-1v1h-1v-1h-1v-1h-1v-1h1v-1h1zM469 512h1v1h1v1h1v1h-1v1h-1v1h-1v-1h-1v-1h-1v-1h1v-1h1zM469 517h1v1h1v1h1v1h-1v1h-1v1h-1v-1h-1v-1h-1v-1h1v-1h1zM469 519h1v1h1v1h1v1h-1v1h-1v1h-1v-1h-1v-1h-1v-1h1v-1h1zM469 523h1v1h1v1h1v1h-1v1h-1v1h-1v-1h-1v-1h-1v-1h1v-1h1zM469 527h1v1h1v1h1v1h-1v1h-1v1h-1v-1h-1v-1h-1v-1h1v-1h1zM469 533h1v1h1v1h1v1h-1v1h-1v1h-1v-1h-1v-1h-1v-1h1v-1h1zM469 539h1v1h1v1h1v1h-1v1h-1v1h-1v-1h-1v-1h-1v-1h1v-1h1zM469 549h1v1h1v1h1v1h-1v1h-1v1h-1v-1h-1v-1h-1v-1h1v-1h1zM469 552h1v1h1v1h1v1h-1v1h-1v1h-1v-1h-1v-1h-1v-1h1v-1h1zM469 556h1v1h1v1h1v1h-1v1h-1v1h-1v-1h-1v-1h-1v-1h1v-1h1zM469 550h1v1h1v1h1v1h-1v1h-1v1h-1v-1h-1v-1h-1v-1h1v-1h1zM469 553h1v1h1v1h1v1h-1v1h-1v1h-1v-1h-1v-1h-1v-1h1v-1h1zM469 557h1v1h1v1h1v1h-1v1h-1v1h-1v-1h-1v-1h-1v-1h1v-1h1zM469 562h1v1h1v1h1v1h-1v1h-1v1h-1v-1h-1v-1h-1v-1h1v-1h1zM469 568h1v1h1v1h1v1h-1v1h-1v1h-1v-1h-1v-1h-1v-1h1v-1h1zM469 570h1v1h1v1h1v1h-1v1h-1v1h-1v-1h-1v-1h-1v-1h1v-1h1zM469 574h1v1h1v1h1v1h-1v1h-1v1h-1v-1h-1v-1h-1v-1h1v-1h1zM469 586h1v1h1v1h1v1h-1v1h-1v1h-1v-1h-1v-1h-1v-1h1v-1h1zM469 591h1v1h1v1h1v1h-1v1h-1v1h-1v-1h-1v-1h-1v-1h1v-1h1zM469 597h1v1h1v1h1v1h-1v1h-1v1h-1v-1h-1v-1h-1v-1h1v-1h1zM469 632h1v1h1v1h1v1h-1v1h-1v1h-1v-1h-1v-1h-1v-1h1v-1h1zM469 636h1v1h1v1h1v1h-1v1h-1v1h-1v-1h-1v-1h-1v-1h1v-1h1zM474 532h1v1h1v1h1v1h-1v1h-1v1h-1v-1h-1v-1h-1v-1h1v-1h1zM952 125h1v1h1v1h1v1h-1v1h-1v1h-1v-1h-1v-1h-1v-1h1v-1h1zM952 156h1v1h1v1h1v1h-1v1h-1v1h-1v-1h-1v-1h-1v-1h1v-1h1zM952 158h1v1h1v1h1v1h-1v1h-1v1h-1v-1h-1v-1h-1v-1h1v-1h1zM952 199h1v1h1v1h1v1h-1v1h-1v1h-1v-1h-1v-1h-1v-1h1v-1h1zM954 198h1v1h1v1h1v1h-1v1h-1v1h-1v-1h-1v-1h-1v-1h1v-1h1zM963 196h1v1h1v1h1v1h-1v1h-1v1h-1v-1h-1v-1h-1v-1h1v-1h1zM952 222h1v1h1v1h1v1h-1v1h-1v1h-1v-1h-1v-1h-1v-1h1v-1h1zM954 227h1v1h1v1h1v1h-1v1h-1v1h-1v-1h-1v-1h-1v-1h1v-1h1zM965 232h1v1h1v1h1v1h-1v1h-1v1h-1v-1h-1v-1h-1v-1h1v-1h1zM944 303h1v1h1v1h1v1h-1v1h-1v1h-1v-1h-1v-1h-1v-1h1v-1h1zM952 303h1v1h1v1h1v1h-1v1h-1v1h-1v-1h-1v-1h-1v-1h1v-1h1zM952 305h1v1h1v1h1v1h-1v1h-1v1h-1v-1h-1v-1h-1v-1h1v-1h1zM952 308h1v1h1v1h1v1h-1v1h-1v1h-1v-1h-1v-1h-1v-1h1v-1h1zM954 312h1v1h1v1h1v1h-1v1h-1v1h-1v-1h-1v-1h-1v-1h1v-1h1zM952 318h1v1h1v1h1v1h-1v1h-1v1h-1v-1h-1v-1h-1v-1h1v-1h1zM943 331h1v1h1v1h1v1h-1v1h-1v1h-1v-1h-1v-1h-1v-1h1v-1h1zM943 345h1v1h1v1h1v1h-1v1h-1v1h-1v-1h-1v-1h-1v-1h1v-1h1zM943 347h1v1h1v1h1v1h-1v1h-1v1h-1v-1h-1v-1h-1v-1h1v-1h1zM943 349h1v1h1v1h1v1h-1v1h-1v1h-1v-1h-1v-1h-1v-1h1v-1h1zM943 351h1v1h1v1h1v1h-1v1h-1v1h-1v-1h-1v-1h-1v-1h1v-1h1zM943 353h1v1h1v1h1v1h-1v1h-1v1h-1v-1h-1v-1h-1v-1h1v-1h1zM943 356h1v1h1v1h1v1h-1v1h-1v1h-1v-1h-1v-1h-1v-1h1v-1h1zM943 362h1v1h1v1h1v1h-1v1h-1v1h-1v-1h-1v-1h-1v-1h1v-1h1zM943 366h1v1h1v1h1v1h-1v1h-1v1h-1v-1h-1v-1h-1v-1h1v-1h1zM943 377h1v1h1v1h1v1h-1v1h-1v1h-1v-1h-1v-1h-1v-1h1v-1h1zM943 385h1v1h1v1h1v1h-1v1h-1v1h-1v-1h-1v-1h-1v-1h1v-1h1zM943 390h1v1h1v1h1v1h-1v1h-1v1h-1v-1h-1v-1h-1v-1h1v-1h1zM943 403h1v1h1v1h1v1h-1v1h-1v1h-1v-1h-1v-1h-1v-1h1v-1h1zM943 423h1v1h1v1h1v1h-1v1h-1v1h-1v-1h-1v-1h-1v-1h1v-1h1zM943 432h1v1h1v1h1v1h-1v1h-1v1h-1v-1h-1v-1h-1v-1h1v-1h1zM943 437h1v1h1v1h1v1h-1v1h-1v1h-1v-1h-1v-1h-1v-1h1v-1h1zM943 443h1v1h1v1h1v1h-1v1h-1v1h-1v-1h-1v-1h-1v-1h1v-1h1zM943 445h1v1h1v1h1v1h-1v1h-1v1h-1v-1h-1v-1h-1v-1h1v-1h1zM943 468h1v1h1v1h1v1h-1v1h-1v1h-1v-1h-1v-1h-1v-1h1v-1h1zM943 472h1v1h1v1h1v1h-1v1h-1v1h-1v-1h-1v-1h-1v-1h1v-1h1zM943 475h1v1h1v1h1v1h-1v1h-1v1h-1v-1h-1v-1h-1v-1h1v-1h1zM952 318h1v1h1v1h1v1h-1v1h-1v1h-1v-1h-1v-1h-1v-1h1v-1h1zM952 330h1v1h1v1h1v1h-1v1h-1v1h-1v-1h-1v-1h-1v-1h1v-1h1zM952 392h1v1h1v1h1v1h-1v1h-1v1h-1v-1h-1v-1h-1v-1h1v-1h1zM952 396h1v1h1v1h1v1h-1v1h-1v1h-1v-1h-1v-1h-1v-1h1v-1h1zM952 398h1v1h1v1h1v1h-1v1h-1v1h-1v-1h-1v-1h-1v-1h1v-1h1zM952 403h1v1h1v1h1v1h-1v1h-1v1h-1v-1h-1v-1h-1v-1h1v-1h1zM952 421h1v1h1v1h1v1h-1v1h-1v1h-1v-1h-1v-1h-1v-1h1v-1h1zM952 435h1v1h1v1h1v1h-1v1h-1v1h-1v-1h-1v-1h-1v-1h1v-1h1zM952 453h1v1h1v1h1v1h-1v1h-1v1h-1v-1h-1v-1h-1v-1h1v-1h1zM952 457h1v1h1v1h1v1h-1v1h-1v1h-1v-1h-1v-1h-1v-1h1v-1h1zM952 473h1v1h1v1h1v1h-1v1h-1v1h-1v-1h-1v-1h-1v-1h1v-1h1zM954 375h1v1h1v1h1v1h-1v1h-1v1h-1v-1h-1v-1h-1v-1h1v-1h1zM954 414h1v1h1v1h1v1h-1v1h-1v1h-1v-1h-1v-1h-1v-1h1v-1h1zM954 437h1v1h1v1h1v1h-1v1h-1v1h-1v-1h-1v-1h-1v-1h1v-1h1zM954 443h1v1h1v1h1v1h-1v1h-1v1h-1v-1h-1v-1h-1v-1h1v-1h1zM954 449h1v1h1v1h1v1h-1v1h-1v1h-1v-1h-1v-1h-1v-1h1v-1h1zM954 459h1v1h1v1h1v1h-1v1h-1v1h-1v-1h-1v-1h-1v-1h1v-1h1zM954 464h1v1h1v1h1v1h-1v1h-1v1h-1v-1h-1v-1h-1v-1h1v-1h1zM965 361h1v1h1v1h1v1h-1v1h-1v1h-1v-1h-1v-1h-1v-1h1v-1h1zM965 370h1v1h1v1h1v1h-1v1h-1v1h-1v-1h-1v-1h-1v-1h1v-1h1zM965 464h1v1h1v1h1v1h-1v1h-1v1h-1v-1h-1v-1h-1v-1h1v-1h1zM943 468h1v1h1v1h1v1h-1v1h-1v1h-1v-1h-1v-1h-1v-1h1v-1h1zM944 470h1v1h1v1h1v1h-1v1h-1v1h-1v-1h-1v-1h-1v-1h1v-1h1zM943 472h1v1h1v1h1v1h-1v1h-1v1h-1v-1h-1v-1h-1v-1h1v-1h1zM944 474h1v1h1v1h1v1h-1v1h-1v1h-1v-1h-1v-1h-1v-1h1v-1h1zM943 476h1v1h1v1h1v1h-1v1h-1v1h-1v-1h-1v-1h-1v-1h1v-1h1zM944 478h1v1h1v1h1v1h-1v1h-1v1h-1v-1h-1v-1h-1v-1h1v-1h1zM943 480h1v1h1v1h1v1h-1v1h-1v1h-1v-1h-1v-1h-1v-1h1v-1h1zM944 482h1v1h1v1h1v1h-1v1h-1v1h-1v-1h-1v-1h-1v-1h1v-1h1zM943 484h1v1h1v1h1v1h-1v1h-1v1h-1v-1h-1v-1h-1v-1h1v-1h1zM944 486h1v1h1v1h1v1h-1v1h-1v1h-1v-1h-1v-1h-1v-1h1v-1h1zM943 488h1v1h1v1h1v1h-1v1h-1v1h-1v-1h-1v-1h-1v-1h1v-1h1zM943 494h1v1h1v1h1v1h-1v1h-1v1h-1v-1h-1v-1h-1v-1h1v-1h1zM944 496h1v1h1v1h1v1h-1v1h-1v1h-1v-1h-1v-1h-1v-1h1v-1h1zM943 498h1v1h1v1h1v1h-1v1h-1v1h-1v-1h-1v-1h-1v-1h1v-1h1zM944 500h1v1h1v1h1v1h-1v1h-1v1h-1v-1h-1v-1h-1v-1h1v-1h1zM943 502h1v1h1v1h1v1h-1v1h-1v1h-1v-1h-1v-1h-1v-1h1v-1h1zM944 504h1v1h1v1h1v1h-1v1h-1v1h-1v-1h-1v-1h-1v-1h1v-1h1zM943 506h1v1h1v1h1v1h-1v1h-1v1h-1v-1h-1v-1h-1v-1h1v-1h1zM944 508h1v1h1v1h1v1h-1v1h-1v1h-1v-1h-1v-1h-1v-1h1v-1h1zM943 510h1v1h1v1h1v1h-1v1h-1v1h-1v-1h-1v-1h-1v-1h1v-1h1zM943 516h1v1h1v1h1v1h-1v1h-1v1h-1v-1h-1v-1h-1v-1h1v-1h1zM944 518h1v1h1v1h1v1h-1v1h-1v1h-1v-1h-1v-1h-1v-1h1v-1h1zM943 520h1v1h1v1h1v1h-1v1h-1v1h-1v-1h-1v-1h-1v-1h1v-1h1zM943 522h1v1h1v1h1v1h-1v1h-1v1h-1v-1h-1v-1h-1v-1h1v-1h1zM944 524h1v1h1v1h1v1h-1v1h-1v1h-1v-1h-1v-1h-1v-1h1v-1h1zM943 526h1v1h1v1h1v1h-1v1h-1v1h-1v-1h-1v-1h-1v-1h1v-1h1zM943 528h1v1h1v1h1v1h-1v1h-1v1h-1v-1h-1v-1h-1v-1h1v-1h1zM944 530h1v1h1v1h1v1h-1v1h-1v1h-1v-1h-1v-1h-1v-1h1v-1h1zM943 532h1v1h1v1h1v1h-1v1h-1v1h-1v-1h-1v-1h-1v-1h1v-1h1zM943 534h1v1h1v1h1v1h-1v1h-1v1h-1v-1h-1v-1h-1v-1h1v-1h1zM944 536h1v1h1v1h1v1h-1v1h-1v1h-1v-1h-1v-1h-1v-1h1v-1h1zM943 538h1v1h1v1h1v1h-1v1h-1v1h-1v-1h-1v-1h-1v-1h1v-1h1zM943 540h1v1h1v1h1v1h-1v1h-1v1h-1v-1h-1v-1h-1v-1h1v-1h1zM944 542h1v1h1v1h1v1h-1v1h-1v1h-1v-1h-1v-1h-1v-1h1v-1h1zM943 544h1v1h1v1h1v1h-1v1h-1v1h-1v-1h-1v-1h-1v-1h1v-1h1zM943 546h1v1h1v1h1v1h-1v1h-1v1h-1v-1h-1v-1h-1v-1h1v-1h1zM944 548h1v1h1v1h1v1h-1v1h-1v1h-1v-1h-1v-1h-1v-1h1v-1h1zM943 550h1v1h1v1h1v1h-1v1h-1v1h-1v-1h-1v-1h-1v-1h1v-1h1zM943 552h1v1h1v1h1v1h-1v1h-1v1h-1v-1h-1v-1h-1v-1h1v-1h1zM944 554h1v1h1v1h1v1h-1v1h-1v1h-1v-1h-1v-1h-1v-1h1v-1h1zM943 556h1v1h1v1h1v1h-1v1h-1v1h-1v-1h-1v-1h-1v-1h1v-1h1zM943 558h1v1h1v1h1v1h-1v1h-1v1h-1v-1h-1v-1h-1v-1h1v-1h1zM944 560h1v1h1v1h1v1h-1v1h-1v1h-1v-1h-1v-1h-1v-1h1v-1h1zM943 562h1v1h1v1h1v1h-1v1h-1v1h-1v-1h-1v-1h-1v-1h1v-1h1zM943 564h1v1h1v1h1v1h-1v1h-1v1h-1v-1h-1v-1h-1v-1h1v-1h1zM944 566h1v1h1v1h1v1h-1v1h-1v1h-1v-1h-1v-1h-1v-1h1v-1h1zM943 568h1v1h1v1h1v1h-1v1h-1v1h-1v-1h-1v-1h-1v-1h1v-1h1zM943 570h1v1h1v1h1v1h-1v1h-1v1h-1v-1h-1v-1h-1v-1h1v-1h1zM944 572h1v1h1v1h1v1h-1v1h-1v1h-1v-1h-1v-1h-1v-1h1v-1h1zM943 574h1v1h1v1h1v1h-1v1h-1v1h-1v-1h-1v-1h-1v-1h1v-1h1zM943 576h1v1h1v1h1v1h-1v1h-1v1h-1v-1h-1v-1h-1v-1h1v-1h1zM944 578h1v1h1v1h1v1h-1v1h-1v1h-1v-1h-1v-1h-1v-1h1v-1h1zM943 580h1v1h1v1h1v1h-1v1h-1v1h-1v-1h-1v-1h-1v-1h1v-1h1zM943 582h1v1h1v1h1v1h-1v1h-1v1h-1v-1h-1v-1h-1v-1h1v-1h1zM944 584h1v1h1v1h1v1h-1v1h-1v1h-1v-1h-1v-1h-1v-1h1v-1h1zM943 586h1v1h1v1h1v1h-1v1h-1v1h-1v-1h-1v-1h-1v-1h1v-1h1zM943 588h1v1h1v1h1v1h-1v1h-1v1h-1v-1h-1v-1h-1v-1h1v-1h1zM944 590h1v1h1v1h1v1h-1v1h-1v1h-1v-1h-1v-1h-1v-1h1v-1h1zM943 592h1v1h1v1h1v1h-1v1h-1v1h-1v-1h-1v-1h-1v-1h1v-1h1zM943 594h1v1h1v1h1v1h-1v1h-1v1h-1v-1h-1v-1h-1v-1h1v-1h1zM944 596h1v1h1v1h1v1h-1v1h-1v1h-1v-1h-1v-1h-1v-1h1v-1h1zM943 598h1v1h1v1h1v1h-1v1h-1v1h-1v-1h-1v-1h-1v-1h1v-1h1zM943 600h1v1h1v1h1v1h-1v1h-1v1h-1v-1h-1v-1h-1v-1h1v-1h1zM944 602h1v1h1v1h1v1h-1v1h-1v1h-1v-1h-1v-1h-1v-1h1v-1h1zM943 604h1v1h1v1h1v1h-1v1h-1v1h-1v-1h-1v-1h-1v-1h1v-1h1zM943 606h1v1h1v1h1v1h-1v1h-1v1h-1v-1h-1v-1h-1v-1h1v-1h1zM944 608h1v1h1v1h1v1h-1v1h-1v1h-1v-1h-1v-1h-1v-1h1v-1h1zM943 610h1v1h1v1h1v1h-1v1h-1v1h-1v-1h-1v-1h-1v-1h1v-1h1zM943 612h1v1h1v1h1v1h-1v1h-1v1h-1v-1h-1v-1h-1v-1h1v-1h1zM944 614h1v1h1v1h1v1h-1v1h-1v1h-1v-1h-1v-1h-1v-1h1v-1h1zM943 616h1v1h1v1h1v1h-1v1h-1v1h-1v-1h-1v-1h-1v-1h1v-1h1zM943 618h1v1h1v1h1v1h-1v1h-1v1h-1v-1h-1v-1h-1v-1h1v-1h1zM944 620h1v1h1v1h1v1h-1v1h-1v1h-1v-1h-1v-1h-1v-1h1v-1h1zM952 473h1v1h1v1h1v1h-1v1h-1v1h-1v-1h-1v-1h-1v-1h1v-1h1zM954 476h1v1h1v1h1v1h-1v1h-1v1h-1v-1h-1v-1h-1v-1h1v-1h1zM953 478h1v1h1v1h1v1h-1v1h-1v1h-1v-1h-1v-1h-1v-1h1v-1h1zM954 480h1v1h1v1h1v1h-1v1h-1v1h-1v-1h-1v-1h-1v-1h1v-1h1zM953 482h1v1h1v1h1v1h-1v1h-1v1h-1v-1h-1v-1h-1v-1h1v-1h1zM954 484h1v1h1v1h1v1h-1v1h-1v1h-1v-1h-1v-1h-1v-1h1v-1h1zM953 486h1v1h1v1h1v1h-1v1h-1v1h-1v-1h-1v-1h-1v-1h1v-1h1zM954 488h1v1h1v1h1v1h-1v1h-1v1h-1v-1h-1v-1h-1v-1h1v-1h1zM953 490h1v1h1v1h1v1h-1v1h-1v1h-1v-1h-1v-1h-1v-1h1v-1h1zM954 492h1v1h1v1h1v1h-1v1h-1v1h-1v-1h-1v-1h-1v-1h1v-1h1zM953 494h1v1h1v1h1v1h-1v1h-1v1h-1v-1h-1v-1h-1v-1h1v-1h1zM954 496h1v1h1v1h1v1h-1v1h-1v1h-1v-1h-1v-1h-1v-1h1v-1h1zM953 498h1v1h1v1h1v1h-1v1h-1v1h-1v-1h-1v-1h-1v-1h1v-1h1zM954 500h1v1h1v1h1v1h-1v1h-1v1h-1v-1h-1v-1h-1v-1h1v-1h1zM953 502h1v1h1v1h1v1h-1v1h-1v1h-1v-1h-1v-1h-1v-1h1v-1h1zM953 509h1v1h1v1h1v1h-1v1h-1v1h-1v-1h-1v-1h-1v-1h1v-1h1zM954 511h1v1h1v1h1v1h-1v1h-1v1h-1v-1h-1v-1h-1v-1h1v-1h1zM953 513h1v1h1v1h1v1h-1v1h-1v1h-1v-1h-1v-1h-1v-1h1v-1h1zM954 515h1v1h1v1h1v1h-1v1h-1v1h-1v-1h-1v-1h-1v-1h1v-1h1zM953 517h1v1h1v1h1v1h-1v1h-1v1h-1v-1h-1v-1h-1v-1h1v-1h1zM954 519h1v1h1v1h1v1h-1v1h-1v1h-1v-1h-1v-1h-1v-1h1v-1h1zM953 521h1v1h1v1h1v1h-1v1h-1v1h-1v-1h-1v-1h-1v-1h1v-1h1zM954 523h1v1h1v1h1v1h-1v1h-1v1h-1v-1h-1v-1h-1v-1h1v-1h1zM953 525h1v1h1v1h1v1h-1v1h-1v1h-1v-1h-1v-1h-1v-1h1v-1h1zM954 527h1v1h1v1h1v1h-1v1h-1v1h-1v-1h-1v-1h-1v-1h1v-1h1zM953 532h1v1h1v1h1v1h-1v1h-1v1h-1v-1h-1v-1h-1v-1h1v-1h1zM954 535h1v1h1v1h1v1h-1v1h-1v1h-1v-1h-1v-1h-1v-1h1v-1h1zM953 537h1v1h1v1h1v1h-1v1h-1v1h-1v-1h-1v-1h-1v-1h1v-1h1zM954 540h1v1h1v1h1v1h-1v1h-1v1h-1v-1h-1v-1h-1v-1h1v-1h1zM953 542h1v1h1v1h1v1h-1v1h-1v1h-1v-1h-1v-1h-1v-1h1v-1h1zM954 545h1v1h1v1h1v1h-1v1h-1v1h-1v-1h-1v-1h-1v-1h1v-1h1zM953 547h1v1h1v1h1v1h-1v1h-1v1h-1v-1h-1v-1h-1v-1h1v-1h1zM954 550h1v1h1v1h1v1h-1v1h-1v1h-1v-1h-1v-1h-1v-1h1v-1h1zM953 552h1v1h1v1h1v1h-1v1h-1v1h-1v-1h-1v-1h-1v-1h1v-1h1zM954 555h1v1h1v1h1v1h-1v1h-1v1h-1v-1h-1v-1h-1v-1h1v-1h1zM953 557h1v1h1v1h1v1h-1v1h-1v1h-1v-1h-1v-1h-1v-1h1v-1h1zM954 560h1v1h1v1h1v1h-1v1h-1v1h-1v-1h-1v-1h-1v-1h1v-1h1zM953 562h1v1h1v1h1v1h-1v1h-1v1h-1v-1h-1v-1h-1v-1h1v-1h1zM954 565h1v1h1v1h1v1h-1v1h-1v1h-1v-1h-1v-1h-1v-1h1v-1h1zM953 567h1v1h1v1h1v1h-1v1h-1v1h-1v-1h-1v-1h-1v-1h1v-1h1zM954 570h1v1h1v1h1v1h-1v1h-1v1h-1v-1h-1v-1h-1v-1h1v-1h1zM953 572h1v1h1v1h1v1h-1v1h-1v1h-1v-1h-1v-1h-1v-1h1v-1h1zM954 575h1v1h1v1h1v1h-1v1h-1v1h-1v-1h-1v-1h-1v-1h1v-1h1zM953 584h1v1h1v1h1v1h-1v1h-1v1h-1v-1h-1v-1h-1v-1h1v-1h1zM954 586h1v1h1v1h1v1h-1v1h-1v1h-1v-1h-1v-1h-1v-1h1v-1h1zM953 588h1v1h1v1h1v1h-1v1h-1v1h-1v-1h-1v-1h-1v-1h1v-1h1zM954 590h1v1h1v1h1v1h-1v1h-1v1h-1v-1h-1v-1h-1v-1h1v-1h1zM953 596h1v1h1v1h1v1h-1v1h-1v1h-1v-1h-1v-1h-1v-1h1v-1h1zM953 598h1v1h1v1h1v1h-1v1h-1v1h-1v-1h-1v-1h-1v-1h1v-1h1zM953 601h1v1h1v1h1v1h-1v1h-1v1h-1v-1h-1v-1h-1v-1h1v-1h1zM953 611h1v1h1v1h1v1h-1v1h-1v1h-1v-1h-1v-1h-1v-1h1v-1h1zM954 613h1v1h1v1h1v1h-1v1h-1v1h-1v-1h-1v-1h-1v-1h1v-1h1zM953 616h1v1h1v1h1v1h-1v1h-1v1h-1v-1h-1v-1h-1v-1h1v-1h1zM959 526h1v1h1v1h1v1h-1v1h-1v1h-1v-1h-1v-1h-1v-1h1v-1h1zM965 576h1v1h1v1h1v1h-1v1h-1v1h-1v-1h-1v-1h-1v-1h1v-1h1zM975 513h1v1h1v1h1v1h-1v1h-1v1h-1v-1h-1v-1h-1v-1h1v-1h1zM975 531h1v1h1v1h1v1h-1v1h-1v1h-1v-1h-1v-1h-1v-1h1v-1h1zM975 534h1v1h1v1h1v1h-1v1h-1v1h-1v-1h-1v-1h-1v-1h1v-1h1zM975 554h1v1h1v1h1v1h-1v1h-1v1h-1v-1h-1v-1h-1v-1h1v-1h1zM975 556h1v1h1v1h1v1h-1v1h-1v1h-1v-1h-1v-1h-1v-1h1v-1h1zM975 558h1v1h1v1h1v1h-1v1h-1v1h-1v-1h-1v-1h-1v-1h1v-1h1zM975 561h1v1h1v1h1v1h-1v1h-1v1h-1v-1h-1v-1h-1v-1h1v-1h1zM975 563h1v1h1v1h1v1h-1v1h-1v1h-1v-1h-1v-1h-1v-1h1v-1h1zM975 566h1v1h1v1h1v1h-1v1h-1v1h-1v-1h-1v-1h-1v-1h1v-1h1zM975 568h1v1h1v1h1v1h-1v1h-1v1h-1v-1h-1v-1h-1v-1h1v-1h1zM975 571h1v1h1v1h1v1h-1v1h-1v1h-1v-1h-1v-1h-1v-1h1v-1h1zM975 573h1v1h1v1h1v1h-1v1h-1v1h-1v-1h-1v-1h-1v-1h1v-1h1zM975 576h1v1h1v1h1v1h-1v1h-1v1h-1v-1h-1v-1h-1v-1h1v-1h1zM975 578h1v1h1v1h1v1h-1v1h-1v1h-1v-1h-1v-1h-1v-1h1v-1h1zM975 581h1v1h1v1h1v1h-1v1h-1v1h-1v-1h-1v-1h-1v-1h1v-1h1zM975 583h1v1h1v1h1v1h-1v1h-1v1h-1v-1h-1v-1h-1v-1h1v-1h1zM975 586h1v1h1v1h1v1h-1v1h-1v1h-1v-1h-1v-1h-1v-1h1v-1h1zM975 588h1v1h1v1h1v1h-1v1h-1v1h-1v-1h-1v-1h-1v-1h1v-1h1zM975 591h1v1h1v1h1v1h-1v1h-1v1h-1v-1h-1v-1h-1v-1h1v-1h1zM975 593h1v1h1v1h1v1h-1v1h-1v1h-1v-1h-1v-1h-1v-1h1v-1h1zM975 596h1v1h1v1h1v1h-1v1h-1v1h-1v-1h-1v-1h-1v-1h1v-1h1zM975 598h1v1h1v1h1v1h-1v1h-1v1h-1v-1h-1v-1h-1v-1h1v-1h1zM975 601h1v1h1v1h1v1h-1v1h-1v1h-1v-1h-1v-1h-1v-1h1v-1h1zM975 603h1v1h1v1h1v1h-1v1h-1v1h-1v-1h-1v-1h-1v-1h1v-1h1zM975 606h1v1h1v1h1v1h-1v1h-1v1h-1v-1h-1v-1h-1v-1h1v-1h1zM975 608h1v1h1v1h1v1h-1v1h-1v1h-1v-1h-1v-1h-1v-1h1v-1h1zM975 611h1v1h1v1h1v1h-1v1h-1v1h-1v-1h-1v-1h-1v-1h1v-1h1zM975 613h1v1h1v1h1v1h-1v1h-1v1h-1v-1h-1v-1h-1v-1h1v-1h1zM975 616h1v1h1v1h1v1h-1v1h-1v1h-1v-1h-1v-1h-1v-1h1v-1h1zM975 618h1v1h1v1h1v1h-1v1h-1v1h-1v-1h-1v-1h-1v-1h1v-1h1zM975 621h1v1h1v1h1v1h-1v1h-1v1h-1v-1h-1v-1h-1v-1h1v-1h1zM975 623h1v1h1v1h1v1h-1v1h-1v1h-1v-1h-1v-1h-1v-1h1v-1h1zM975 626h1v1h1v1h1v1h-1v1h-1v1h-1v-1h-1v-1h-1v-1h1v-1h1zM975 628h1v1h1v1h1v1h-1v1h-1v1h-1v-1h-1v-1h-1v-1h1v-1h1zM975 631h1v1h1v1h1v1h-1v1h-1v1h-1v-1h-1v-1h-1v-1h1v-1h1zM975 633h1v1h1v1h1v1h-1v1h-1v1h-1v-1h-1v-1h-1v-1h1v-1h1zM975 636h1v1h1v1h1v1h-1v1h-1v1h-1v-1h-1v-1h-1v-1h1v-1h1zM975 638h1v1h1v1h1v1h-1v1h-1v1h-1v-1h-1v-1h-1v-1h1v-1h1zM975 641h1v1h1v1h1v1h-1v1h-1v1h-1v-1h-1v-1h-1v-1h1v-1h1zM975 643h1v1h1v1h1v1h-1v1h-1v1h-1v-1h-1v-1h-1v-1h1v-1h1zM975 646h1v1h1v1h1v1h-1v1h-1v1h-1v-1h-1v-1h-1v-1h1v-1h1zM943 625h1v1h1v1h1v1h-1v1h-1v1h-1v-1h-1v-1h-1v-1h1v-1h1zM943 665h1v1h1v1h1v1h-1v1h-1v1h-1v-1h-1v-1h-1v-1h1v-1h1zM953 629h1v1h1v1h1v1h-1v1h-1v1h-1v-1h-1v-1h-1v-1h1v-1h1zM953 635h1v1h1v1h1v1h-1v1h-1v1h-1v-1h-1v-1h-1v-1h1v-1h1zM953 638h1v1h1v1h1v1h-1v1h-1v1h-1v-1h-1v-1h-1v-1h1v-1h1zM953 659h1v1h1v1h1v1h-1v1h-1v1h-1v-1h-1v-1h-1v-1h1v-1h1zM953 662h1v1h1v1h1v1h-1v1h-1v1h-1v-1h-1v-1h-1v-1h1v-1h1zM953 668h1v1h1v1h1v1h-1v1h-1v1h-1v-1h-1v-1h-1v-1h1v-1h1zM953 670h1v1h1v1h1v1h-1v1h-1v1h-1v-1h-1v-1h-1v-1h1v-1h1zM953 672h1v1h1v1h1v1h-1v1h-1v1h-1v-1h-1v-1h-1v-1h1v-1h1zM953 674h1v1h1v1h1v1h-1v1h-1v1h-1v-1h-1v-1h-1v-1h1v-1h1zM953 675h1v1h1v1h1v1h-1v1h-1v1h-1v-1h-1v-1h-1v-1h1v-1h1zM953 682h1v1h1v1h1v1h-1v1h-1v1h-1v-1h-1v-1h-1v-1h1v-1h1zM954 684h1v1h1v1h1v1h-1v1h-1v1h-1v-1h-1v-1h-1v-1h1v-1h1zM953 686h1v1h1v1h1v1h-1v1h-1v1h-1v-1h-1v-1h-1v-1h1v-1h1zM954 688h1v1h1v1h1v1h-1v1h-1v1h-1v-1h-1v-1h-1v-1h1v-1h1zM953 690h1v1h1v1h1v1h-1v1h-1v1h-1v-1h-1v-1h-1v-1h1v-1h1zM953 697h1v1h1v1h1v1h-1v1h-1v1h-1v-1h-1v-1h-1v-1h1v-1h1zM954 699h1v1h1v1h1v1h-1v1h-1v1h-1v-1h-1v-1h-1v-1h1v-1h1zM953 701h1v1h1v1h1v1h-1v1h-1v1h-1v-1h-1v-1h-1v-1h1v-1h1zM954 703h1v1h1v1h1v1h-1v1h-1v1h-1v-1h-1v-1h-1v-1h1v-1h1zM953 705h1v1h1v1h1v1h-1v1h-1v1h-1v-1h-1v-1h-1v-1h1v-1h1zM954 707h1v1h1v1h1v1h-1v1h-1v1h-1v-1h-1v-1h-1v-1h1v-1h1zM953 709h1v1h1v1h1v1h-1v1h-1v1h-1v-1h-1v-1h-1v-1h1v-1h1zM953 715h1v1h1v1h1v1h-1v1h-1v1h-1v-1h-1v-1h-1v-1h1v-1h1zM953 725h1v1h1v1h1v1h-1v1h-1v1h-1v-1h-1v-1h-1v-1h1v-1h1zM953 731h1v1h1v1h1v1h-1v1h-1v1h-1v-1h-1v-1h-1v-1h1v-1h1zM953 736h1v1h1v1h1v1h-1v1h-1v1h-1v-1h-1v-1h-1v-1h1v-1h1zM953 739h1v1h1v1h1v1h-1v1h-1v1h-1v-1h-1v-1h-1v-1h1v-1h1zM953 744h1v1h1v1h1v1h-1v1h-1v1h-1v-1h-1v-1h-1v-1h1v-1h1zM953 748h1v1h1v1h1v1h-1v1h-1v1h-1v-1h-1v-1h-1v-1h1v-1h1zM953 751h1v1h1v1h1v1h-1v1h-1v1h-1v-1h-1v-1h-1v-1h1v-1h1zM953 755h1v1h1v1h1v1h-1v1h-1v1h-1v-1h-1v-1h-1v-1h1v-1h1zM953 758h1v1h1v1h1v1h-1v1h-1v1h-1v-1h-1v-1h-1v-1h1v-1h1zM953 760h1v1h1v1h1v1h-1v1h-1v1h-1v-1h-1v-1h-1v-1h1v-1h1zM970 642h1v1h1v1h1v1h-1v1h-1v1h-1v-1h-1v-1h-1v-1h1v-1h1zM965 688h1v1h1v1h1v1h-1v1h-1v1h-1v-1h-1v-1h-1v-1h1v-1h1zM980 684h1v1h1v1h1v1h-1v1h-1v1h-1v-1h-1v-1h-1v-1h1v-1h1zM952 785h1v1h1v1h1v1h-1v1h-1v1h-1v-1h-1v-1h-1v-1h1v-1h1zM954 789h1v1h1v1h1v1h-1v1h-1v1h-1v-1h-1v-1h-1v-1h1v-1h1zM952 808h1v1h1v1h1v1h-1v1h-1v1h-1v-1h-1v-1h-1v-1h1v-1h1zM965 826h1v1h1v1h1v1h-1v1h-1v1h-1v-1h-1v-1h-1v-1h1v-1h1zM954 834h1v1h1v1h1v1h-1v1h-1v1h-1v-1h-1v-1h-1v-1h1v-1h1zM952 855h1v1h1v1h1v1h-1v1h-1v1h-1v-1h-1v-1h-1v-1h1v-1h1zM954 859h1v1h1v1h1v1h-1v1h-1v1h-1v-1h-1v-1h-1v-1h1v-1h1zM965 864h1v1h1v1h1v1h-1v1h-1v1h-1v-1h-1v-1h-1v-1h1v-1h1zM954 876h1v1h1v1h1v1h-1v1h-1v1h-1v-1h-1v-1h-1v-1h1v-1h1zM952 880h1v1h1v1h1v1h-1v1h-1v1h-1v-1h-1v-1h-1v-1h1v-1h1zM952 898h1v1h1v1h1v1h-1v1h-1v1h-1v-1h-1v-1h-1v-1h1v-1h1zM952 959h1v1h1v1h1v1h-1v1h-1v1h-1v-1h-1v-1h-1v-1h1v-1h1zM952 993h1v1h1v1h1v1h-1v1h-1v1h-1v-1h-1v-1h-1v-1h1v-1h1zM952 1042h1v1h1v1h1v1h-1v1h-1v1h-1v-1h-1v-1h-1v-1h1v-1h1zM952 1088h1v1h1v1h1v1h-1v1h-1v1h-1v-1h-1v-1h-1v-1h1v-1h1zM952 1104h1v1h1v1h1v1h-1v1h-1v1h-1v-1h-1v-1h-1v-1h1v-1h1zM952 1113h1v1h1v1h1v1h-1v1h-1v1h-1v-1h-1v-1h-1v-1h1v-1h1zM1483 498h1v1h1v1h1v1h-1v1h-1v1h-1v-1h-1v-1h-1v-1h1v-1h1zM1483 513h1v1h1v1h1v1h-1v1h-1v1h-1v-1h-1v-1h-1v-1h1v-1h1zM1483 518h1v1h1v1h1v1h-1v1h-1v1h-1v-1h-1v-1h-1v-1h1v-1h1zM1483 521h1v1h1v1h1v1h-1v1h-1v1h-1v-1h-1v-1h-1v-1h1v-1h1zM1483 523h1v1h1v1h1v1h-1v1h-1v1h-1v-1h-1v-1h-1v-1h1v-1h1zM1482 537h1v1h1v1h1v1h-1v1h-1v1h-1v-1h-1v-1h-1v-1h1v-1h1zM1485 538h1v1h1v1h1v1h-1v1h-1v1h-1v-1h-1v-1h-1v-1h1v-1h1zM1484 540h1v1h1v1h1v1h-1v1h-1v1h-1v-1h-1v-1h-1v-1h1v-1h1zM1482 541h1v1h1v1h1v1h-1v1h-1v1h-1v-1h-1v-1h-1v-1h1v-1h1zM1485 543h1v1h1v1h1v1h-1v1h-1v1h-1v-1h-1v-1h-1v-1h1v-1h1zM1484 544h1v1h1v1h1v1h-1v1h-1v1h-1v-1h-1v-1h-1v-1h1v-1h1zM1482 546h1v1h1v1h1v1h-1v1h-1v1h-1v-1h-1v-1h-1v-1h1v-1h1zM1485 547h1v1h1v1h1v1h-1v1h-1v1h-1v-1h-1v-1h-1v-1h1v-1h1zM1484 549h1v1h1v1h1v1h-1v1h-1v1h-1v-1h-1v-1h-1v-1h1v-1h1zM1482 550h1v1h1v1h1v1h-1v1h-1v1h-1v-1h-1v-1h-1v-1h1v-1h1zM1485 552h1v1h1v1h1v1h-1v1h-1v1h-1v-1h-1v-1h-1v-1h1v-1h1zM1484 553h1v1h1v1h1v1h-1v1h-1v1h-1v-1h-1v-1h-1v-1h1v-1h1zM1482 555h1v1h1v1h1v1h-1v1h-1v1h-1v-1h-1v-1h-1v-1h1v-1h1zM1485 556h1v1h1v1h1v1h-1v1h-1v1h-1v-1h-1v-1h-1v-1h1v-1h1zM1484 558h1v1h1v1h1v1h-1v1h-1v1h-1v-1h-1v-1h-1v-1h1v-1h1zM1482 559h1v1h1v1h1v1h-1v1h-1v1h-1v-1h-1v-1h-1v-1h1v-1h1zM1485 561h1v1h1v1h1v1h-1v1h-1v1h-1v-1h-1v-1h-1v-1h1v-1h1zM1484 562h1v1h1v1h1v1h-1v1h-1v1h-1v-1h-1v-1h-1v-1h1v-1h1zM1482 564h1v1h1v1h1v1h-1v1h-1v1h-1v-1h-1v-1h-1v-1h1v-1h1zM1485 565h1v1h1v1h1v1h-1v1h-1v1h-1v-1h-1v-1h-1v-1h1v-1h1zM1484 567h1v1h1v1h1v1h-1v1h-1v1h-1v-1h-1v-1h-1v-1h1v-1h1zM1482 568h1v1h1v1h1v1h-1v1h-1v1h-1v-1h-1v-1h-1v-1h1v-1h1zM1485 570h1v1h1v1h1v1h-1v1h-1v1h-1v-1h-1v-1h-1v-1h1v-1h1zM1484 571h1v1h1v1h1v1h-1v1h-1v1h-1v-1h-1v-1h-1v-1h1v-1h1zM1482 573h1v1h1v1h1v1h-1v1h-1v1h-1v-1h-1v-1h-1v-1h1v-1h1zM1485 574h1v1h1v1h1v1h-1v1h-1v1h-1v-1h-1v-1h-1v-1h1v-1h1zM1484 576h1v1h1v1h1v1h-1v1h-1v1h-1v-1h-1v-1h-1v-1h1v-1h1zM1482 577h1v1h1v1h1v1h-1v1h-1v1h-1v-1h-1v-1h-1v-1h1v-1h1zM1485 579h1v1h1v1h1v1h-1v1h-1v1h-1v-1h-1v-1h-1v-1h1v-1h1zM1484 580h1v1h1v1h1v1h-1v1h-1v1h-1v-1h-1v-1h-1v-1h1v-1h1zM1482 582h1v1h1v1h1v1h-1v1h-1v1h-1v-1h-1v-1h-1v-1h1v-1h1zM1485 583h1v1h1v1h1v1h-1v1h-1v1h-1v-1h-1v-1h-1v-1h1v-1h1zM1484 585h1v1h1v1h1v1h-1v1h-1v1h-1v-1h-1v-1h-1v-1h1v-1h1zM1482 586h1v1h1v1h1v1h-1v1h-1v1h-1v-1h-1v-1h-1v-1h1v-1h1zM1485 588h1v1h1v1h1v1h-1v1h-1v1h-1v-1h-1v-1h-1v-1h1v-1h1zM1484 589h1v1h1v1h1v1h-1v1h-1v1h-1v-1h-1v-1h-1v-1h1v-1h1zM1482 591h1v1h1v1h1v1h-1v1h-1v1h-1v-1h-1v-1h-1v-1h1v-1h1zM1485 592h1v1h1v1h1v1h-1v1h-1v1h-1v-1h-1v-1h-1v-1h1v-1h1zM1484 594h1v1h1v1h1v1h-1v1h-1v1h-1v-1h-1v-1h-1v-1h1v-1h1zM1482 595h1v1h1v1h1v1h-1v1h-1v1h-1v-1h-1v-1h-1v-1h1v-1h1zM1485 597h1v1h1v1h1v1h-1v1h-1v1h-1v-1h-1v-1h-1v-1h1v-1h1zM1484 598h1v1h1v1h1v1h-1v1h-1v1h-1v-1h-1v-1h-1v-1h1v-1h1zM1482 600h1v1h1v1h1v1h-1v1h-1v1h-1v-1h-1v-1h-1v-1h1v-1h1zM1485 601h1v1h1v1h1v1h-1v1h-1v1h-1v-1h-1v-1h-1v-1h1v-1h1zM1484 603h1v1h1v1h1v1h-1v1h-1v1h-1v-1h-1v-1h-1v-1h1v-1h1zM1482 604h1v1h1v1h1v1h-1v1h-1v1h-1v-1h-1v-1h-1v-1h1v-1h1zM1485 606h1v1h1v1h1v1h-1v1h-1v1h-1v-1h-1v-1h-1v-1h1v-1h1zM1484 607h1v1h1v1h1v1h-1v1h-1v1h-1v-1h-1v-1h-1v-1h1v-1h1zM1482 609h1v1h1v1h1v1h-1v1h-1v1h-1v-1h-1v-1h-1v-1h1v-1h1zM1485 610h1v1h1v1h1v1h-1v1h-1v1h-1v-1h-1v-1h-1v-1h1v-1h1zM1484 612h1v1h1v1h1v1h-1v1h-1v1h-1v-1h-1v-1h-1v-1h1v-1h1zM1482 613h1v1h1v1h1v1h-1v1h-1v1h-1v-1h-1v-1h-1v-1h1v-1h1zM1485 615h1v1h1v1h1v1h-1v1h-1v1h-1v-1h-1v-1h-1v-1h1v-1h1zM1484 616h1v1h1v1h1v1h-1v1h-1v1h-1v-1h-1v-1h-1v-1h1v-1h1zM1482 618h1v1h1v1h1v1h-1v1h-1v1h-1v-1h-1v-1h-1v-1h1v-1h1zM1485 619h1v1h1v1h1v1h-1v1h-1v1h-1v-1h-1v-1h-1v-1h1v-1h1zM1484 621h1v1h1v1h1v1h-1v1h-1v1h-1v-1h-1v-1h-1v-1h1v-1h1zM1482 622h1v1h1v1h1v1h-1v1h-1v1h-1v-1h-1v-1h-1v-1h1v-1h1zM1485 624h1v1h1v1h1v1h-1v1h-1v1h-1v-1h-1v-1h-1v-1h1v-1h1zM1484 625h1v1h1v1h1v1h-1v1h-1v1h-1v-1h-1v-1h-1v-1h1v-1h1zM1482 627h1v1h1v1h1v1h-1v1h-1v1h-1v-1h-1v-1h-1v-1h1v-1h1zM1485 628h1v1h1v1h1v1h-1v1h-1v1h-1v-1h-1v-1h-1v-1h1v-1h1zM1484 630h1v1h1v1h1v1h-1v1h-1v1h-1v-1h-1v-1h-1v-1h1v-1h1zM1482 631h1v1h1v1h1v1h-1v1h-1v1h-1v-1h-1v-1h-1v-1h1v-1h1zM1485 633h1v1h1v1h1v1h-1v1h-1v1h-1v-1h-1v-1h-1v-1h1v-1h1zM1484 634h1v1h1v1h1v1h-1v1h-1v1h-1v-1h-1v-1h-1v-1h1v-1h1zM1482 636h1v1h1v1h1v1h-1v1h-1v1h-1v-1h-1v-1h-1v-1h1v-1h1zM1485 637h1v1h1v1h1v1h-1v1h-1v1h-1v-1h-1v-1h-1v-1h1v-1h1zM1484 639h1v1h1v1h1v1h-1v1h-1v1h-1v-1h-1v-1h-1v-1h1v-1h1zM1482 640h1v1h1v1h1v1h-1v1h-1v1h-1v-1h-1v-1h-1v-1h1v-1h1zM1485 642h1v1h1v1h1v1h-1v1h-1v1h-1v-1h-1v-1h-1v-1h1v-1h1zM1484 643h1v1h1v1h1v1h-1v1h-1v1h-1v-1h-1v-1h-1v-1h1v-1h1zM1482 645h1v1h1v1h1v1h-1v1h-1v1h-1v-1h-1v-1h-1v-1h1v-1h1zM1485 646h1v1h1v1h1v1h-1v1h-1v1h-1v-1h-1v-1h-1v-1h1v-1h1zM1484 648h1v1h1v1h1v1h-1v1h-1v1h-1v-1h-1v-1h-1v-1h1v-1h1zM1482 649h1v1h1v1h1v1h-1v1h-1v1h-1v-1h-1v-1h-1v-1h1v-1h1zM1485 651h1v1h1v1h1v1h-1v1h-1v1h-1v-1h-1v-1h-1v-1h1v-1h1zM1484 652h1v1h1v1h1v1h-1v1h-1v1h-1v-1h-1v-1h-1v-1h1v-1h1zM1482 654h1v1h1v1h1v1h-1v1h-1v1h-1v-1h-1v-1h-1v-1h1v-1h1zM1485 655h1v1h1v1h1v1h-1v1h-1v1h-1v-1h-1v-1h-1v-1h1v-1h1zM1484 657h1v1h1v1h1v1h-1v1h-1v1h-1v-1h-1v-1h-1v-1h1v-1h1zM1482 658h1v1h1v1h1v1h-1v1h-1v1h-1v-1h-1v-1h-1v-1h1v-1h1zM1485 660h1v1h1v1h1v1h-1v1h-1v1h-1v-1h-1v-1h-1v-1h1v-1h1zM1484 661h1v1h1v1h1v1h-1v1h-1v1h-1v-1h-1v-1h-1v-1h1v-1h1zM1482 663h1v1h1v1h1v1h-1v1h-1v1h-1v-1h-1v-1h-1v-1h1v-1h1zM1485 664h1v1h1v1h1v1h-1v1h-1v1h-1v-1h-1v-1h-1v-1h1v-1h1zM1484 666h1v1h1v1h1v1h-1v1h-1v1h-1v-1h-1v-1h-1v-1h1v-1h1zM1482 667h1v1h1v1h1v1h-1v1h-1v1h-1v-1h-1v-1h-1v-1h1v-1h1zM1485 669h1v1h1v1h1v1h-1v1h-1v1h-1v-1h-1v-1h-1v-1h1v-1h1zM1484 670h1v1h1v1h1v1h-1v1h-1v1h-1v-1h-1v-1h-1v-1h1v-1h1zM1482 672h1v1h1v1h1v1h-1v1h-1v1h-1v-1h-1v-1h-1v-1h1v-1h1zM1485 673h1v1h1v1h1v1h-1v1h-1v1h-1v-1h-1v-1h-1v-1h1v-1h1zM1484 675h1v1h1v1h1v1h-1v1h-1v1h-1v-1h-1v-1h-1v-1h1v-1h1zM1482 676h1v1h1v1h1v1h-1v1h-1v1h-1v-1h-1v-1h-1v-1h1v-1h1zM1485 678h1v1h1v1h1v1h-1v1h-1v1h-1v-1h-1v-1h-1v-1h1v-1h1zM1484 679h1v1h1v1h1v1h-1v1h-1v1h-1v-1h-1v-1h-1v-1h1v-1h1zM1482 681h1v1h1v1h1v1h-1v1h-1v1h-1v-1h-1v-1h-1v-1h1v-1h1zM1485 682h1v1h1v1h1v1h-1v1h-1v1h-1v-1h-1v-1h-1v-1h1v-1h1zM1484 684h1v1h1v1h1v1h-1v1h-1v1h-1v-1h-1v-1h-1v-1h1v-1h1zM1482 685h1v1h1v1h1v1h-1v1h-1v1h-1v-1h-1v-1h-1v-1h1v-1h1zM1485 687h1v1h1v1h1v1h-1v1h-1v1h-1v-1h-1v-1h-1v-1h1v-1h1zM1484 688h1v1h1v1h1v1h-1v1h-1v1h-1v-1h-1v-1h-1v-1h1v-1h1zM1482 690h1v1h1v1h1v1h-1v1h-1v1h-1v-1h-1v-1h-1v-1h1v-1h1zM1485 691h1v1h1v1h1v1h-1v1h-1v1h-1v-1h-1v-1h-1v-1h1v-1h1zM1484 693h1v1h1v1h1v1h-1v1h-1v1h-1v-1h-1v-1h-1v-1h1v-1h1zM1482 694h1v1h1v1h1v1h-1v1h-1v1h-1v-1h-1v-1h-1v-1h1v-1h1zM1485 696h1v1h1v1h1v1h-1v1h-1v1h-1v-1h-1v-1h-1v-1h1v-1h1zM1484 697h1v1h1v1h1v1h-1v1h-1v1h-1v-1h-1v-1h-1v-1h1v-1h1zM1482 699h1v1h1v1h1v1h-1v1h-1v1h-1v-1h-1v-1h-1v-1h1v-1h1zM1485 700h1v1h1v1h1v1h-1v1h-1v1h-1v-1h-1v-1h-1v-1h1v-1h1zM1484 702h1v1h1v1h1v1h-1v1h-1v1h-1v-1h-1v-1h-1v-1h1v-1h1zM1482 703h1v1h1v1h1v1h-1v1h-1v1h-1v-1h-1v-1h-1v-1h1v-1h1zM1485 705h1v1h1v1h1v1h-1v1h-1v1h-1v-1h-1v-1h-1v-1h1v-1h1zM1484 706h1v1h1v1h1v1h-1v1h-1v1h-1v-1h-1v-1h-1v-1h1v-1h1zM1482 708h1v1h1v1h1v1h-1v1h-1v1h-1v-1h-1v-1h-1v-1h1v-1h1zM1485 709h1v1h1v1h1v1h-1v1h-1v1h-1v-1h-1v-1h-1v-1h1v-1h1zM1484 711h1v1h1v1h1v1h-1v1h-1v1h-1v-1h-1v-1h-1v-1h1v-1h1zM1482 712h1v1h1v1h1v1h-1v1h-1v1h-1v-1h-1v-1h-1v-1h1v-1h1zM1485 714h1v1h1v1h1v1h-1v1h-1v1h-1v-1h-1v-1h-1v-1h1v-1h1zM1484 715h1v1h1v1h1v1h-1v1h-1v1h-1v-1h-1v-1h-1v-1h1v-1h1zM1504 606h1v1h1v1h1v1h-1v1h-1v1h-1v-1h-1v-1h-1v-1h1v-1h1zM1503 621h1v1h1v1h1v1h-1v1h-1v1h-1v-1h-1v-1h-1v-1h1v-1h1zM1507 637h1v1h1v1h1v1h-1v1h-1v1h-1v-1h-1v-1h-1v-1h1v-1h1zM1482 728h1v1h1v1h1v1h-1v1h-1v1h-1v-1h-1v-1h-1v-1h1v-1h1zM1485 728h1v1h1v1h1v1h-1v1h-1v1h-1v-1h-1v-1h-1v-1h1v-1h1zM1482 732h1v1h1v1h1v1h-1v1h-1v1h-1v-1h-1v-1h-1v-1h1v-1h1zM1482 750h1v1h1v1h1v1h-1v1h-1v1h-1v-1h-1v-1h-1v-1h1v-1h1zM1485 754h1v1h1v1h1v1h-1v1h-1v1h-1v-1h-1v-1h-1v-1h1v-1h1zM1485 769h1v1h1v1h1v1h-1v1h-1v1h-1v-1h-1v-1h-1v-1h1v-1h1zM1485 771h1v1h1v1h1v1h-1v1h-1v1h-1v-1h-1v-1h-1v-1h1v-1h1zM1482 796h1v1h1v1h1v1h-1v1h-1v1h-1v-1h-1v-1h-1v-1h1v-1h1zM1507 638h1v1h1v1h1v1h-1v1h-1v1h-1v-1h-1v-1h-1v-1h1v-1h1zM1507 652h1v1h1v1h1v1h-1v1h-1v1h-1v-1h-1v-1h-1v-1h1v-1h1zM1507 655h1v1h1v1h1v1h-1v1h-1v1h-1v-1h-1v-1h-1v-1h1v-1h1zM1507 658h1v1h1v1h1v1h-1v1h-1v1h-1v-1h-1v-1h-1v-1h1v-1h1zM1507 670h1v1h1v1h1v1h-1v1h-1v1h-1v-1h-1v-1h-1v-1h1v-1h1zM1507 674h1v1h1v1h1v1h-1v1h-1v1h-1v-1h-1v-1h-1v-1h1v-1h1zM1507 678h1v1h1v1h1v1h-1v1h-1v1h-1v-1h-1v-1h-1v-1h1v-1h1zM1507 681h1v1h1v1h1v1h-1v1h-1v1h-1v-1h-1v-1h-1v-1h1v-1h1zM1507 685h1v1h1v1h1v1h-1v1h-1v1h-1v-1h-1v-1h-1v-1h1v-1h1zM1507 700h1v1h1v1h1v1h-1v1h-1v1h-1v-1h-1v-1h-1v-1h1v-1h1zM1507 720h1v1h1v1h1v1h-1v1h-1v1h-1v-1h-1v-1h-1v-1h1v-1h1zM1482 797h1v1h1v1h1v1h-1v1h-1v1h-1v-1h-1v-1h-1v-1h1v-1h1zM1483 810h1v1h1v1h1v1h-1v1h-1v1h-1v-1h-1v-1h-1v-1h1v-1h1zM1482 826h1v1h1v1h1v1h-1v1h-1v1h-1v-1h-1v-1h-1v-1h1v-1h1zM1485 826h1v1h1v1h1v1h-1v1h-1v1h-1v-1h-1v-1h-1v-1h1v-1h1zM1485 838h1v1h1v1h1v1h-1v1h-1v1h-1v-1h-1v-1h-1v-1h1v-1h1zM1483 843h1v1h1v1h1v1h-1v1h-1v1h-1v-1h-1v-1h-1v-1h1v-1h1zM1482 852h1v1h1v1h1v1h-1v1h-1v1h-1v-1h-1v-1h-1v-1h1v-1h1zM1485 853h1v1h1v1h1v1h-1v1h-1v1h-1v-1h-1v-1h-1v-1h1v-1h1zM1485 895h1v1h1v1h1v1h-1v1h-1v1h-1v-1h-1v-1h-1v-1h1v-1h1zM1483 906h1v1h1v1h1v1h-1v1h-1v1h-1v-1h-1v-1h-1v-1h1v-1h1zM1486 944h1v1h1v1h1v1h-1v1h-1v1h-1v-1h-1v-1h-1v-1h1v-1h1zM1482 961h1v1h1v1h1v1h-1v1h-1v1h-1v-1h-1v-1h-1v-1h1v-1h1zM1483 968h1v1h1v1h1v1h-1v1h-1v1h-1v-1h-1v-1h-1v-1h1v-1h1zM1482 1043h1v1h1v1h1v1h-1v1h-1v1h-1v-1h-1v-1h-1v-1h1v-1h1zM1482 1058h1v1h1v1h1v1h-1v1h-1v1h-1v-1h-1v-1h-1v-1h1v-1h1z"/><path fill="#ff0000" d="M491 685h1v1h1v1h1v1h-1v1h-1v1h-1v-1h-1v-1h-1v-1h1v-1h1zM495 681h1v1h1v1h1v1h-1v1h-1v1h-1v-1h-1v-1h-1v-1h1v-1h1zM491 699h1v1h1v1h1v1h-1v1h-1v1h-1v-1h-1v-1h-1v-1h1v-1h1zM491 703h1v1h1v1h1v1h-1v1h-1v1h-1v-1h-1v-1h-1v-1h1v-1h1zM491 706h1v1h1v1h1v1h-1v1h-1v1h-1v-1h-1v-1h-1v-1h1v-1h1zM491 709h1v1h1v1h1v1h-1v1h-1v1h-1v-1h-1v-1h-1v-1h1v-1h1zM491 712h1v1h1v1h1v1h-1v1h-1v1h-1v-1h-1v-1h-1v-1h1v-1h1zM491 713h1v1h1v1h1v1h-1v1h-1v1h-1v-1h-1v-1h-1v-1h1v-1h1zM491 721h1v1h1v1h1v1h-1v1h-1v1h-1v-1h-1v-1h-1v-1h1v-1h1zM491 725h1v1h1v1h1v1h-1v1h-1v1h-1v-1h-1v-1h-1v-1h1v-1h1zM491 730h1v1h1v1h1v1h-1v1h-1v1h-1v-1h-1v-1h-1v-1h1v-1h1zM491 736h1v1h1v1h1v1h-1v1h-1v1h-1v-1h-1v-1h-1v-1h1v-1h1zM491 766h1v1h1v1h1v1h-1v1h-1v1h-1v-1h-1v-1h-1v-1h1v-1h1zM978 384h1v1h1v1h1v1h-1v1h-1v1h-1v-1h-1v-1h-1v-1h1v-1h1zM976 481h1v1h1v1h1v1h-1v1h-1v1h-1v-1h-1v-1h-1v-1h1v-1h1zM984 494h1v1h1v1h1v1h-1v1h-1v1h-1v-1h-1v-1h-1v-1h1v-1h1zM977 504h1v1h1v1h1v1h-1v1h-1v1h-1v-1h-1v-1h-1v-1h1v-1h1zM977 510h1v1h1v1h1v1h-1v1h-1v1h-1v-1h-1v-1h-1v-1h1v-1h1zM976 523h1v1h1v1h1v1h-1v1h-1v1h-1v-1h-1v-1h-1v-1h1v-1h1zM976 525h1v1h1v1h1v1h-1v1h-1v1h-1v-1h-1v-1h-1v-1h1v-1h1zM977 537h1v1h1v1h1v1h-1v1h-1v1h-1v-1h-1v-1h-1v-1h1v-1h1zM977 540h1v1h1v1h1v1h-1v1h-1v1h-1v-1h-1v-1h-1v-1h1v-1h1zM977 544h1v1h1v1h1v1h-1v1h-1v1h-1v-1h-1v-1h-1v-1h1v-1h1zM977 553h1v1h1v1h1v1h-1v1h-1v1h-1v-1h-1v-1h-1v-1h1v-1h1zM979 554h1v1h1v1h1v1h-1v1h-1v1h-1v-1h-1v-1h-1v-1h1v-1h1zM978 555h1v1h1v1h1v1h-1v1h-1v1h-1v-1h-1v-1h-1v-1h1v-1h1zM980 556h1v1h1v1h1v1h-1v1h-1v1h-1v-1h-1v-1h-1v-1h1v-1h1zM977 557h1v1h1v1h1v1h-1v1h-1v1h-1v-1h-1v-1h-1v-1h1v-1h1zM979 559h1v1h1v1h1v1h-1v1h-1v1h-1v-1h-1v-1h-1v-1h1v-1h1zM978 560h1v1h1v1h1v1h-1v1h-1v1h-1v-1h-1v-1h-1v-1h1v-1h1zM980 561h1v1h1v1h1v1h-1v1h-1v1h-1v-1h-1v-1h-1v-1h1v-1h1zM977 562h1v1h1v1h1v1h-1v1h-1v1h-1v-1h-1v-1h-1v-1h1v-1h1zM979 563h1v1h1v1h1v1h-1v1h-1v1h-1v-1h-1v-1h-1v-1h1v-1h1zM978 565h1v1h1v1h1v1h-1v1h-1v1h-1v-1h-1v-1h-1v-1h1v-1h1zM980 566h1v1h1v1h1v1h-1v1h-1v1h-1v-1h-1v-1h-1v-1h1v-1h1zM977 567h1v1h1v1h1v1h-1v1h-1v1h-1v-1h-1v-1h-1v-1h1v-1h1zM979 568h1v1h1v1h1v1h-1v1h-1v1h-1v-1h-1v-1h-1v-1h1v-1h1zM978 569h1v1h1v1h1v1h-1v1h-1v1h-1v-1h-1v-1h-1v-1h1v-1h1zM980 571h1v1h1v1h1v1h-1v1h-1v1h-1v-1h-1v-1h-1v-1h1v-1h1zM977 572h1v1h1v1h1v1h-1v1h-1v1h-1v-1h-1v-1h-1v-1h1v-1h1zM979 573h1v1h1v1h1v1h-1v1h-1v1h-1v-1h-1v-1h-1v-1h1v-1h1zM978 574h1v1h1v1h1v1h-1v1h-1v1h-1v-1h-1v-1h-1v-1h1v-1h1zM980 575h1v1h1v1h1v1h-1v1h-1v1h-1v-1h-1v-1h-1v-1h1v-1h1zM977 577h1v1h1v1h1v1h-1v1h-1v1h-1v-1h-1v-1h-1v-1h1v-1h1zM979 578h1v1h1v1h1v1h-1v1h-1v1h-1v-1h-1v-1h-1v-1h1v-1h1zM978 579h1v1h1v1h1v1h-1v1h-1v1h-1v-1h-1v-1h-1v-1h1v-1h1zM980 580h1v1h1v1h1v1h-1v1h-1v1h-1v-1h-1v-1h-1v-1h1v-1h1zM977 581h1v1h1v1h1v1h-1v1h-1v1h-1v-1h-1v-1h-1v-1h1v-1h1zM979 583h1v1h1v1h1v1h-1v1h-1v1h-1v-1h-1v-1h-1v-1h1v-1h1zM978 584h1v1h1v1h1v1h-1v1h-1v1h-1v-1h-1v-1h-1v-1h1v-1h1zM980 585h1v1h1v1h1v1h-1v1h-1v1h-1v-1h-1v-1h-1v-1h1v-1h1zM977 586h1v1h1v1h1v1h-1v1h-1v1h-1v-1h-1v-1h-1v-1h1v-1h1zM979 587h1v1h1v1h1v1h-1v1h-1v1h-1v-1h-1v-1h-1v-1h1v-1h1zM977 589h1v1h1v1h1v1h-1v1h-1v1h-1v-1h-1v-1h-1v-1h1v-1h1zM983 590h1v1h1v1h1v1h-1v1h-1v1h-1v-1h-1v-1h-1v-1h1v-1h1zM977 591h1v1h1v1h1v1h-1v1h-1v1h-1v-1h-1v-1h-1v-1h1v-1h1zM983 592h1v1h1v1h1v1h-1v1h-1v1h-1v-1h-1v-1h-1v-1h1v-1h1zM977 593h1v1h1v1h1v1h-1v1h-1v1h-1v-1h-1v-1h-1v-1h1v-1h1zM983 594h1v1h1v1h1v1h-1v1h-1v1h-1v-1h-1v-1h-1v-1h1v-1h1zM977 595h1v1h1v1h1v1h-1v1h-1v1h-1v-1h-1v-1h-1v-1h1v-1h1zM983 596h1v1h1v1h1v1h-1v1h-1v1h-1v-1h-1v-1h-1v-1h1v-1h1zM977 597h1v1h1v1h1v1h-1v1h-1v1h-1v-1h-1v-1h-1v-1h1v-1h1zM983 598h1v1h1v1h1v1h-1v1h-1v1h-1v-1h-1v-1h-1v-1h1v-1h1zM977 599h1v1h1v1h1v1h-1v1h-1v1h-1v-1h-1v-1h-1v-1h1v-1h1zM983 600h1v1h1v1h1v1h-1v1h-1v1h-1v-1h-1v-1h-1v-1h1v-1h1zM977 601h1v1h1v1h1v1h-1v1h-1v1h-1v-1h-1v-1h-1v-1h1v-1h1zM983 602h1v1h1v1h1v1h-1v1h-1v1h-1v-1h-1v-1h-1v-1h1v-1h1zM977 603h1v1h1v1h1v1h-1v1h-1v1h-1v-1h-1v-1h-1v-1h1v-1h1zM983 604h1v1h1v1h1v1h-1v1h-1v1h-1v-1h-1v-1h-1v-1h1v-1h1zM977 605h1v1h1v1h1v1h-1v1h-1v1h-1v-1h-1v-1h-1v-1h1v-1h1zM983 606h1v1h1v1h1v1h-1v1h-1v1h-1v-1h-1v-1h-1v-1h1v-1h1zM977 607h1v1h1v1h1v1h-1v1h-1v1h-1v-1h-1v-1h-1v-1h1v-1h1zM983 608h1v1h1v1h1v1h-1v1h-1v1h-1v-1h-1v-1h-1v-1h1v-1h1zM977 609h1v1h1v1h1v1h-1v1h-1v1h-1v-1h-1v-1h-1v-1h1v-1h1zM983 610h1v1h1v1h1v1h-1v1h-1v1h-1v-1h-1v-1h-1v-1h1v-1h1zM977 611h1v1h1v1h1v1h-1v1h-1v1h-1v-1h-1v-1h-1v-1h1v-1h1zM983 612h1v1h1v1h1v1h-1v1h-1v1h-1v-1h-1v-1h-1v-1h1v-1h1zM977 613h1v1h1v1h1v1h-1v1h-1v1h-1v-1h-1v-1h-1v-1h1v-1h1zM983 614h1v1h1v1h1v1h-1v1h-1v1h-1v-1h-1v-1h-1v-1h1v-1h1zM977 615h1v1h1v1h1v1h-1v1h-1v1h-1v-1h-1v-1h-1v-1h1v-1h1zM983 616h1v1h1v1h1v1h-1v1h-1v1h-1v-1h-1v-1h-1v-1h1v-1h1zM977 617h1v1h1v1h1v1h-1v1h-1v1h-1v-1h-1v-1h-1v-1h1v-1h1zM983 618h1v1h1v1h1v1h-1v1h-1v1h-1v-1h-1v-1h-1v-1h1v-1h1zM977 619h1v1h1v1h1v1h-1v1h-1v1h-1v-1h-1v-1h-1v-1h1v-1h1zM983 620h1v1h1v1h1v1h-1v1h-1v1h-1v-1h-1v-1h-1v-1h1v-1h1zM977 621h1v1h1v1h1v1h-1v1h-1v1h-1v-1h-1v-1h-1v-1h1v-1h1zM983 622h1v1h1v1h1v1h-1v1h-1v1h-1v-1h-1v-1h-1v-1h1v-1h1zM977 623h1v1h1v1h1v1h-1v1h-1v1h-1v-1h-1v-1h-1v-1h1v-1h1zM983 624h1v1h1v1h1v1h-1v1h-1v1h-1v-1h-1v-1h-1v-1h1v-1h1zM977 625h1v1h1v1h1v1h-1v1h-1v1h-1v-1h-1v-1h-1v-1h1v-1h1zM983 626h1v1h1v1h1v1h-1v1h-1v1h-1v-1h-1v-1h-1v-1h1v-1h1zM977 627h1v1h1v1h1v1h-1v1h-1v1h-1v-1h-1v-1h-1v-1h1v-1h1zM983 628h1v1h1v1h1v1h-1v1h-1v1h-1v-1h-1v-1h-1v-1h1v-1h1zM977 629h1v1h1v1h1v1h-1v1h-1v1h-1v-1h-1v-1h-1v-1h1v-1h1zM983 630h1v1h1v1h1v1h-1v1h-1v1h-1v-1h-1v-1h-1v-1h1v-1h1zM977 631h1v1h1v1h1v1h-1v1h-1v1h-1v-1h-1v-1h-1v-1h1v-1h1zM983 632h1v1h1v1h1v1h-1v1h-1v1h-1v-1h-1v-1h-1v-1h1v-1h1zM977 633h1v1h1v1h1v1h-1v1h-1v1h-1v-1h-1v-1h-1v-1h1v-1h1zM983 634h1v1h1v1h1v1h-1v1h-1v1h-1v-1h-1v-1h-1v-1h1v-1h1zM977 635h1v1h1v1h1v1h-1v1h-1v1h-1v-1h-1v-1h-1v-1h1v-1h1zM983 636h1v1h1v1h1v1h-1v1h-1v1h-1v-1h-1v-1h-1v-1h1v-1h1zM977 637h1v1h1v1h1v1h-1v1h-1v1h-1v-1h-1v-1h-1v-1h1v-1h1zM983 638h1v1h1v1h1v1h-1v1h-1v1h-1v-1h-1v-1h-1v-1h1v-1h1zM977 639h1v1h1v1h1v1h-1v1h-1v1h-1v-1h-1v-1h-1v-1h1v-1h1zM983 640h1v1h1v1h1v1h-1v1h-1v1h-1v-1h-1v-1h-1v-1h1v-1h1zM977 641h1v1h1v1h1v1h-1v1h-1v1h-1v-1h-1v-1h-1v-1h1v-1h1zM983 642h1v1h1v1h1v1h-1v1h-1v1h-1v-1h-1v-1h-1v-1h1v-1h1zM977 643h1v1h1v1h1v1h-1v1h-1v1h-1v-1h-1v-1h-1v-1h1v-1h1zM983 644h1v1h1v1h1v1h-1v1h-1v1h-1v-1h-1v-1h-1v-1h1v-1h1zM977 645h1v1h1v1h1v1h-1v1h-1v1h-1v-1h-1v-1h-1v-1h1v-1h1zM983 646h1v1h1v1h1v1h-1v1h-1v1h-1v-1h-1v-1h-1v-1h1v-1h1zM977 647h1v1h1v1h1v1h-1v1h-1v1h-1v-1h-1v-1h-1v-1h1v-1h1zM983 648h1v1h1v1h1v1h-1v1h-1v1h-1v-1h-1v-1h-1v-1h1v-1h1zM977 649h1v1h1v1h1v1h-1v1h-1v1h-1v-1h-1v-1h-1v-1h1v-1h1zM977 649h1v1h1v1h1v1h-1v1h-1v1h-1v-1h-1v-1h-1v-1h1v-1h1zM983 650h1v1h1v1h1v1h-1v1h-1v1h-1v-1h-1v-1h-1v-1h1v-1h1zM980 651h1v1h1v1h1v1h-1v1h-1v1h-1v-1h-1v-1h-1v-1h1v-1h1zM978 652h1v1h1v1h1v1h-1v1h-1v1h-1v-1h-1v-1h-1v-1h1v-1h1zM982 653h1v1h1v1h1v1h-1v1h-1v1h-1v-1h-1v-1h-1v-1h1v-1h1zM977 655h1v1h1v1h1v1h-1v1h-1v1h-1v-1h-1v-1h-1v-1h1v-1h1zM983 656h1v1h1v1h1v1h-1v1h-1v1h-1v-1h-1v-1h-1v-1h1v-1h1zM980 657h1v1h1v1h1v1h-1v1h-1v1h-1v-1h-1v-1h-1v-1h1v-1h1zM978 658h1v1h1v1h1v1h-1v1h-1v1h-1v-1h-1v-1h-1v-1h1v-1h1zM985 571h1v1h1v1h1v1h-1v1h-1v1h-1v-1h-1v-1h-1v-1h1v-1h1zM981 576h1v1h1v1h1v1h-1v1h-1v1h-1v-1h-1v-1h-1v-1h1v-1h1zM983 582h1v1h1v1h1v1h-1v1h-1v1h-1v-1h-1v-1h-1v-1h1v-1h1zM977 663h1v1h1v1h1v1h-1v1h-1v1h-1v-1h-1v-1h-1v-1h1v-1h1zM980 664h1v1h1v1h1v1h-1v1h-1v1h-1v-1h-1v-1h-1v-1h1v-1h1zM980 668h1v1h1v1h1v1h-1v1h-1v1h-1v-1h-1v-1h-1v-1h1v-1h1zM976 672h1v1h1v1h1v1h-1v1h-1v1h-1v-1h-1v-1h-1v-1h1v-1h1zM978 677h1v1h1v1h1v1h-1v1h-1v1h-1v-1h-1v-1h-1v-1h1v-1h1zM977 683h1v1h1v1h1v1h-1v1h-1v1h-1v-1h-1v-1h-1v-1h1v-1h1zM980 683h1v1h1v1h1v1h-1v1h-1v1h-1v-1h-1v-1h-1v-1h1v-1h1zM977 689h1v1h1v1h1v1h-1v1h-1v1h-1v-1h-1v-1h-1v-1h1v-1h1zM977 696h1v1h1v1h1v1h-1v1h-1v1h-1v-1h-1v-1h-1v-1h1v-1h1zM977 706h1v1h1v1h1v1h-1v1h-1v1h-1v-1h-1v-1h-1v-1h1v-1h1zM978 714h1v1h1v1h1v1h-1v1h-1v1h-1v-1h-1v-1h-1v-1h1v-1h1zM976 720h1v1h1v1h1v1h-1v1h-1v1h-1v-1h-1v-1h-1v-1h1v-1h1zM955 715h1v1h1v1h1v1h-1v1h-1v1h-1v-1h-1v-1h-1v-1h1v-1h1zM978 740h1v1h1v1h1v1h-1v1h-1v1h-1v-1h-1v-1h-1v-1h1v-1h1zM976 744h1v1h1v1h1v1h-1v1h-1v1h-1v-1h-1v-1h-1v-1h1v-1h1zM977 746h1v1h1v1h1v1h-1v1h-1v1h-1v-1h-1v-1h-1v-1h1v-1h1zM977 797h1v1h1v1h1v1h-1v1h-1v1h-1v-1h-1v-1h-1v-1h1v-1h1zM977 802h1v1h1v1h1v1h-1v1h-1v1h-1v-1h-1v-1h-1v-1h1v-1h1zM950 865h1v1h1v1h1v1h-1v1h-1v1h-1v-1h-1v-1h-1v-1h1v-1h1zM1503 358h1v1h1v1h1v1h-1v1h-1v1h-1v-1h-1v-1h-1v-1h1v-1h1zM1503 447h1v1h1v1h1v1h-1v1h-1v1h-1v-1h-1v-1h-1v-1h1v-1h1zM1503 474h1v1h1v1h1v1h-1v1h-1v1h-1v-1h-1v-1h-1v-1h1v-1h1zM1505 494h1v1h1v1h1v1h-1v1h-1v1h-1v-1h-1v-1h-1v-1h1v-1h1zM1500 498h1v1h1v1h1v1h-1v1h-1v1h-1v-1h-1v-1h-1v-1h1v-1h1zM1503 497h1v1h1v1h1v1h-1v1h-1v1h-1v-1h-1v-1h-1v-1h1v-1h1zM1503 504h1v1h1v1h1v1h-1v1h-1v1h-1v-1h-1v-1h-1v-1h1v-1h1zM1505 506h1v1h1v1h1v1h-1v1h-1v1h-1v-1h-1v-1h-1v-1h1v-1h1zM1503 508h1v1h1v1h1v1h-1v1h-1v1h-1v-1h-1v-1h-1v-1h1v-1h1zM1505 510h1v1h1v1h1v1h-1v1h-1v1h-1v-1h-1v-1h-1v-1h1v-1h1zM1503 512h1v1h1v1h1v1h-1v1h-1v1h-1v-1h-1v-1h-1v-1h1v-1h1zM1505 514h1v1h1v1h1v1h-1v1h-1v1h-1v-1h-1v-1h-1v-1h1v-1h1zM1503 516h1v1h1v1h1v1h-1v1h-1v1h-1v-1h-1v-1h-1v-1h1v-1h1zM1505 518h1v1h1v1h1v1h-1v1h-1v1h-1v-1h-1v-1h-1v-1h1v-1h1zM1503 520h1v1h1v1h1v1h-1v1h-1v1h-1v-1h-1v-1h-1v-1h1v-1h1zM1505 522h1v1h1v1h1v1h-1v1h-1v1h-1v-1h-1v-1h-1v-1h1v-1h1zM1503 524h1v1h1v1h1v1h-1v1h-1v1h-1v-1h-1v-1h-1v-1h1v-1h1zM1505 526h1v1h1v1h1v1h-1v1h-1v1h-1v-1h-1v-1h-1v-1h1v-1h1zM1503 528h1v1h1v1h1v1h-1v1h-1v1h-1v-1h-1v-1h-1v-1h1v-1h1zM1505 530h1v1h1v1h1v1h-1v1h-1v1h-1v-1h-1v-1h-1v-1h1v-1h1zM1503 532h1v1h1v1h1v1h-1v1h-1v1h-1v-1h-1v-1h-1v-1h1v-1h1zM1505 534h1v1h1v1h1v1h-1v1h-1v1h-1v-1h-1v-1h-1v-1h1v-1h1zM1503 536h1v1h1v1h1v1h-1v1h-1v1h-1v-1h-1v-1h-1v-1h1v-1h1zM1505 538h1v1h1v1h1v1h-1v1h-1v1h-1v-1h-1v-1h-1v-1h1v-1h1zM1503 540h1v1h1v1h1v1h-1v1h-1v1h-1v-1h-1v-1h-1v-1h1v-1h1zM1505 542h1v1h1v1h1v1h-1v1h-1v1h-1v-1h-1v-1h-1v-1h1v-1h1zM1503 544h1v1h1v1h1v1h-1v1h-1v1h-1v-1h-1v-1h-1v-1h1v-1h1zM1505 546h1v1h1v1h1v1h-1v1h-1v1h-1v-1h-1v-1h-1v-1h1v-1h1zM1500 531h1v1h1v1h1v1h-1v1h-1v1h-1v-1h-1v-1h-1v-1h1v-1h1zM1503 550h1v1h1v1h1v1h-1v1h-1v1h-1v-1h-1v-1h-1v-1h1v-1h1zM1503 566h1v1h1v1h1v1h-1v1h-1v1h-1v-1h-1v-1h-1v-1h1v-1h1zM1503 568h1v1h1v1h1v1h-1v1h-1v1h-1v-1h-1v-1h-1v-1h1v-1h1zM1503 572h1v1h1v1h1v1h-1v1h-1v1h-1v-1h-1v-1h-1v-1h1v-1h1zM1503 581h1v1h1v1h1v1h-1v1h-1v1h-1v-1h-1v-1h-1v-1h1v-1h1zM1503 595h1v1h1v1h1v1h-1v1h-1v1h-1v-1h-1v-1h-1v-1h1v-1h1zM1503 597h1v1h1v1h1v1h-1v1h-1v1h-1v-1h-1v-1h-1v-1h1v-1h1z"/><rect x="976" y="590" width="8" height="62" fill="#f00"/><line x1="246.5" y1="474.4" x2="1711" y2="706.4" stroke="#00f" stroke-width="1" shape-rendering="crispEdges"/><line x1="246.5" y1="753.5" x2="1711" y2="484.4" stroke="#f00" stroke-width="1" shape-rendering="crispEdges"/><path fill="#000" d="M965 611h27v1.1h-27zM978 598h1.1v27h-1.1z"/><g font-family="Liberation Sans" fill="#000"><text transform="translate(393.42,916.50) scale(0.9319,1)" font-size="44" >Dive Turn Rate (<tspan stroke="#fff" stroke-width="0.9">°</tspan>/s) <tspan dy="4">=</tspan><tspan dy="-4"> 0.575461 <tspan stroke="#fff" stroke-width="0.9">°</tspan>/s + Roll control (counts) * -0.00029119</tspan></text><text transform="translate(393.43,971.50) scale(0.9290,1)" font-size="44" >Dive Turn Rate (<tspan stroke="#fff" stroke-width="0.9">°</tspan>/s) <tspan dy="4">=</tspan><tspan dy="-4"> 0.103732 <tspan stroke="#fff" stroke-width="0.9">°</tspan>/s + Roll control (<tspan stroke="#fff" stroke-width="0.9">°</tspan>) * -0.0102994</tspan></text><text transform="translate(393.05,1026.50) scale(0.9298,1)" font-size="44" >Climb Turn Rate (<tspan stroke="#fff" stroke-width="0.9">°</tspan>/s) <tspan dy="4">=</tspan><tspan dy="-4"> -0.58324 <tspan stroke="#fff" stroke-width="0.9">°</tspan>/s + Roll control (counts) * 0.000338127</tspan></text><text transform="translate(393.05,1081.50) scale(0.9324,1)" font-size="44" >Climb Turn Rate (<tspan stroke="#fff" stroke-width="0.9">°</tspan>/s) <tspan dy="4">=</tspan><tspan dy="-4"> -0.0591429 <tspan stroke="#fff" stroke-width="0.9">°</tspan>/s + Roll control (<tspan stroke="#fff" stroke-width="0.9">°</tspan>) * 0.0119596</tspan></text></g><path fill="#000" shape-rendering="crispEdges" d="M312 99h1v15h-1zM312 1109h1v15h-1zM445 99h1v15h-1zM445 1109h1v15h-1zM578 99h1v15h-1zM578 1109h1v15h-1zM712 99h1v15h-1zM712 1109h1v15h-1zM845 99h1v15h-1zM845 1109h1v15h-1zM978 99h1v15h-1zM978 1109h1v15h-1zM1111 99h1v15h-1zM1111 1109h1v15h-1zM1244 99h1v15h-1zM1244 1109h1v15h-1zM1378 99h1v15h-1zM1378 1109h1v15h-1zM1511 99h1v15h-1zM1511 1109h1v15h-1zM1644 99h1v15h-1zM1644 1109h1v15h-1zM246 100h15v1h-15zM1697 100h15v1h-15zM246 202h15v1h-15zM1697 202h15v1h-15zM246 304h15v1h-15zM1697 304h15v1h-15zM246 406h15v1h-15zM1697 406h15v1h-15zM246 509h15v1h-15zM1697 509h15v1h-15zM246 611h15v1h-15zM1697 611h15v1h-15zM246 713h15v1h-15zM1697 713h15v1h-15zM246 816h15v1h-15zM1697 816h15v1h-15zM246 918h15v1h-15zM1697 918h15v1h-15zM246 1020h15v1h-15zM1697 1020h15v1h-15zM246 1123h15v1h-15zM1697 1123h15v1h-15zM246 99h1466v1h-1466zM246 1123h1466v1h-1466zM246 99h1v1025h-1zM1711 99h1v1025h-1z"/><rect x="1474" y="114" width="225" height="127" fill="#fff"/><path fill="#000" shape-rendering="crispEdges" d="M1474 114h225v1h-225zM1474 240h225v1h-225zM1474 114h1v127h-1zM1698 114h1v127h-1z"/><path fill="#0000ff" d="M1531 145h1v1h1v1h1v1h-1v1h-1v1h-1v-1h-1v-1h-1v-1h1v-1h1z"/><path fill="#ff0000" d="M1531 204h1v1h1v1h1v1h-1v1h-1v1h-1v-1h-1v-1h-1v-1h1v-1h1z"/><g font-family="Liberation Sans" fill="#000"><text transform="translate(1582.56,169.00) scale(0.9200,1)" font-size="44" >Dive</text><text transform="translate(1583.95,228.00) scale(0.9331,1)" font-size="44" >Climb</text></g>
</svg></body></html>
